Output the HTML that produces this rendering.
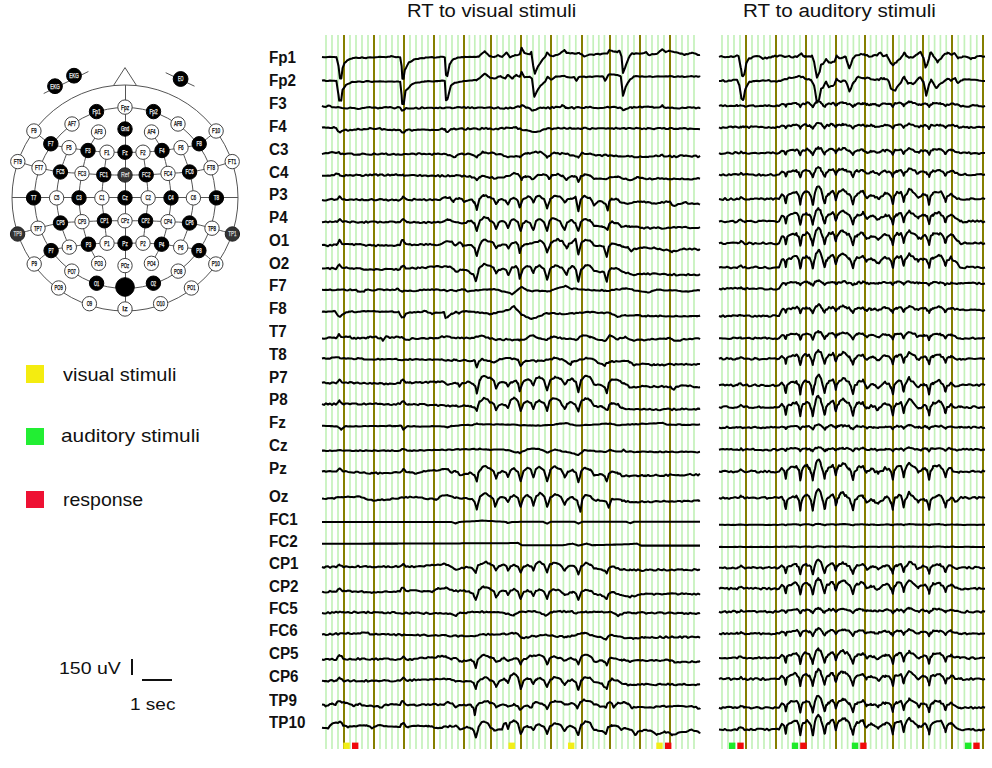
<!DOCTYPE html><html><head><meta charset="utf-8"><style>
html,body{margin:0;padding:0;background:#fff;}
body{width:992px;height:768px;position:relative;overflow:hidden;font-family:"Liberation Sans",sans-serif;color:#111;}
.t{position:absolute;white-space:nowrap;}
.lab{position:absolute;left:269px;font-weight:bold;font-size:16px;line-height:1;color:#111;transform:scaleX(0.95);transform-origin:0 0;}
.sq{position:absolute;left:26px;width:18px;height:18px;}
</style></head><body>
<svg width="250" height="330" viewBox="0 0 250 330" style="position:absolute;left:0;top:0">
<circle cx="125" cy="198" r="113" fill="none" stroke="#555" stroke-width="1"/>
<circle cx="125" cy="198" r="90.5" fill="none" stroke="#555" stroke-width="1"/>
<path d="M113.5,85.5 L125,67.6 L136.5,85.5" fill="none" stroke="#555" stroke-width="1"/>
<path d="M125.5,85 L125.5,311 M12,197.5 L238,197.5" fill="none" stroke="#555" stroke-width="1"/>
<path d="M33.9,131.0 C36.7,133.1 44.9,141.0 50.8,143.8 C56.6,146.6 62.8,146.6 69.0,147.7 C75.2,148.8 81.7,149.8 88.0,150.5 C94.3,151.2 100.8,151.9 107.0,152.2 C113.2,152.5 119.0,152.2 125.0,152.2 C131.0,152.2 136.8,152.5 143.0,152.2 C149.2,151.9 155.7,151.2 162.0,150.5 C168.3,149.8 174.8,148.8 181.0,147.7 C187.2,146.6 193.3,146.6 199.2,143.8 C205.0,141.0 213.3,133.1 216.1,131.0" fill="none" stroke="#555" stroke-width="1"/>
<path d="M17.8,161.6 C21.3,162.6 31.9,166.1 39.0,167.8 C46.1,169.5 53.2,171.1 60.4,172.0 C67.6,172.9 74.8,172.9 82.0,173.4 C89.2,173.9 96.6,174.5 103.8,174.8 C111.0,175.1 117.9,175.0 125.0,175.0 C132.1,175.0 139.0,175.1 146.2,174.8 C153.4,174.5 160.8,173.9 168.0,173.4 C175.2,172.9 182.4,172.9 189.6,172.0 C196.8,171.1 203.9,169.5 211.0,167.8 C218.1,166.1 228.7,162.6 232.2,161.6" fill="none" stroke="#555" stroke-width="1"/>
<path d="M17.6,234.0 C21.0,233.0 30.9,230.0 38.0,228.2 C45.1,226.4 53.2,224.1 60.5,223.0 C67.8,221.9 74.7,222.1 82.0,221.7 C89.3,221.3 97.2,221.0 104.4,220.8 C111.6,220.7 118.1,220.8 125.0,220.8 C131.9,220.8 138.4,220.7 145.6,220.8 C152.8,221.0 160.7,221.3 168.0,221.7 C175.3,222.1 182.2,221.9 189.5,223.0 C196.8,224.1 204.8,226.4 212.0,228.2 C219.2,230.0 229.0,233.0 232.4,234.0" fill="none" stroke="#555" stroke-width="1"/>
<path d="M34.2,264.0 C37.0,261.8 45.2,253.4 51.1,250.6 C57.0,247.8 63.1,248.2 69.3,247.1 C75.5,246.0 82.1,244.8 88.4,244.2 C94.7,243.5 100.9,243.4 107.0,243.2 C113.1,243.0 119.0,243.2 125.0,243.2 C131.0,243.2 136.9,243.0 143.0,243.2 C149.1,243.4 155.3,243.5 161.6,244.2 C167.9,244.8 174.5,246.0 180.7,247.1 C186.9,248.2 193.1,247.8 198.9,250.6 C204.8,253.4 213.0,261.8 215.8,264.0" fill="none" stroke="#555" stroke-width="1"/>
<path d="M98.5,132.0 C96.8,135.1 90.8,143.6 88.0,150.5 C85.2,157.4 83.5,165.5 82.0,173.4 C80.5,181.3 79.0,189.9 79.0,197.9 C79.0,205.9 80.4,214.0 82.0,221.7 C83.6,229.4 85.6,237.3 88.4,244.2 C91.2,251.1 96.9,260.1 98.6,263.3" fill="none" stroke="#555" stroke-width="1"/>
<path d="M151.5,132.0 C153.2,135.1 159.2,143.6 162.0,150.5 C164.8,157.4 166.5,165.5 168.0,173.4 C169.5,181.3 171.0,189.9 171.0,197.9 C171.0,205.9 169.6,214.0 168.0,221.7 C166.4,229.4 164.4,237.3 161.6,244.2 C158.8,251.1 153.1,260.1 151.4,263.3" fill="none" stroke="#555" stroke-width="1"/>
<path d="M69.0,147.7 C67.6,151.8 62.5,163.6 60.4,172.0 C58.3,180.4 56.6,189.4 56.6,197.9 C56.6,206.4 58.4,214.8 60.5,223.0 C62.6,231.2 67.8,243.1 69.3,247.1" fill="none" stroke="#555" stroke-width="1"/>
<path d="M181.0,147.7 C182.4,151.8 187.5,163.6 189.6,172.0 C191.7,180.4 193.4,189.4 193.4,197.9 C193.4,206.4 191.6,214.8 189.5,223.0 C187.4,231.2 182.2,243.1 180.7,247.1" fill="none" stroke="#555" stroke-width="1"/>
<path d="M107.0,152.2 C106.5,156.0 104.6,167.2 103.8,174.8 C103.0,182.4 101.8,190.2 101.9,197.9 C102.0,205.6 103.6,213.2 104.4,220.8 C105.2,228.4 106.6,239.5 107.0,243.2" fill="none" stroke="#555" stroke-width="1"/>
<path d="M143.0,152.2 C143.5,156.0 145.3,167.2 146.2,174.8 C147.0,182.4 148.2,190.2 148.1,197.9 C148.0,205.6 146.4,213.2 145.6,220.8 C144.8,228.4 143.4,239.5 143.0,243.2" fill="none" stroke="#555" stroke-width="1"/>
<path d="M43.7,93.5 L88.4,71.5 M165.7,72.7 L194.5,86.2" fill="none" stroke="#555" stroke-width="1"/>
<circle cx="125.0" cy="107.1" r="7.2" fill="#fff" stroke="#444" stroke-width="1"/><text x="125.0" y="109.5" font-size="6.6" fill="#000" text-anchor="middle" font-family="Liberation Sans" stroke="#000" stroke-width="0.25" textLength="8.2" lengthAdjust="spacingAndGlyphs">Fpz</text>
<circle cx="125.0" cy="129.0" r="7.2" fill="#000" stroke="#000" stroke-width="1"/><text x="125.0" y="131.4" font-size="6.6" fill="#f4f4f4" text-anchor="middle" font-family="Liberation Sans" stroke="#f4f4f4" stroke-width="0.25" textLength="8.2" lengthAdjust="spacingAndGlyphs">Gnd</text>
<circle cx="125.0" cy="152.2" r="7.2" fill="#000" stroke="#000" stroke-width="1"/><text x="125.0" y="154.6" font-size="6.6" fill="#f4f4f4" text-anchor="middle" font-family="Liberation Sans" stroke="#f4f4f4" stroke-width="0.25" textLength="5.4" lengthAdjust="spacingAndGlyphs">Fz</text>
<circle cx="125.0" cy="175.0" r="7.2" fill="#333" stroke="#222" stroke-width="1"/><text x="125.0" y="177.4" font-size="6.6" fill="#ddd" text-anchor="middle" font-family="Liberation Sans" stroke="#ddd" stroke-width="0.25" textLength="8.2" lengthAdjust="spacingAndGlyphs">Ref</text>
<circle cx="125.0" cy="197.9" r="7.2" fill="#000" stroke="#000" stroke-width="1"/><text x="125.0" y="200.3" font-size="6.6" fill="#f4f4f4" text-anchor="middle" font-family="Liberation Sans" stroke="#f4f4f4" stroke-width="0.25" textLength="5.4" lengthAdjust="spacingAndGlyphs">Cz</text>
<circle cx="125.0" cy="220.8" r="7.2" fill="#fff" stroke="#444" stroke-width="1"/><text x="125.0" y="223.2" font-size="6.6" fill="#000" text-anchor="middle" font-family="Liberation Sans" stroke="#000" stroke-width="0.25" textLength="8.2" lengthAdjust="spacingAndGlyphs">CPz</text>
<circle cx="125.0" cy="243.2" r="7.2" fill="#000" stroke="#000" stroke-width="1"/><text x="125.0" y="245.6" font-size="6.6" fill="#f4f4f4" text-anchor="middle" font-family="Liberation Sans" stroke="#f4f4f4" stroke-width="0.25" textLength="5.4" lengthAdjust="spacingAndGlyphs">Pz</text>
<circle cx="125.0" cy="265.6" r="7.2" fill="#fff" stroke="#444" stroke-width="1"/><text x="125.0" y="268.0" font-size="6.6" fill="#000" text-anchor="middle" font-family="Liberation Sans" stroke="#000" stroke-width="0.25" textLength="8.2" lengthAdjust="spacingAndGlyphs">POz</text>
<circle cx="125.0" cy="287.0" r="9.3" fill="#000" stroke="#000" stroke-width="1"/>
<circle cx="125.0" cy="309.0" r="7.2" fill="#fff" stroke="#444" stroke-width="1"/><text x="125.0" y="311.4" font-size="6.6" fill="#000" text-anchor="middle" font-family="Liberation Sans" stroke="#000" stroke-width="0.25" textLength="5.4" lengthAdjust="spacingAndGlyphs">Iz</text>
<circle cx="96.5" cy="111.6" r="7.2" fill="#000" stroke="#000" stroke-width="1"/><text x="96.5" y="114.0" font-size="6.6" fill="#f4f4f4" text-anchor="middle" font-family="Liberation Sans" stroke="#f4f4f4" stroke-width="0.25" textLength="8.2" lengthAdjust="spacingAndGlyphs">Fp1</text>
<circle cx="153.5" cy="111.6" r="7.2" fill="#000" stroke="#000" stroke-width="1"/><text x="153.5" y="114.0" font-size="6.6" fill="#f4f4f4" text-anchor="middle" font-family="Liberation Sans" stroke="#f4f4f4" stroke-width="0.25" textLength="8.2" lengthAdjust="spacingAndGlyphs">Fp2</text>
<circle cx="72.0" cy="124.0" r="7.2" fill="#fff" stroke="#444" stroke-width="1"/><text x="72.0" y="126.4" font-size="6.6" fill="#000" text-anchor="middle" font-family="Liberation Sans" stroke="#000" stroke-width="0.25" textLength="8.2" lengthAdjust="spacingAndGlyphs">AF7</text>
<circle cx="178.0" cy="124.0" r="7.2" fill="#fff" stroke="#444" stroke-width="1"/><text x="178.0" y="126.4" font-size="6.6" fill="#000" text-anchor="middle" font-family="Liberation Sans" stroke="#000" stroke-width="0.25" textLength="8.2" lengthAdjust="spacingAndGlyphs">AF8</text>
<circle cx="98.5" cy="132.0" r="7.2" fill="#fff" stroke="#444" stroke-width="1"/><text x="98.5" y="134.4" font-size="6.6" fill="#000" text-anchor="middle" font-family="Liberation Sans" stroke="#000" stroke-width="0.25" textLength="8.2" lengthAdjust="spacingAndGlyphs">AF3</text>
<circle cx="151.5" cy="132.0" r="7.2" fill="#fff" stroke="#444" stroke-width="1"/><text x="151.5" y="134.4" font-size="6.6" fill="#000" text-anchor="middle" font-family="Liberation Sans" stroke="#000" stroke-width="0.25" textLength="8.2" lengthAdjust="spacingAndGlyphs">AF4</text>
<circle cx="33.9" cy="131.0" r="7.2" fill="#fff" stroke="#444" stroke-width="1"/><text x="33.9" y="133.4" font-size="6.6" fill="#000" text-anchor="middle" font-family="Liberation Sans" stroke="#000" stroke-width="0.25" textLength="5.4" lengthAdjust="spacingAndGlyphs">F9</text>
<circle cx="216.1" cy="131.0" r="7.2" fill="#fff" stroke="#444" stroke-width="1"/><text x="216.1" y="133.4" font-size="6.6" fill="#000" text-anchor="middle" font-family="Liberation Sans" stroke="#000" stroke-width="0.25" textLength="8.2" lengthAdjust="spacingAndGlyphs">F10</text>
<circle cx="50.8" cy="143.8" r="7.2" fill="#000" stroke="#000" stroke-width="1"/><text x="50.8" y="146.2" font-size="6.6" fill="#f4f4f4" text-anchor="middle" font-family="Liberation Sans" stroke="#f4f4f4" stroke-width="0.25" textLength="5.4" lengthAdjust="spacingAndGlyphs">F7</text>
<circle cx="199.2" cy="143.8" r="7.2" fill="#000" stroke="#000" stroke-width="1"/><text x="199.2" y="146.2" font-size="6.6" fill="#f4f4f4" text-anchor="middle" font-family="Liberation Sans" stroke="#f4f4f4" stroke-width="0.25" textLength="5.4" lengthAdjust="spacingAndGlyphs">F8</text>
<circle cx="69.0" cy="147.7" r="7.2" fill="#fff" stroke="#444" stroke-width="1"/><text x="69.0" y="150.1" font-size="6.6" fill="#000" text-anchor="middle" font-family="Liberation Sans" stroke="#000" stroke-width="0.25" textLength="5.4" lengthAdjust="spacingAndGlyphs">F5</text>
<circle cx="181.0" cy="147.7" r="7.2" fill="#fff" stroke="#444" stroke-width="1"/><text x="181.0" y="150.1" font-size="6.6" fill="#000" text-anchor="middle" font-family="Liberation Sans" stroke="#000" stroke-width="0.25" textLength="5.4" lengthAdjust="spacingAndGlyphs">F6</text>
<circle cx="88.0" cy="150.5" r="7.2" fill="#000" stroke="#000" stroke-width="1"/><text x="88.0" y="152.9" font-size="6.6" fill="#f4f4f4" text-anchor="middle" font-family="Liberation Sans" stroke="#f4f4f4" stroke-width="0.25" textLength="5.4" lengthAdjust="spacingAndGlyphs">F3</text>
<circle cx="162.0" cy="150.5" r="7.2" fill="#000" stroke="#000" stroke-width="1"/><text x="162.0" y="152.9" font-size="6.6" fill="#f4f4f4" text-anchor="middle" font-family="Liberation Sans" stroke="#f4f4f4" stroke-width="0.25" textLength="5.4" lengthAdjust="spacingAndGlyphs">F4</text>
<circle cx="107.0" cy="152.2" r="7.2" fill="#fff" stroke="#444" stroke-width="1"/><text x="107.0" y="154.6" font-size="6.6" fill="#000" text-anchor="middle" font-family="Liberation Sans" stroke="#000" stroke-width="0.25" textLength="5.4" lengthAdjust="spacingAndGlyphs">F1</text>
<circle cx="143.0" cy="152.2" r="7.2" fill="#fff" stroke="#444" stroke-width="1"/><text x="143.0" y="154.6" font-size="6.6" fill="#000" text-anchor="middle" font-family="Liberation Sans" stroke="#000" stroke-width="0.25" textLength="5.4" lengthAdjust="spacingAndGlyphs">F2</text>
<circle cx="17.8" cy="161.6" r="7.2" fill="#fff" stroke="#444" stroke-width="1"/><text x="17.8" y="164.0" font-size="6.6" fill="#000" text-anchor="middle" font-family="Liberation Sans" stroke="#000" stroke-width="0.25" textLength="8.2" lengthAdjust="spacingAndGlyphs">FT9</text>
<circle cx="232.2" cy="161.6" r="7.2" fill="#fff" stroke="#444" stroke-width="1"/><text x="232.2" y="164.0" font-size="6.6" fill="#000" text-anchor="middle" font-family="Liberation Sans" stroke="#000" stroke-width="0.25" textLength="8.2" lengthAdjust="spacingAndGlyphs">FT1</text>
<circle cx="39.0" cy="167.8" r="7.2" fill="#fff" stroke="#444" stroke-width="1"/><text x="39.0" y="170.2" font-size="6.6" fill="#000" text-anchor="middle" font-family="Liberation Sans" stroke="#000" stroke-width="0.25" textLength="8.2" lengthAdjust="spacingAndGlyphs">FT7</text>
<circle cx="211.0" cy="167.8" r="7.2" fill="#fff" stroke="#444" stroke-width="1"/><text x="211.0" y="170.2" font-size="6.6" fill="#000" text-anchor="middle" font-family="Liberation Sans" stroke="#000" stroke-width="0.25" textLength="8.2" lengthAdjust="spacingAndGlyphs">FT8</text>
<circle cx="60.4" cy="172.0" r="7.2" fill="#000" stroke="#000" stroke-width="1"/><text x="60.4" y="174.4" font-size="6.6" fill="#f4f4f4" text-anchor="middle" font-family="Liberation Sans" stroke="#f4f4f4" stroke-width="0.25" textLength="8.2" lengthAdjust="spacingAndGlyphs">FC5</text>
<circle cx="189.6" cy="172.0" r="7.2" fill="#000" stroke="#000" stroke-width="1"/><text x="189.6" y="174.4" font-size="6.6" fill="#f4f4f4" text-anchor="middle" font-family="Liberation Sans" stroke="#f4f4f4" stroke-width="0.25" textLength="8.2" lengthAdjust="spacingAndGlyphs">FC6</text>
<circle cx="82.0" cy="173.4" r="7.2" fill="#fff" stroke="#444" stroke-width="1"/><text x="82.0" y="175.8" font-size="6.6" fill="#000" text-anchor="middle" font-family="Liberation Sans" stroke="#000" stroke-width="0.25" textLength="8.2" lengthAdjust="spacingAndGlyphs">FC3</text>
<circle cx="168.0" cy="173.4" r="7.2" fill="#fff" stroke="#444" stroke-width="1"/><text x="168.0" y="175.8" font-size="6.6" fill="#000" text-anchor="middle" font-family="Liberation Sans" stroke="#000" stroke-width="0.25" textLength="8.2" lengthAdjust="spacingAndGlyphs">FC4</text>
<circle cx="103.8" cy="174.8" r="7.2" fill="#000" stroke="#000" stroke-width="1"/><text x="103.8" y="177.2" font-size="6.6" fill="#f4f4f4" text-anchor="middle" font-family="Liberation Sans" stroke="#f4f4f4" stroke-width="0.25" textLength="8.2" lengthAdjust="spacingAndGlyphs">FC1</text>
<circle cx="146.2" cy="174.8" r="7.2" fill="#000" stroke="#000" stroke-width="1"/><text x="146.2" y="177.2" font-size="6.6" fill="#f4f4f4" text-anchor="middle" font-family="Liberation Sans" stroke="#f4f4f4" stroke-width="0.25" textLength="8.2" lengthAdjust="spacingAndGlyphs">FC2</text>
<circle cx="33.6" cy="197.9" r="7.2" fill="#000" stroke="#000" stroke-width="1"/><text x="33.6" y="200.3" font-size="6.6" fill="#f4f4f4" text-anchor="middle" font-family="Liberation Sans" stroke="#f4f4f4" stroke-width="0.25" textLength="5.4" lengthAdjust="spacingAndGlyphs">T7</text>
<circle cx="216.4" cy="197.9" r="7.2" fill="#000" stroke="#000" stroke-width="1"/><text x="216.4" y="200.3" font-size="6.6" fill="#f4f4f4" text-anchor="middle" font-family="Liberation Sans" stroke="#f4f4f4" stroke-width="0.25" textLength="5.4" lengthAdjust="spacingAndGlyphs">T8</text>
<circle cx="56.6" cy="197.9" r="7.2" fill="#fff" stroke="#444" stroke-width="1"/><text x="56.6" y="200.3" font-size="6.6" fill="#000" text-anchor="middle" font-family="Liberation Sans" stroke="#000" stroke-width="0.25" textLength="5.4" lengthAdjust="spacingAndGlyphs">C5</text>
<circle cx="193.4" cy="197.9" r="7.2" fill="#fff" stroke="#444" stroke-width="1"/><text x="193.4" y="200.3" font-size="6.6" fill="#000" text-anchor="middle" font-family="Liberation Sans" stroke="#000" stroke-width="0.25" textLength="5.4" lengthAdjust="spacingAndGlyphs">C6</text>
<circle cx="79.0" cy="197.9" r="7.2" fill="#000" stroke="#000" stroke-width="1"/><text x="79.0" y="200.3" font-size="6.6" fill="#f4f4f4" text-anchor="middle" font-family="Liberation Sans" stroke="#f4f4f4" stroke-width="0.25" textLength="5.4" lengthAdjust="spacingAndGlyphs">C3</text>
<circle cx="171.0" cy="197.9" r="7.2" fill="#000" stroke="#000" stroke-width="1"/><text x="171.0" y="200.3" font-size="6.6" fill="#f4f4f4" text-anchor="middle" font-family="Liberation Sans" stroke="#f4f4f4" stroke-width="0.25" textLength="5.4" lengthAdjust="spacingAndGlyphs">C4</text>
<circle cx="101.9" cy="197.9" r="7.2" fill="#fff" stroke="#444" stroke-width="1"/><text x="101.9" y="200.3" font-size="6.6" fill="#000" text-anchor="middle" font-family="Liberation Sans" stroke="#000" stroke-width="0.25" textLength="5.4" lengthAdjust="spacingAndGlyphs">C1</text>
<circle cx="148.1" cy="197.9" r="7.2" fill="#fff" stroke="#444" stroke-width="1"/><text x="148.1" y="200.3" font-size="6.6" fill="#000" text-anchor="middle" font-family="Liberation Sans" stroke="#000" stroke-width="0.25" textLength="5.4" lengthAdjust="spacingAndGlyphs">C2</text>
<circle cx="17.6" cy="234.0" r="7.2" fill="#333" stroke="#222" stroke-width="1"/><text x="17.6" y="236.4" font-size="6.6" fill="#ddd" text-anchor="middle" font-family="Liberation Sans" stroke="#ddd" stroke-width="0.25" textLength="8.2" lengthAdjust="spacingAndGlyphs">TP9</text>
<circle cx="232.4" cy="234.0" r="7.2" fill="#333" stroke="#222" stroke-width="1"/><text x="232.4" y="236.4" font-size="6.6" fill="#ddd" text-anchor="middle" font-family="Liberation Sans" stroke="#ddd" stroke-width="0.25" textLength="8.2" lengthAdjust="spacingAndGlyphs">TP1</text>
<circle cx="38.0" cy="228.2" r="7.2" fill="#fff" stroke="#444" stroke-width="1"/><text x="38.0" y="230.6" font-size="6.6" fill="#000" text-anchor="middle" font-family="Liberation Sans" stroke="#000" stroke-width="0.25" textLength="8.2" lengthAdjust="spacingAndGlyphs">TP7</text>
<circle cx="212.0" cy="228.2" r="7.2" fill="#fff" stroke="#444" stroke-width="1"/><text x="212.0" y="230.6" font-size="6.6" fill="#000" text-anchor="middle" font-family="Liberation Sans" stroke="#000" stroke-width="0.25" textLength="8.2" lengthAdjust="spacingAndGlyphs">TP8</text>
<circle cx="60.5" cy="223.0" r="7.2" fill="#000" stroke="#000" stroke-width="1"/><text x="60.5" y="225.4" font-size="6.6" fill="#f4f4f4" text-anchor="middle" font-family="Liberation Sans" stroke="#f4f4f4" stroke-width="0.25" textLength="8.2" lengthAdjust="spacingAndGlyphs">CP5</text>
<circle cx="189.5" cy="223.0" r="7.2" fill="#000" stroke="#000" stroke-width="1"/><text x="189.5" y="225.4" font-size="6.6" fill="#f4f4f4" text-anchor="middle" font-family="Liberation Sans" stroke="#f4f4f4" stroke-width="0.25" textLength="8.2" lengthAdjust="spacingAndGlyphs">CP6</text>
<circle cx="82.0" cy="221.7" r="7.2" fill="#fff" stroke="#444" stroke-width="1"/><text x="82.0" y="224.1" font-size="6.6" fill="#000" text-anchor="middle" font-family="Liberation Sans" stroke="#000" stroke-width="0.25" textLength="8.2" lengthAdjust="spacingAndGlyphs">CP3</text>
<circle cx="168.0" cy="221.7" r="7.2" fill="#fff" stroke="#444" stroke-width="1"/><text x="168.0" y="224.1" font-size="6.6" fill="#000" text-anchor="middle" font-family="Liberation Sans" stroke="#000" stroke-width="0.25" textLength="8.2" lengthAdjust="spacingAndGlyphs">CP4</text>
<circle cx="104.4" cy="220.8" r="7.2" fill="#000" stroke="#000" stroke-width="1"/><text x="104.4" y="223.2" font-size="6.6" fill="#f4f4f4" text-anchor="middle" font-family="Liberation Sans" stroke="#f4f4f4" stroke-width="0.25" textLength="8.2" lengthAdjust="spacingAndGlyphs">CP1</text>
<circle cx="145.6" cy="220.8" r="7.2" fill="#000" stroke="#000" stroke-width="1"/><text x="145.6" y="223.2" font-size="6.6" fill="#f4f4f4" text-anchor="middle" font-family="Liberation Sans" stroke="#f4f4f4" stroke-width="0.25" textLength="8.2" lengthAdjust="spacingAndGlyphs">CP2</text>
<circle cx="34.2" cy="264.0" r="7.2" fill="#fff" stroke="#444" stroke-width="1"/><text x="34.2" y="266.4" font-size="6.6" fill="#000" text-anchor="middle" font-family="Liberation Sans" stroke="#000" stroke-width="0.25" textLength="5.4" lengthAdjust="spacingAndGlyphs">P9</text>
<circle cx="215.8" cy="264.0" r="7.2" fill="#fff" stroke="#444" stroke-width="1"/><text x="215.8" y="266.4" font-size="6.6" fill="#000" text-anchor="middle" font-family="Liberation Sans" stroke="#000" stroke-width="0.25" textLength="8.2" lengthAdjust="spacingAndGlyphs">P10</text>
<circle cx="51.1" cy="250.6" r="7.2" fill="#000" stroke="#000" stroke-width="1"/><text x="51.1" y="253.0" font-size="6.6" fill="#f4f4f4" text-anchor="middle" font-family="Liberation Sans" stroke="#f4f4f4" stroke-width="0.25" textLength="5.4" lengthAdjust="spacingAndGlyphs">P7</text>
<circle cx="198.9" cy="250.6" r="7.2" fill="#000" stroke="#000" stroke-width="1"/><text x="198.9" y="253.0" font-size="6.6" fill="#f4f4f4" text-anchor="middle" font-family="Liberation Sans" stroke="#f4f4f4" stroke-width="0.25" textLength="5.4" lengthAdjust="spacingAndGlyphs">P8</text>
<circle cx="69.3" cy="247.1" r="7.2" fill="#fff" stroke="#444" stroke-width="1"/><text x="69.3" y="249.5" font-size="6.6" fill="#000" text-anchor="middle" font-family="Liberation Sans" stroke="#000" stroke-width="0.25" textLength="5.4" lengthAdjust="spacingAndGlyphs">P5</text>
<circle cx="180.7" cy="247.1" r="7.2" fill="#fff" stroke="#444" stroke-width="1"/><text x="180.7" y="249.5" font-size="6.6" fill="#000" text-anchor="middle" font-family="Liberation Sans" stroke="#000" stroke-width="0.25" textLength="5.4" lengthAdjust="spacingAndGlyphs">P6</text>
<circle cx="88.4" cy="244.2" r="7.2" fill="#000" stroke="#000" stroke-width="1"/><text x="88.4" y="246.6" font-size="6.6" fill="#f4f4f4" text-anchor="middle" font-family="Liberation Sans" stroke="#f4f4f4" stroke-width="0.25" textLength="5.4" lengthAdjust="spacingAndGlyphs">P3</text>
<circle cx="161.6" cy="244.2" r="7.2" fill="#000" stroke="#000" stroke-width="1"/><text x="161.6" y="246.6" font-size="6.6" fill="#f4f4f4" text-anchor="middle" font-family="Liberation Sans" stroke="#f4f4f4" stroke-width="0.25" textLength="5.4" lengthAdjust="spacingAndGlyphs">P4</text>
<circle cx="107.0" cy="243.2" r="7.2" fill="#fff" stroke="#444" stroke-width="1"/><text x="107.0" y="245.6" font-size="6.6" fill="#000" text-anchor="middle" font-family="Liberation Sans" stroke="#000" stroke-width="0.25" textLength="5.4" lengthAdjust="spacingAndGlyphs">P1</text>
<circle cx="143.0" cy="243.2" r="7.2" fill="#fff" stroke="#444" stroke-width="1"/><text x="143.0" y="245.6" font-size="6.6" fill="#000" text-anchor="middle" font-family="Liberation Sans" stroke="#000" stroke-width="0.25" textLength="5.4" lengthAdjust="spacingAndGlyphs">P2</text>
<circle cx="58.6" cy="288.0" r="7.2" fill="#fff" stroke="#444" stroke-width="1"/><text x="58.6" y="290.4" font-size="6.6" fill="#000" text-anchor="middle" font-family="Liberation Sans" stroke="#000" stroke-width="0.25" textLength="8.2" lengthAdjust="spacingAndGlyphs">PO9</text>
<circle cx="191.4" cy="288.0" r="7.2" fill="#fff" stroke="#444" stroke-width="1"/><text x="191.4" y="290.4" font-size="6.6" fill="#000" text-anchor="middle" font-family="Liberation Sans" stroke="#000" stroke-width="0.25" textLength="8.2" lengthAdjust="spacingAndGlyphs">PO1</text>
<circle cx="71.8" cy="271.1" r="7.2" fill="#fff" stroke="#444" stroke-width="1"/><text x="71.8" y="273.5" font-size="6.6" fill="#000" text-anchor="middle" font-family="Liberation Sans" stroke="#000" stroke-width="0.25" textLength="8.2" lengthAdjust="spacingAndGlyphs">PO7</text>
<circle cx="178.2" cy="271.1" r="7.2" fill="#fff" stroke="#444" stroke-width="1"/><text x="178.2" y="273.5" font-size="6.6" fill="#000" text-anchor="middle" font-family="Liberation Sans" stroke="#000" stroke-width="0.25" textLength="8.2" lengthAdjust="spacingAndGlyphs">PO8</text>
<circle cx="98.6" cy="263.3" r="7.2" fill="#fff" stroke="#444" stroke-width="1"/><text x="98.6" y="265.7" font-size="6.6" fill="#000" text-anchor="middle" font-family="Liberation Sans" stroke="#000" stroke-width="0.25" textLength="8.2" lengthAdjust="spacingAndGlyphs">PO3</text>
<circle cx="151.4" cy="263.3" r="7.2" fill="#fff" stroke="#444" stroke-width="1"/><text x="151.4" y="265.7" font-size="6.6" fill="#000" text-anchor="middle" font-family="Liberation Sans" stroke="#000" stroke-width="0.25" textLength="8.2" lengthAdjust="spacingAndGlyphs">PO4</text>
<circle cx="89.4" cy="303.7" r="7.2" fill="#fff" stroke="#444" stroke-width="1"/><text x="89.4" y="306.1" font-size="6.6" fill="#000" text-anchor="middle" font-family="Liberation Sans" stroke="#000" stroke-width="0.25" textLength="5.4" lengthAdjust="spacingAndGlyphs">O9</text>
<circle cx="160.6" cy="303.7" r="7.2" fill="#fff" stroke="#444" stroke-width="1"/><text x="160.6" y="306.1" font-size="6.6" fill="#000" text-anchor="middle" font-family="Liberation Sans" stroke="#000" stroke-width="0.25" textLength="8.2" lengthAdjust="spacingAndGlyphs">O10</text>
<circle cx="96.6" cy="283.2" r="7.2" fill="#000" stroke="#000" stroke-width="1"/><text x="96.6" y="285.6" font-size="6.6" fill="#f4f4f4" text-anchor="middle" font-family="Liberation Sans" stroke="#f4f4f4" stroke-width="0.25" textLength="5.4" lengthAdjust="spacingAndGlyphs">O1</text>
<circle cx="153.4" cy="283.2" r="7.2" fill="#000" stroke="#000" stroke-width="1"/><text x="153.4" y="285.6" font-size="6.6" fill="#f4f4f4" text-anchor="middle" font-family="Liberation Sans" stroke="#f4f4f4" stroke-width="0.25" textLength="5.4" lengthAdjust="spacingAndGlyphs">O2</text>
<circle cx="55.0" cy="86.2" r="7.4" fill="#000" stroke="#000" stroke-width="1"/><text x="55.0" y="88.6" font-size="6.6" fill="#f4f4f4" text-anchor="middle" font-family="Liberation Sans" stroke="#f4f4f4" stroke-width="0.25" textLength="9.6" lengthAdjust="spacingAndGlyphs">EKG</text>
<circle cx="74.0" cy="75.7" r="7.4" fill="#000" stroke="#000" stroke-width="1"/><text x="74.0" y="78.1" font-size="6.6" fill="#f4f4f4" text-anchor="middle" font-family="Liberation Sans" stroke="#f4f4f4" stroke-width="0.25" textLength="9.6" lengthAdjust="spacingAndGlyphs">EKG</text>
<circle cx="180.6" cy="79.0" r="7.4" fill="#000" stroke="#000" stroke-width="1"/><text x="180.6" y="81.4" font-size="6.6" fill="#f4f4f4" text-anchor="middle" font-family="Liberation Sans" stroke="#f4f4f4" stroke-width="0.25" textLength="5.4" lengthAdjust="spacingAndGlyphs">EO</text>
</svg>
<div class="t" id="t1" style="left:407.3px;top:0.9px;font-size:17.6px;transform:scaleX(1.151);transform-origin:0 0;">RT to visual stimuli</div>
<div class="t" id="t2" style="left:743.3px;top:0.9px;font-size:17.6px;transform:scaleX(1.172);transform-origin:0 0;">RT to auditory stimuli</div>
<div class="sq" style="top:365px;background:#f4ec10"></div>
<div class="sq" style="top:428px;height:17px;background:#22ee33"></div>
<div class="sq" style="top:491px;height:17px;background:#ee1133"></div>
<div class="t" id="lg1" style="left:63.1px;top:364.3px;font-size:18.5px;transform:scaleX(1.081);transform-origin:0 0;">visual stimuli</div>
<div class="t" id="lg2" style="left:60.6px;top:425.0px;font-size:18.5px;transform:scaleX(1.126);transform-origin:0 0;">auditory stimuli</div>
<div class="t" id="lg3" style="left:63.3px;top:489.0px;font-size:18.5px;transform:scaleX(1.054);transform-origin:0 0;">response</div>
<div class="t" id="sc1" style="left:59.2px;top:658.5px;font-size:17px;transform:scaleX(1.147);transform-origin:0 0;">150 uV</div>
<div style="position:absolute;left:130.5px;top:659px;width:2.5px;height:15.5px;background:#111"></div>
<div style="position:absolute;left:141.5px;top:679px;width:30px;height:2px;background:#111"></div>
<div class="t" id="sc2" style="left:130.1px;top:694.5px;font-size:17px;transform:scaleX(1.118);transform-origin:0 0;">1 sec</div>
<div class="lab" style="top:50.4px">Fp1</div>
<div class="lab" style="top:73.2px">Fp2</div>
<div class="lab" style="top:96.1px">F3</div>
<div class="lab" style="top:118.8px">F4</div>
<div class="lab" style="top:141.7px">C3</div>
<div class="lab" style="top:164.5px">C4</div>
<div class="lab" style="top:187.2px">P3</div>
<div class="lab" style="top:210.1px">P4</div>
<div class="lab" style="top:232.8px">O1</div>
<div class="lab" style="top:255.7px">O2</div>
<div class="lab" style="top:278.4px">F7</div>
<div class="lab" style="top:301.2px">F8</div>
<div class="lab" style="top:324.0px">T7</div>
<div class="lab" style="top:346.8px">T8</div>
<div class="lab" style="top:369.6px">P7</div>
<div class="lab" style="top:392.4px">P8</div>
<div class="lab" style="top:415.2px">Fz</div>
<div class="lab" style="top:438.0px">Cz</div>
<div class="lab" style="top:460.8px">Pz</div>
<div class="lab" style="top:488.6px">Oz</div>
<div class="lab" style="top:511.6px">FC1</div>
<div class="lab" style="top:533.9px">FC2</div>
<div class="lab" style="top:556.2px">CP1</div>
<div class="lab" style="top:578.6px">CP2</div>
<div class="lab" style="top:601.0px">FC5</div>
<div class="lab" style="top:623.4px">FC6</div>
<div class="lab" style="top:646.2px">CP5</div>
<div class="lab" style="top:668.6px">CP6</div>
<div class="lab" style="top:692.6px">TP9</div>
<div class="lab" style="top:715.1px">TP10</div>
<svg width="992" height="768" style="position:absolute;left:0;top:0"><g stroke="#c4f1ba" stroke-width="1.7"><line x1="326.0" y1="35" x2="326.0" y2="749"/><line x1="332.0" y1="35" x2="332.0" y2="749"/><line x1="338.0" y1="35" x2="338.0" y2="749"/><line x1="350.0" y1="35" x2="350.0" y2="749"/><line x1="356.0" y1="35" x2="356.0" y2="749"/><line x1="362.0" y1="35" x2="362.0" y2="749"/><line x1="368.0" y1="35" x2="368.0" y2="749"/><line x1="380.0" y1="35" x2="380.0" y2="749"/><line x1="386.0" y1="35" x2="386.0" y2="749"/><line x1="392.0" y1="35" x2="392.0" y2="749"/><line x1="398.0" y1="35" x2="398.0" y2="749"/><line x1="410.0" y1="35" x2="410.0" y2="749"/><line x1="416.0" y1="35" x2="416.0" y2="749"/><line x1="422.0" y1="35" x2="422.0" y2="749"/><line x1="428.0" y1="35" x2="428.0" y2="749"/><line x1="440.0" y1="35" x2="440.0" y2="749"/><line x1="446.0" y1="35" x2="446.0" y2="749"/><line x1="452.0" y1="35" x2="452.0" y2="749"/><line x1="458.0" y1="35" x2="458.0" y2="749"/><line x1="469.4" y1="35" x2="469.4" y2="749"/><line x1="474.8" y1="35" x2="474.8" y2="749"/><line x1="480.2" y1="35" x2="480.2" y2="749"/><line x1="485.6" y1="35" x2="485.6" y2="749"/><line x1="497.0" y1="35" x2="497.0" y2="749"/><line x1="503.0" y1="35" x2="503.0" y2="749"/><line x1="509.0" y1="35" x2="509.0" y2="749"/><line x1="515.0" y1="35" x2="515.0" y2="749"/><line x1="527.0" y1="35" x2="527.0" y2="749"/><line x1="533.0" y1="35" x2="533.0" y2="749"/><line x1="539.0" y1="35" x2="539.0" y2="749"/><line x1="545.0" y1="35" x2="545.0" y2="749"/><line x1="557.2" y1="35" x2="557.2" y2="749"/><line x1="563.4" y1="35" x2="563.4" y2="749"/><line x1="569.6" y1="35" x2="569.6" y2="749"/><line x1="575.8" y1="35" x2="575.8" y2="749"/><line x1="587.6" y1="35" x2="587.6" y2="749"/><line x1="593.2" y1="35" x2="593.2" y2="749"/><line x1="598.8" y1="35" x2="598.8" y2="749"/><line x1="604.4" y1="35" x2="604.4" y2="749"/><line x1="616.0" y1="35" x2="616.0" y2="749"/><line x1="622.0" y1="35" x2="622.0" y2="749"/><line x1="628.0" y1="35" x2="628.0" y2="749"/><line x1="634.0" y1="35" x2="634.0" y2="749"/><line x1="646.0" y1="35" x2="646.0" y2="749"/><line x1="652.0" y1="35" x2="652.0" y2="749"/><line x1="658.0" y1="35" x2="658.0" y2="749"/><line x1="664.0" y1="35" x2="664.0" y2="749"/><line x1="676.0" y1="35" x2="676.0" y2="749"/><line x1="682.0" y1="35" x2="682.0" y2="749"/><line x1="688.0" y1="35" x2="688.0" y2="749"/><line x1="694.0" y1="35" x2="694.0" y2="749"/><line x1="722.0" y1="35" x2="722.0" y2="749"/><line x1="728.0" y1="35" x2="728.0" y2="749"/><line x1="734.0" y1="35" x2="734.0" y2="749"/><line x1="740.0" y1="35" x2="740.0" y2="749"/><line x1="752.0" y1="35" x2="752.0" y2="749"/><line x1="758.0" y1="35" x2="758.0" y2="749"/><line x1="764.0" y1="35" x2="764.0" y2="749"/><line x1="770.0" y1="35" x2="770.0" y2="749"/><line x1="782.0" y1="35" x2="782.0" y2="749"/><line x1="788.0" y1="35" x2="788.0" y2="749"/><line x1="794.0" y1="35" x2="794.0" y2="749"/><line x1="800.0" y1="35" x2="800.0" y2="749"/><line x1="812.0" y1="35" x2="812.0" y2="749"/><line x1="818.0" y1="35" x2="818.0" y2="749"/><line x1="824.0" y1="35" x2="824.0" y2="749"/><line x1="830.0" y1="35" x2="830.0" y2="749"/><line x1="841.8" y1="35" x2="841.8" y2="749"/><line x1="847.6" y1="35" x2="847.6" y2="749"/><line x1="853.4" y1="35" x2="853.4" y2="749"/><line x1="859.2" y1="35" x2="859.2" y2="749"/><line x1="870.6" y1="35" x2="870.6" y2="749"/><line x1="876.2" y1="35" x2="876.2" y2="749"/><line x1="881.8" y1="35" x2="881.8" y2="749"/><line x1="887.4" y1="35" x2="887.4" y2="749"/><line x1="899.0" y1="35" x2="899.0" y2="749"/><line x1="905.0" y1="35" x2="905.0" y2="749"/><line x1="911.0" y1="35" x2="911.0" y2="749"/><line x1="917.0" y1="35" x2="917.0" y2="749"/><line x1="928.8" y1="35" x2="928.8" y2="749"/><line x1="934.6" y1="35" x2="934.6" y2="749"/><line x1="940.4" y1="35" x2="940.4" y2="749"/><line x1="946.2" y1="35" x2="946.2" y2="749"/><line x1="958.2" y1="35" x2="958.2" y2="749"/><line x1="964.4" y1="35" x2="964.4" y2="749"/><line x1="970.6" y1="35" x2="970.6" y2="749"/><line x1="976.8" y1="35" x2="976.8" y2="749"/></g><g stroke="#857f00" stroke-width="2"><line x1="344.0" y1="35" x2="344.0" y2="749"/><line x1="374.0" y1="35" x2="374.0" y2="749"/><line x1="404.0" y1="35" x2="404.0" y2="749"/><line x1="434.0" y1="35" x2="434.0" y2="749"/><line x1="464.0" y1="35" x2="464.0" y2="749"/><line x1="491.0" y1="35" x2="491.0" y2="749"/><line x1="521.0" y1="35" x2="521.0" y2="749"/><line x1="551.0" y1="35" x2="551.0" y2="749"/><line x1="582.0" y1="35" x2="582.0" y2="749"/><line x1="610.0" y1="35" x2="610.0" y2="749"/><line x1="640.0" y1="35" x2="640.0" y2="749"/><line x1="670.0" y1="35" x2="670.0" y2="749"/><line x1="746.0" y1="35" x2="746.0" y2="749"/><line x1="776.0" y1="35" x2="776.0" y2="749"/><line x1="806.0" y1="35" x2="806.0" y2="749"/><line x1="836.0" y1="35" x2="836.0" y2="749"/><line x1="865.0" y1="35" x2="865.0" y2="749"/><line x1="893.0" y1="35" x2="893.0" y2="749"/><line x1="923.0" y1="35" x2="923.0" y2="749"/><line x1="952.0" y1="35" x2="952.0" y2="749"/><line x1="983.0" y1="35" x2="983.0" y2="749"/></g><rect x="343.3" y="742.6" width="6.4" height="6.4" fill="#f2ee18"/><rect x="352.0" y="742.6" width="6.4" height="6.4" fill="#f00a0a"/><rect x="508.5" y="742.6" width="6.4" height="6.4" fill="#f2ee18"/><rect x="568.0" y="742.6" width="6.4" height="6.4" fill="#f2ee18"/><rect x="656.3" y="742.6" width="6.4" height="6.4" fill="#f2ee18"/><rect x="665.0" y="742.6" width="6.4" height="6.4" fill="#f00a0a"/><rect x="729.0" y="742.6" width="6.4" height="6.4" fill="#1eea2a"/><rect x="737.3" y="742.6" width="6.4" height="6.4" fill="#f00a0a"/><rect x="791.8" y="742.6" width="6.4" height="6.4" fill="#1eea2a"/><rect x="800.2" y="742.6" width="6.4" height="6.4" fill="#f00a0a"/><rect x="851.8" y="742.6" width="6.4" height="6.4" fill="#1eea2a"/><rect x="860.2" y="742.6" width="6.4" height="6.4" fill="#f00a0a"/><rect x="965.0" y="742.6" width="6.4" height="6.4" fill="#1eea2a"/><rect x="973.3" y="742.6" width="6.4" height="6.4" fill="#f00a0a"/><g fill="none" stroke="#000" stroke-width="2.05" stroke-linejoin="round"><polyline points="322.0,57.0 324.0,57.3 326.0,57.2 328.0,56.9 330.0,56.8 332.0,57.0 334.0,56.9 336.0,57.3 336.4,57.0 338.0,63.7 338.5,66.0 340.0,78.5 341.3,78.5 342.0,72.8 342.6,68.0 344.0,64.4 344.5,63.0 346.0,61.9 347.3,60.3 348.0,60.0 350.0,59.0 352.0,58.6 352.8,58.0 354.0,58.0 356.0,57.5 358.0,58.0 360.0,57.9 362.0,57.3 364.0,58.0 365.0,58.0 366.0,58.2 368.0,57.4 370.0,57.3 372.0,57.5 374.0,57.5 376.0,57.3 378.0,57.1 380.0,56.7 382.0,56.9 384.0,57.0 386.0,57.2 388.0,56.8 390.0,56.7 391.0,56.0 392.0,56.2 394.0,56.8 396.0,57.3 398.0,56.9 400.0,57.6 400.2,57.3 401.6,66.0 402.0,72.4 402.4,78.8 403.6,78.8 404.0,75.4 404.8,70.0 406.0,67.9 408.0,63.9 408.9,62.3 410.0,62.1 412.0,61.0 414.0,59.4 415.8,59.0 416.0,59.0 418.0,59.0 420.0,58.2 422.0,58.0 424.0,58.3 425.0,57.8 426.0,57.4 428.0,57.6 430.0,57.3 432.0,57.1 434.0,57.7 436.0,57.6 438.0,57.3 439.0,57.3 440.0,56.8 442.0,56.7 444.0,57.1 444.8,57.4 446.0,74.9 447.3,76.1 448.0,72.6 449.7,64.0 450.0,64.0 452.0,60.6 453.3,59.2 454.0,59.0 456.0,58.4 458.0,57.5 458.1,57.4 460.0,57.5 462.0,57.1 464.0,57.2 464.2,56.8 466.0,56.9 468.0,56.9 470.0,56.8 472.0,56.9 474.0,56.7 476.0,56.9 478.0,56.6 478.7,56.8 480.0,55.3 482.0,53.5 484.0,52.0 484.7,51.3 486.0,52.7 488.0,54.6 489.6,56.2 490.0,55.9 492.0,56.7 494.0,57.1 494.4,56.8 496.0,56.4 498.0,55.0 500.0,56.3 501.7,56.8 502.0,56.9 504.0,55.1 506.0,53.0 506.5,52.5 508.0,54.4 510.0,57.4 510.1,57.4 512.0,56.3 514.0,55.8 515.0,55.0 516.0,55.2 518.0,54.9 519.8,54.3 520.0,53.6 521.6,47.7 522.0,48.8 524.0,52.1 524.6,53.1 526.0,53.4 528.0,54.1 529.5,54.3 530.0,54.1 531.3,51.9 532.0,57.4 533.1,65.2 534.0,69.7 534.9,73.7 536.0,70.7 538.0,66.4 540.0,63.5 542.0,60.4 542.8,59.2 544.0,58.1 545.2,56.8 546.0,55.2 547.0,52.5 548.0,53.3 550.0,55.6 552.0,56.1 553.7,56.2 554.0,55.7 556.0,55.0 558.0,54.7 560.0,53.6 562.0,51.8 564.0,50.5 564.3,50.0 566.0,52.0 566.4,52.9 568.0,52.7 570.0,53.4 572.0,53.0 574.0,53.6 574.3,53.6 576.0,53.7 578.0,53.1 579.0,52.9 580.0,53.7 582.0,54.5 584.0,56.4 584.3,56.5 586.0,55.9 588.0,55.1 588.6,54.8 590.0,54.6 592.0,54.5 594.0,54.9 596.0,53.9 598.0,53.8 600.0,54.5 602.0,53.7 604.0,53.5 606.0,53.4 607.2,53.6 608.0,52.6 609.4,50.0 610.0,50.6 612.0,50.7 613.0,51.5 614.0,51.6 616.0,51.6 617.3,52.2 618.0,51.5 619.4,50.7 620.0,52.1 621.5,56.5 622.0,62.1 623.0,72.9 624.0,70.3 625.0,67.9 626.0,64.9 628.0,59.8 628.7,57.9 630.0,55.6 631.6,53.6 632.0,53.2 634.0,54.0 636.0,53.3 638.0,53.5 640.0,53.8 640.2,53.6 642.0,53.5 644.0,53.0 645.9,52.2 646.0,52.0 648.0,54.4 648.8,55.0 650.0,55.2 652.0,54.1 654.0,54.3 656.0,54.1 657.3,53.6 658.0,52.9 660.0,51.1 662.0,49.6 662.3,49.3 664.0,50.6 665.9,52.2 666.0,51.9 668.0,51.1 668.8,50.7 670.0,50.9 672.0,51.6 674.0,52.1 674.5,52.2 676.0,52.3 678.0,52.8 680.0,53.6 681.7,53.6 682.0,53.5 684.0,54.8 684.5,55.0 686.0,54.1 688.0,54.2 690.0,53.2 691.7,52.9 692.0,52.6 694.0,53.3 696.0,53.8 698.0,55.0 699.6,55.0 700.0,54.9"/><polyline points="322.0,80.6 324.0,80.3 326.0,81.0 328.0,81.0 330.0,80.5 332.0,80.8 334.0,80.8 336.0,81.0 336.4,80.9 338.0,91.9 338.5,95.0 339.2,100.6 340.0,100.2 341.2,100.6 342.0,93.9 342.6,89.7 344.0,88.0 346.0,84.9 348.0,83.9 350.0,83.2 351.5,82.2 352.0,81.7 354.0,81.9 356.0,82.0 358.0,81.4 360.0,81.5 362.0,81.9 364.0,81.9 366.0,81.1 368.0,81.1 370.0,81.6 372.0,82.0 374.0,81.5 376.0,81.4 378.0,81.6 380.0,81.2 382.0,81.4 384.0,81.6 386.0,81.7 388.0,81.5 390.0,81.5 392.0,81.5 394.0,81.7 396.0,81.6 398.0,81.4 400.0,82.1 400.2,81.8 401.6,95.0 402.0,101.1 402.2,104.0 403.7,104.0 404.0,102.0 405.5,91.0 406.0,90.2 408.0,88.6 410.0,86.3 410.3,85.6 412.0,84.3 414.0,83.4 415.8,82.6 416.0,82.8 418.0,82.5 420.0,82.4 422.0,81.7 424.0,81.7 425.0,81.3 426.0,81.4 428.0,81.1 430.0,81.3 432.0,81.5 434.0,81.4 436.0,81.1 438.0,81.1 439.0,81.0 440.0,81.0 442.0,80.6 444.0,80.8 444.8,81.0 446.0,100.3 447.3,99.5 448.0,97.1 450.0,89.1 450.9,85.8 452.0,84.6 454.0,83.3 454.5,82.8 456.0,82.7 458.0,82.3 460.0,81.7 462.0,81.4 464.0,81.0 464.2,81.0 466.0,81.1 468.0,80.8 470.0,80.6 472.0,80.5 474.0,80.0 476.0,79.9 476.3,80.3 478.0,79.1 480.0,77.8 482.0,75.9 484.0,74.2 484.7,73.7 486.0,74.4 488.0,76.1 489.6,77.3 490.0,77.8 492.0,78.1 494.0,78.4 494.4,78.5 496.0,78.2 498.0,76.8 500.0,76.3 500.5,76.1 502.0,77.3 504.0,77.9 505.3,78.5 506.0,77.4 507.7,74.9 508.0,74.9 510.0,76.6 512.0,78.5 512.6,78.5 514.0,76.7 516.0,75.4 516.2,74.9 518.0,76.1 519.8,76.7 520.0,76.5 521.6,71.9 522.0,72.8 524.0,76.5 524.6,77.3 526.0,77.1 528.0,76.9 529.5,76.7 530.0,77.0 531.9,78.5 532.0,78.9 534.0,94.8 534.3,96.7 536.0,93.3 536.7,91.8 538.0,89.4 540.0,86.5 540.4,85.8 542.0,84.4 544.0,82.5 545.2,81.6 546.0,79.8 547.6,76.7 548.0,77.1 550.0,78.8 551.2,79.7 552.0,79.3 554.0,77.9 556.0,76.3 556.1,76.7 558.0,76.4 560.0,76.5 562.0,75.9 564.0,75.9 564.3,75.8 566.0,76.7 568.0,77.3 568.6,77.2 570.0,77.5 572.0,77.5 574.0,77.0 574.3,77.2 576.0,80.3 576.5,80.8 578.0,78.4 578.6,77.2 580.0,76.8 582.0,76.7 584.0,76.6 586.0,77.2 588.0,76.7 590.0,76.5 592.0,76.9 594.0,76.6 596.0,76.3 598.0,76.3 600.0,76.6 602.0,76.2 603.0,76.5 604.0,78.3 605.1,80.8 606.0,79.4 608.0,75.6 608.7,74.4 610.0,74.3 612.0,74.6 614.0,74.4 616.0,74.9 617.3,75.1 618.0,75.3 620.0,75.9 620.8,76.5 622.0,86.7 623.0,95.8 624.0,92.8 625.8,86.5 626.0,86.2 628.0,82.6 630.0,79.7 630.1,79.4 632.0,78.4 634.0,76.3 634.4,76.5 636.0,76.1 638.0,76.2 640.0,76.7 642.0,76.2 644.0,76.7 646.0,76.7 648.0,76.5 650.0,76.2 652.0,76.9 654.0,76.8 656.0,76.5 658.0,76.3 660.0,76.6 662.0,76.4 664.0,76.6 666.0,76.3 668.0,76.6 670.0,76.1 672.0,76.3 674.0,76.9 676.0,76.8 678.0,76.3 680.0,76.8 682.0,76.3 684.0,76.9 686.0,76.7 688.0,76.4 690.0,76.3 692.0,76.1 694.0,76.8 696.0,76.1 698.0,76.8 699.6,76.5 700.0,76.9"/><polyline points="322.0,105.8 324.0,106.8 326.0,106.9 328.0,105.6 330.0,105.8 332.0,107.3 334.0,107.3 336.0,107.4 338.0,107.0 340.0,107.5 342.0,108.1 344.0,108.3 346.0,108.5 348.0,108.4 350.0,107.6 352.0,108.1 354.0,108.0 356.0,108.5 358.0,108.9 360.0,108.8 362.0,108.1 364.0,107.9 366.0,107.6 368.0,107.2 370.0,107.1 372.0,107.8 374.0,107.6 376.0,107.6 378.0,108.5 380.0,107.8 382.0,107.9 384.0,107.3 386.0,106.9 388.0,107.4 390.0,107.0 392.0,107.6 394.0,108.4 396.0,107.9 398.0,107.0 400.0,107.5 402.0,110.6 402.5,110.5 404.0,109.9 406.0,108.0 408.0,108.4 410.0,108.6 412.0,108.4 414.0,108.4 416.0,107.6 418.0,108.7 420.0,108.6 422.0,107.2 424.0,108.2 426.0,108.1 428.0,107.7 430.0,107.8 432.0,107.7 434.0,108.4 436.0,107.7 438.0,108.2 440.0,107.4 442.0,108.2 444.0,108.2 446.0,107.5 448.0,107.6 450.0,107.5 452.0,108.2 454.0,107.9 456.0,107.5 458.0,107.0 460.0,107.2 462.0,107.8 464.0,106.9 466.0,108.2 468.0,107.1 470.0,108.2 472.0,107.2 474.0,108.3 476.0,107.9 478.0,107.5 480.0,107.5 482.0,107.6 484.0,107.9 486.0,107.8 488.0,107.4 490.0,107.3 492.0,107.8 494.0,108.6 496.0,108.1 498.0,107.2 500.0,108.5 502.0,108.4 504.0,108.8 506.0,107.6 508.0,108.6 510.0,107.5 512.0,108.3 514.0,108.1 516.0,106.9 518.0,106.3 520.0,106.9 522.0,105.1 523.0,105.5 524.0,106.0 526.0,107.6 528.0,107.6 530.0,108.5 532.0,110.6 533.0,110.5 534.0,110.0 536.0,109.7 538.0,108.5 540.0,107.6 542.0,108.0 544.0,107.6 546.0,108.4 548.0,107.2 550.0,108.6 552.0,106.9 554.0,108.0 556.0,106.7 558.0,107.0 560.0,107.3 562.0,105.7 562.1,105.1 564.0,106.0 565.7,108.0 566.0,107.5 568.0,108.3 570.0,107.7 572.0,107.1 574.0,108.7 576.0,107.2 578.0,107.0 580.0,107.5 582.0,107.9 584.0,108.1 586.0,107.0 588.0,107.4 590.0,106.8 592.0,107.5 594.0,108.0 596.0,107.9 598.0,108.2 600.0,107.9 602.0,108.0 604.0,107.7 606.0,107.3 608.0,106.8 608.7,107.3 610.0,107.6 612.0,107.0 614.0,106.7 616.0,107.3 618.0,108.1 620.0,107.5 622.0,108.7 623.0,110.2 624.0,110.0 626.0,109.0 628.0,108.5 630.0,107.2 631.6,107.3 632.0,108.1 634.0,106.9 636.0,107.5 638.0,107.2 640.0,106.5 642.0,107.5 644.0,106.8 646.0,106.7 648.0,106.6 650.0,106.9 652.0,106.8 654.0,107.7 656.0,107.5 658.0,107.5 660.0,107.2 662.0,106.0 662.3,105.1 664.0,107.3 666.0,108.0 668.0,107.5 670.0,107.9 672.0,107.6 674.0,108.2 676.0,108.2 678.0,108.5 680.0,108.4 682.0,107.6 684.0,107.9 686.0,108.0 688.0,107.2 690.0,107.2 692.0,107.8 694.0,107.3 696.0,108.4 698.0,107.6 699.6,108.0 700.0,107.3"/><polyline points="322.0,127.6 324.0,127.2 326.0,127.7 328.0,127.5 330.0,127.9 332.0,128.0 334.0,127.0 335.0,127.8 336.0,127.9 338.0,131.2 340.0,132.5 342.0,130.9 344.0,130.2 346.0,129.6 348.0,130.8 350.0,129.8 352.0,130.3 354.0,129.6 356.0,129.7 358.0,128.8 360.0,129.5 362.0,129.7 364.0,129.0 366.0,129.3 368.0,129.0 370.0,127.9 372.0,128.5 374.0,129.0 376.0,128.9 378.0,128.5 380.0,128.1 382.0,129.7 384.0,129.1 386.0,129.6 388.0,130.0 390.0,129.8 392.0,130.3 394.0,129.5 396.0,130.3 398.0,129.8 400.0,130.0 402.0,132.4 403.0,132.5 404.0,132.6 406.0,130.1 407.0,130.2 408.0,129.5 410.0,129.6 412.0,130.8 414.0,129.9 416.0,130.1 418.0,129.5 420.0,129.8 422.0,129.5 424.0,129.4 426.0,129.7 428.0,129.7 430.0,130.2 432.0,129.7 434.0,130.1 436.0,129.9 438.0,130.1 440.0,129.4 442.0,128.5 444.0,129.6 445.0,129.0 446.0,131.3 447.0,132.0 448.0,131.9 450.0,129.9 451.0,129.0 452.0,129.4 454.0,128.5 456.0,129.5 458.0,129.1 460.0,128.6 462.0,128.2 464.0,129.5 466.0,129.7 468.0,128.1 470.0,129.3 472.0,128.7 474.0,128.2 476.0,128.4 478.0,129.2 480.0,129.4 482.0,127.9 484.0,128.9 486.0,127.9 488.0,129.0 490.0,128.4 492.0,129.3 494.0,129.4 496.0,128.6 498.0,129.4 500.0,128.2 502.0,127.8 504.0,128.7 505.0,128.5 506.0,127.6 508.0,127.7 510.0,127.9 512.0,128.1 514.0,127.1 515.0,127.6 516.0,127.0 518.0,128.9 520.0,128.4 522.0,130.0 524.0,130.3 526.0,129.9 528.0,130.5 530.0,131.0 532.0,131.7 534.0,132.0 535.0,132.1 536.0,131.9 538.0,131.4 540.0,131.3 542.0,130.0 544.0,129.3 546.0,129.2 547.0,128.5 548.0,128.1 550.0,128.2 552.0,129.3 554.0,128.5 556.0,128.6 558.0,127.7 560.0,128.4 562.0,128.6 564.0,127.7 566.0,128.7 568.0,128.7 570.0,127.8 572.0,128.7 574.0,128.4 576.0,128.8 578.0,128.2 580.0,128.9 582.0,128.9 584.0,127.7 586.0,127.8 588.0,128.8 590.0,129.3 592.0,128.1 594.0,128.4 596.0,128.7 598.0,128.2 600.0,128.3 602.0,128.2 604.0,128.3 606.0,128.7 608.0,128.2 610.0,128.5 612.0,128.3 614.0,129.0 616.0,127.7 618.0,128.6 619.0,128.5 620.0,128.9 622.0,128.2 624.0,128.0 626.0,129.0 628.0,128.1 630.0,128.0 632.0,128.4 634.0,128.8 636.0,127.8 638.0,128.2 640.0,128.2 642.0,129.1 644.0,128.4 646.0,129.1 648.0,127.9 650.0,128.2 652.0,128.8 654.0,129.2 656.0,128.4 658.0,128.0 660.0,127.9 662.0,128.6 664.0,128.0 666.0,129.0 668.0,129.1 670.0,128.0 672.0,128.1 674.0,129.0 676.0,128.7 678.0,129.0 680.0,128.2 682.0,128.5 684.0,128.0 686.0,128.3 688.0,129.3 690.0,128.5 692.0,128.7 694.0,128.9 696.0,129.0 698.0,129.1 700.0,129.3"/><polyline points="322.0,154.1 324.0,153.4 326.0,152.9 328.0,153.2 330.0,152.5 332.0,152.1 334.0,152.5 336.0,153.1 338.0,152.6 339.0,152.0 340.0,153.5 341.0,154.1 342.0,153.6 344.0,154.2 346.0,153.7 348.0,153.5 350.0,153.4 352.0,153.6 354.0,154.8 356.0,154.7 358.0,154.6 360.0,154.6 362.0,153.6 364.0,153.8 366.0,154.3 368.0,154.5 370.0,154.7 372.0,154.7 374.0,153.4 376.0,154.3 378.0,154.4 380.0,154.1 382.0,153.6 384.0,154.1 386.0,153.4 388.0,154.8 390.0,154.7 392.0,154.2 394.0,153.8 396.0,154.8 398.0,154.2 400.0,154.7 402.0,154.7 404.0,154.1 406.0,154.0 408.0,154.3 410.0,154.0 412.0,153.5 414.0,153.8 416.0,154.6 418.0,153.3 420.0,153.3 422.0,154.3 424.0,153.7 426.0,154.2 428.0,154.1 430.0,153.8 432.0,154.9 434.0,153.6 436.0,154.0 438.0,153.6 440.0,154.1 442.0,154.3 444.0,153.6 445.0,154.0 446.0,154.0 448.0,155.3 450.0,155.1 452.0,156.1 454.0,157.3 455.5,157.0 456.0,156.0 458.0,154.6 460.0,154.0 462.0,153.5 464.0,154.5 466.0,154.2 468.0,153.6 470.0,154.0 472.0,154.7 474.0,155.5 476.0,156.9 476.8,157.4 478.0,155.4 480.0,154.5 482.0,152.8 482.6,151.5 484.0,152.6 486.0,152.6 488.0,153.4 490.0,153.0 492.0,152.4 494.0,153.0 496.0,154.4 498.0,154.3 500.0,154.0 502.0,154.5 504.0,156.1 506.0,156.3 508.0,157.3 508.7,157.0 510.0,156.6 512.0,156.4 514.0,156.7 516.0,156.1 518.0,156.5 519.7,156.6 520.0,157.3 522.0,155.4 524.0,154.0 526.0,153.2 527.0,153.6 528.0,152.9 530.0,153.7 532.0,152.7 534.0,152.2 536.0,151.6 538.0,152.8 540.0,151.6 540.3,151.7 542.0,152.7 544.0,154.2 546.0,155.9 547.1,157.6 548.0,156.4 550.0,155.8 552.0,153.4 553.0,153.3 554.0,152.5 556.0,153.3 558.0,153.0 560.0,154.3 562.0,152.9 564.0,153.6 566.0,154.0 567.0,153.6 568.0,153.8 570.0,155.5 572.0,155.3 574.0,155.6 576.0,156.6 578.0,156.7 578.4,157.6 580.0,155.5 582.0,152.6 582.3,152.7 584.0,153.7 586.0,154.0 588.0,153.9 590.0,153.5 592.0,154.3 594.0,154.7 596.0,155.6 598.0,155.0 600.0,155.0 602.0,156.1 604.0,154.8 606.0,154.6 608.0,156.0 610.0,155.2 612.0,155.5 614.0,156.3 616.0,155.5 618.0,156.4 620.0,156.2 622.0,156.5 624.0,156.6 626.0,156.3 628.0,155.8 630.0,156.6 632.0,156.1 634.0,157.2 636.0,157.3 638.0,157.3 640.0,156.3 642.0,156.9 644.0,157.1 646.0,156.8 648.0,157.1 649.0,156.6 650.0,156.5 652.0,156.5 654.0,156.3 656.0,155.4 658.0,156.2 660.0,156.0 660.5,155.2 662.0,154.6 664.0,156.4 666.0,156.6 668.0,156.3 670.0,155.5 672.0,157.2 673.0,156.6 674.0,155.9 676.0,157.2 678.0,156.5 680.0,155.3 682.0,155.3 684.0,156.0 686.0,155.6 688.0,155.9 690.0,156.3 692.0,156.8 694.0,155.7 696.0,155.5 698.0,157.2 699.0,156.6 700.0,155.8"/><polyline points="322.0,175.7 324.0,175.7 326.0,175.7 328.0,175.6 330.0,175.7 332.0,175.1 334.0,175.2 336.0,173.5 338.0,174.0 339.0,174.0 340.0,175.6 341.0,175.7 342.0,175.9 344.0,176.3 346.0,174.9 348.0,175.5 350.0,175.1 352.0,175.6 354.0,175.6 356.0,174.6 358.0,174.9 360.0,175.0 362.0,176.0 364.0,175.7 366.0,174.6 368.0,175.7 370.0,174.5 372.0,175.3 374.0,174.4 376.0,174.2 378.0,175.6 380.0,174.5 382.0,174.4 384.0,175.7 386.0,175.5 388.0,174.4 390.0,175.5 392.0,174.8 394.0,175.0 396.0,174.1 398.0,175.3 400.0,174.9 402.0,175.3 403.0,174.5 404.0,175.8 405.0,175.7 406.0,175.4 408.0,175.5 410.0,175.2 412.0,175.1 414.0,175.0 416.0,175.4 418.0,175.9 420.0,174.9 422.0,176.1 424.0,175.5 426.0,175.5 428.0,176.3 430.0,175.8 432.0,175.5 434.0,175.8 436.0,176.2 438.0,175.1 440.0,176.7 442.0,175.1 444.0,176.3 446.0,176.5 448.0,175.1 450.0,176.4 452.0,175.7 454.0,176.1 456.0,175.1 458.0,175.2 460.0,175.4 462.0,176.7 464.0,175.5 466.0,176.4 468.0,176.7 470.0,176.0 472.0,177.6 474.0,177.4 474.8,178.0 476.0,179.1 476.8,180.2 478.0,178.9 479.7,177.0 480.0,177.4 482.0,175.8 484.0,176.0 486.0,176.8 488.0,177.3 490.0,177.9 492.0,176.9 494.0,178.8 496.0,178.5 498.0,177.4 500.0,177.4 502.0,177.4 504.0,177.5 506.0,176.1 508.0,176.0 510.0,175.8 512.0,174.2 513.9,173.2 514.0,172.9 516.0,173.7 518.0,174.1 518.6,174.9 520.0,176.5 521.7,180.0 522.0,178.8 523.3,177.1 524.0,177.1 525.6,176.1 526.0,177.1 528.0,176.4 530.0,177.0 532.0,179.3 533.4,179.0 534.0,178.5 536.0,176.5 537.3,175.4 538.0,174.8 540.0,175.0 542.0,175.0 543.2,174.2 544.0,174.4 546.0,175.0 546.7,175.4 548.0,176.7 549.0,179.0 550.0,178.6 552.0,174.8 552.2,175.4 554.0,174.9 556.0,175.0 557.0,174.2 558.0,173.8 560.0,175.3 562.0,176.2 562.8,175.6 564.0,177.2 566.0,179.7 566.7,180.0 568.0,178.1 569.8,177.1 570.0,176.9 572.0,176.0 574.0,176.8 574.5,176.1 576.0,176.7 576.8,177.5 578.0,180.8 578.4,182.0 580.0,178.9 580.8,176.1 582.0,176.1 584.0,175.2 584.3,174.2 586.0,174.5 588.0,174.9 590.0,175.8 590.1,175.4 592.0,177.1 594.0,179.0 596.0,178.6 598.0,178.8 600.0,178.4 602.0,178.8 604.0,179.0 606.0,179.2 608.0,178.4 610.0,177.0 612.0,177.2 614.0,177.0 616.0,176.7 617.5,177.0 618.0,176.4 620.0,177.2 622.0,178.5 624.0,179.0 626.0,178.6 628.0,179.8 630.0,180.2 631.2,180.0 632.0,179.9 634.0,178.8 636.0,178.0 637.0,177.0 638.0,177.0 640.0,178.0 642.0,177.7 644.0,178.5 645.0,178.7 646.0,179.2 648.0,179.0 650.0,178.3 652.0,179.5 654.0,179.0 656.0,178.8 658.0,177.9 660.0,178.8 662.0,178.3 664.0,179.0 666.0,178.6 668.0,179.2 670.0,179.0 672.0,179.2 674.0,178.4 676.0,178.9 678.0,179.1 680.0,179.3 682.0,178.4 684.0,179.3 686.0,179.3 688.0,179.0 690.0,179.5 692.0,179.5 694.0,178.7 696.0,178.7 698.0,178.1 700.0,178.7"/><polyline points="322.0,200.0 324.0,200.4 326.0,200.4 328.0,199.8 330.0,199.3 332.0,198.8 334.0,199.9 336.0,199.5 337.0,199.5 338.0,198.6 339.4,196.4 340.0,196.7 342.0,199.1 343.0,199.5 344.0,199.1 346.0,200.0 348.0,199.9 350.0,199.4 352.0,199.6 354.0,199.9 356.0,199.1 358.0,199.7 360.0,200.2 362.0,199.3 364.0,200.2 366.0,200.0 368.0,200.3 370.0,199.5 372.0,199.1 374.0,200.3 376.0,200.3 378.0,199.7 380.0,199.1 382.0,199.3 384.0,200.1 386.0,199.5 388.0,200.7 390.0,200.1 392.0,199.4 394.0,200.2 396.0,199.7 398.0,200.7 400.0,200.0 402.0,198.4 403.0,196.5 404.0,197.3 406.0,199.0 407.0,199.5 408.0,199.9 410.0,200.1 412.0,200.4 414.0,198.8 416.0,199.4 418.0,199.8 420.0,199.4 422.0,199.9 424.0,199.1 426.0,200.4 428.0,199.9 430.0,199.2 432.0,200.2 434.0,199.6 436.0,199.4 438.0,199.9 440.0,200.0 442.0,198.4 444.0,197.4 445.8,197.0 446.0,197.7 448.0,197.9 450.0,197.3 450.4,198.2 452.0,200.6 453.5,202.0 454.0,200.5 455.7,199.0 456.0,198.6 458.0,199.0 459.0,198.0 460.0,198.5 462.0,199.0 464.0,202.0 466.0,201.0 468.0,200.4 470.0,199.7 471.0,199.5 472.0,199.6 474.0,202.6 474.5,202.2 476.0,206.5 476.8,210.0 478.0,204.8 479.5,198.7 480.0,198.7 482.0,196.2 483.5,195.0 484.0,196.0 486.0,195.3 488.0,197.2 490.0,197.0 492.0,198.6 493.6,198.8 494.0,199.9 496.0,204.0 498.0,201.5 498.4,200.2 500.0,199.6 502.0,199.0 504.0,200.3 505.6,200.4 506.0,201.6 508.0,204.5 510.0,200.2 510.4,199.4 512.0,198.6 513.9,197.7 514.0,198.1 516.0,199.0 517.4,200.2 518.0,201.4 519.7,207.4 520.0,207.1 522.0,201.2 522.9,199.4 524.0,198.7 526.0,198.1 527.6,196.7 528.0,196.3 530.0,196.9 531.1,198.2 532.0,199.2 533.4,202.5 534.0,201.4 535.8,197.4 536.0,197.0 538.0,195.9 539.3,195.7 540.0,196.1 542.0,198.3 544.0,198.9 546.0,204.6 547.1,208.4 548.0,205.5 550.0,200.3 550.3,198.8 552.0,197.9 554.0,196.0 555.0,195.7 556.0,195.9 558.0,196.5 560.0,196.6 560.8,197.4 562.0,198.7 564.0,201.2 564.7,202.5 566.0,201.4 567.1,199.6 568.0,199.0 570.0,199.0 570.6,198.6 572.0,198.9 574.0,198.0 575.5,196.7 576.0,199.0 578.0,209.5 578.4,211.3 580.0,203.1 580.8,199.6 582.0,198.1 584.0,196.0 584.3,195.7 586.0,196.9 588.0,198.0 590.0,197.7 590.1,198.1 592.0,200.9 594.0,205.5 596.0,203.5 597.2,202.5 598.0,201.6 600.0,201.1 602.0,201.5 604.0,203.3 605.4,203.7 606.0,204.8 607.7,210.4 608.0,209.1 609.3,201.6 610.0,200.5 611.7,198.6 612.0,199.4 614.0,199.6 616.0,198.6 617.5,199.6 618.0,199.4 620.0,202.2 621.4,202.5 622.0,202.8 624.0,202.7 626.0,203.6 628.0,203.9 629.0,203.5 630.0,203.3 632.0,202.9 634.0,202.0 636.0,202.1 638.0,201.4 640.0,201.9 641.0,201.5 642.0,201.9 644.0,201.4 646.0,202.6 648.0,202.0 650.0,202.4 652.0,203.6 652.7,203.5 654.0,203.3 656.0,203.8 658.0,203.1 660.0,203.0 662.0,201.8 664.0,202.8 666.0,201.3 668.0,201.9 670.0,201.5 672.0,204.9 673.0,205.5 674.0,205.9 676.0,205.4 678.0,204.1 680.0,203.9 682.0,203.5 684.0,202.5 686.0,202.1 688.0,203.7 690.0,203.8 692.0,203.3 694.0,204.0 696.0,203.7 698.0,203.6 699.0,204.1 700.0,204.5"/><polyline points="322.0,222.2 324.0,221.9 326.0,221.6 328.0,222.4 330.0,221.4 332.0,222.1 334.0,221.8 336.0,221.3 337.0,222.0 338.0,221.0 339.4,219.5 340.0,219.1 342.0,221.2 343.0,222.0 344.0,221.3 346.0,221.3 348.0,221.9 350.0,222.6 352.0,221.4 354.0,221.6 356.0,222.3 358.0,222.8 360.0,222.2 362.0,221.9 364.0,222.9 366.0,221.3 368.0,222.7 370.0,221.7 372.0,221.5 374.0,221.5 376.0,221.8 378.0,222.7 380.0,221.6 382.0,222.3 384.0,222.4 386.0,221.9 388.0,222.2 390.0,221.4 392.0,221.4 394.0,221.7 396.0,222.5 398.0,222.1 400.0,222.2 402.0,219.9 403.2,219.0 404.0,219.8 406.0,221.3 407.0,222.2 408.0,221.9 410.0,222.7 412.0,222.6 414.0,221.8 416.0,222.4 418.0,222.3 420.0,223.0 422.0,222.7 424.0,222.0 426.0,223.2 428.0,221.7 430.0,222.3 432.0,222.9 434.0,221.9 436.0,222.4 438.0,221.7 440.0,222.5 442.0,222.0 444.0,221.3 446.0,220.1 447.7,219.3 448.0,220.0 450.0,219.8 452.0,221.2 454.0,221.8 455.0,222.0 456.0,222.2 458.0,222.2 460.0,223.1 462.0,223.5 464.0,222.9 465.0,223.0 466.0,222.9 468.0,221.0 470.0,221.3 471.0,220.5 472.0,221.5 474.0,223.6 474.5,223.2 476.0,228.8 476.8,231.0 478.0,226.6 479.9,220.7 480.0,220.4 482.0,219.4 484.0,216.9 484.5,217.3 486.0,217.7 487.8,218.2 488.0,217.9 490.0,221.0 492.0,221.5 493.6,223.0 494.0,223.3 496.0,229.0 498.0,224.5 498.4,223.0 500.0,221.5 502.0,221.0 504.0,221.5 505.6,222.8 506.0,223.4 508.0,228.0 510.0,223.0 510.4,221.4 512.0,219.7 513.9,219.2 514.0,219.2 516.0,220.8 518.0,222.2 520.0,229.3 520.7,230.9 522.0,226.6 522.7,223.5 524.0,223.1 525.6,221.1 526.0,220.9 528.0,222.1 530.0,222.9 530.3,223.3 532.0,227.6 533.4,229.9 534.0,228.6 535.8,221.8 536.0,221.1 538.0,219.6 539.3,219.2 540.0,219.2 542.0,220.4 544.0,222.2 546.0,227.8 547.1,230.9 548.0,227.4 549.5,221.3 550.0,220.5 552.0,218.3 553.0,218.2 554.0,218.5 556.0,219.2 558.0,220.4 560.0,221.1 562.0,225.6 564.0,228.9 564.7,229.9 566.0,225.9 567.1,222.5 568.0,222.1 570.0,220.8 570.6,220.1 572.0,220.1 574.0,222.7 575.3,222.9 576.0,225.1 578.0,230.5 578.4,230.9 580.0,225.5 580.8,222.1 582.0,220.9 584.0,219.3 584.3,219.2 586.0,219.0 588.0,220.5 590.0,220.1 590.1,220.9 592.0,222.6 594.0,226.0 596.0,225.7 598.0,225.9 600.0,226.4 602.0,226.2 602.2,227.0 604.0,227.1 606.0,228.4 607.7,229.9 608.0,228.1 609.3,224.0 610.0,223.2 611.7,222.0 612.0,221.3 614.0,223.1 616.0,223.1 617.5,223.2 618.0,223.1 620.0,225.2 621.4,227.0 622.0,226.7 624.0,226.4 626.0,225.8 628.0,226.7 629.0,226.0 630.0,227.0 632.0,226.4 634.0,226.8 636.0,226.5 638.0,226.8 640.0,227.6 641.0,228.0 642.0,227.6 644.0,228.6 646.0,227.4 648.0,227.2 650.0,228.8 652.0,228.0 654.0,227.4 656.0,228.1 658.0,227.2 660.0,228.0 662.0,228.8 664.0,228.6 666.0,228.3 668.0,227.6 670.0,228.0 672.0,227.5 674.0,226.9 676.0,227.7 678.0,227.0 680.0,227.1 682.0,227.6 684.0,226.9 686.0,226.8 688.0,227.8 690.0,228.2 692.0,228.0 694.0,228.0 696.0,228.1 698.0,228.0 699.0,227.6 700.0,227.1"/><polyline points="322.0,245.0 324.0,244.8 326.0,245.5 328.0,246.2 330.0,244.7 332.0,245.6 334.0,244.4 336.0,244.6 336.5,245.0 338.0,243.2 339.4,239.8 340.0,240.3 342.0,244.0 344.0,244.2 345.0,244.0 346.0,244.0 348.0,244.1 350.0,244.3 352.0,243.9 354.0,245.1 356.0,243.9 358.0,244.3 360.0,244.0 362.0,244.5 364.0,244.9 366.0,245.9 368.0,245.1 370.0,244.7 372.0,245.5 374.0,245.1 376.0,246.3 378.0,244.7 380.0,245.6 382.0,245.2 384.0,245.7 386.0,245.1 388.0,245.7 390.0,245.4 392.0,245.6 394.0,246.0 396.0,245.5 398.0,244.7 400.0,245.3 401.3,241.3 402.0,240.1 403.2,240.0 404.0,241.9 406.0,244.0 408.0,244.3 409.0,244.5 410.0,244.0 412.0,245.3 414.0,244.6 416.0,244.9 418.0,245.1 420.0,244.1 422.0,244.3 424.0,245.1 426.0,243.9 428.0,244.9 430.0,243.8 432.0,244.8 434.0,244.8 436.0,245.3 438.0,245.1 440.0,244.5 442.0,243.6 444.0,242.3 446.0,241.3 447.7,241.2 448.0,241.3 450.0,241.7 452.0,241.5 452.4,242.3 454.0,244.6 455.5,245.5 456.0,245.1 458.0,243.7 459.0,242.5 460.0,242.4 461.4,243.5 462.0,244.1 463.0,246.4 464.0,245.4 466.0,245.6 468.0,245.1 470.0,245.0 471.0,245.0 472.0,245.6 474.0,247.9 474.5,247.8 476.0,253.8 476.8,256.0 478.0,251.1 479.7,245.5 480.0,244.8 482.0,241.1 484.0,239.7 485.5,239.6 486.0,240.1 488.0,241.5 490.0,241.5 492.0,241.9 493.7,243.3 494.0,244.4 496.0,247.8 496.1,248.3 498.0,245.8 499.3,245.4 500.0,245.8 502.0,244.6 504.0,244.5 506.0,244.7 506.7,245.5 508.0,247.6 508.5,248.5 510.0,245.6 511.4,243.7 512.0,243.3 514.0,242.7 515.8,242.1 516.0,242.2 518.0,244.8 518.1,244.8 519.7,253.0 520.0,251.6 521.3,247.4 522.0,246.2 523.6,245.6 524.0,244.8 526.0,244.1 528.0,244.1 529.5,243.6 530.0,243.2 532.0,243.4 534.0,242.3 536.0,242.0 538.0,241.9 539.3,240.7 540.0,240.4 542.0,241.6 544.0,243.7 546.0,248.7 547.1,252.4 548.0,250.0 550.0,245.3 551.0,242.6 552.0,242.4 554.0,240.7 556.0,240.6 556.9,239.3 558.0,238.9 560.0,241.1 562.0,240.8 562.8,241.6 564.0,244.4 566.0,246.5 566.7,248.5 568.0,246.4 569.0,243.4 570.0,243.4 572.0,242.8 572.5,241.7 574.0,240.4 575.5,238.8 576.0,240.9 578.0,253.0 578.4,254.4 580.0,247.9 581.2,243.3 582.0,241.9 584.0,241.0 585.3,239.7 586.0,239.9 588.0,240.4 590.0,240.4 590.5,241.2 592.0,242.4 594.0,245.6 596.0,245.9 598.0,245.9 600.0,245.6 602.0,246.3 603.8,246.6 604.0,247.7 606.0,254.5 606.8,256.9 608.0,250.7 608.8,246.9 610.0,245.3 611.7,243.6 612.0,243.4 614.0,243.7 616.0,244.2 618.0,245.1 620.0,245.1 622.0,246.6 623.4,246.6 624.0,247.1 626.0,247.5 628.0,247.0 628.1,247.8 630.0,249.9 631.2,251.5 632.0,250.8 634.0,248.7 635.1,248.6 636.0,249.2 638.0,248.5 640.0,247.8 641.0,247.6 642.0,248.0 644.0,247.2 646.0,247.4 648.0,248.0 650.0,248.5 652.0,248.4 654.0,247.4 656.0,248.6 658.0,249.2 659.8,248.6 660.0,249.0 662.0,249.8 664.0,250.4 666.0,249.6 668.0,250.1 670.0,251.0 672.0,252.2 672.3,251.5 674.0,250.8 676.0,251.3 678.0,250.6 680.0,249.6 682.0,249.2 684.0,248.5 686.0,249.4 688.0,249.2 690.0,248.6 692.0,249.6 694.0,248.6 696.0,249.1 698.0,250.2 699.0,249.5 700.0,250.1"/><polyline points="322.0,268.5 324.0,268.4 326.0,268.3 328.0,267.9 330.0,269.1 332.0,267.7 334.0,268.5 336.0,269.2 336.5,268.5 338.0,265.7 339.4,264.4 340.0,265.3 342.0,267.7 344.0,268.1 345.0,268.0 346.0,267.3 348.0,268.0 350.0,268.6 352.0,268.3 354.0,268.9 356.0,268.1 358.0,268.3 360.0,268.2 362.0,269.0 364.0,269.8 366.0,269.4 368.0,269.8 370.0,269.3 372.0,269.6 374.0,270.0 376.0,268.9 378.0,269.2 380.0,269.8 382.0,269.9 384.0,269.3 386.0,268.7 388.0,269.0 390.0,268.9 392.0,269.0 394.0,269.9 396.0,268.8 398.0,270.0 400.0,269.3 401.3,266.6 402.0,266.9 403.2,265.7 404.0,265.8 406.0,268.6 408.0,268.4 409.0,268.6 410.0,268.5 412.0,267.6 414.0,268.2 416.0,268.9 418.0,267.4 420.0,268.1 422.0,267.1 424.0,267.8 426.0,268.2 428.0,266.9 430.0,266.5 432.0,266.5 434.0,267.1 436.0,266.1 438.0,266.1 440.0,266.7 442.0,267.3 444.0,266.3 445.8,266.3 446.0,266.2 448.0,267.0 450.0,266.5 451.6,267.6 452.0,268.1 454.0,269.4 455.5,271.5 456.0,271.6 458.0,271.6 460.0,269.6 462.0,269.9 463.0,269.6 464.0,270.1 466.0,270.0 468.0,270.8 469.0,271.5 470.0,272.9 472.0,274.1 473.1,274.0 474.0,275.7 475.8,281.2 476.0,280.7 478.0,273.0 478.9,268.6 480.0,267.1 482.0,266.0 483.5,264.4 484.0,263.7 486.0,264.7 488.0,265.6 490.0,265.7 492.0,266.9 493.7,267.7 494.0,268.9 496.0,272.6 496.1,273.5 498.0,270.7 498.9,269.8 500.0,270.1 502.0,269.0 503.0,268.6 504.0,269.0 506.0,269.9 506.3,270.2 508.0,274.7 508.5,275.0 510.0,271.7 511.4,268.4 512.0,267.2 514.0,267.5 515.8,266.1 516.0,266.1 518.0,269.0 518.1,269.2 519.7,278.8 520.0,277.4 522.0,271.8 522.9,269.2 524.0,268.2 526.0,266.5 527.6,266.1 528.0,266.5 530.0,266.6 531.1,267.9 532.0,270.4 533.4,273.0 534.0,270.7 535.8,267.1 536.0,267.5 538.0,266.4 539.3,265.2 540.0,265.7 542.0,267.7 544.0,268.9 546.0,275.5 547.1,279.8 548.0,277.1 550.0,269.6 550.3,268.8 552.0,267.1 554.0,266.8 555.0,265.2 556.0,265.4 558.0,266.0 560.0,267.5 562.0,267.6 564.0,270.5 566.0,274.1 566.7,274.9 568.0,270.6 569.0,268.4 570.0,268.3 572.0,266.0 572.5,266.1 574.0,267.0 576.0,270.0 578.0,280.6 578.4,281.8 580.0,274.0 581.2,269.3 582.0,269.3 584.0,267.3 585.3,265.2 586.0,265.6 588.0,265.1 590.0,265.8 590.5,266.6 592.0,268.0 594.0,271.0 596.0,271.0 598.0,271.6 600.0,272.4 602.0,271.6 603.8,272.0 604.0,272.0 606.0,279.3 606.8,281.8 608.0,274.9 608.8,271.5 610.0,269.4 611.7,268.1 612.0,268.2 614.0,268.8 616.0,268.0 618.0,268.9 618.7,269.1 620.0,270.2 622.0,271.6 623.4,272.0 624.0,272.0 626.0,273.3 628.0,272.6 630.0,274.0 632.0,274.6 634.0,275.3 635.0,274.9 636.0,274.8 638.0,273.9 640.0,273.7 642.0,274.3 644.0,273.5 645.0,274.0 646.0,274.2 648.0,273.3 650.0,274.6 652.0,273.6 654.0,273.3 656.0,273.6 658.0,274.1 660.0,274.4 662.0,274.1 664.0,273.8 666.0,274.3 668.0,275.1 670.0,274.5 672.0,275.2 674.0,273.7 676.0,275.4 678.0,275.2 680.0,274.7 682.0,274.7 684.0,274.7 686.0,275.4 688.0,274.0 690.0,275.0 692.0,274.9 694.0,274.5 696.0,275.2 698.0,275.3 699.0,274.9 700.0,274.2"/><polyline points="322.0,289.8 324.0,289.9 326.0,289.7 328.0,289.9 330.0,289.4 332.0,290.2 334.0,290.2 336.0,290.0 338.0,289.4 340.0,289.8 342.0,289.6 344.0,289.5 346.0,290.3 348.0,290.4 350.0,289.3 352.0,290.2 354.0,289.9 356.0,289.7 356.3,289.8 357.8,291.6 358.0,291.3 360.0,291.8 362.0,291.5 363.9,291.6 364.0,291.7 365.4,289.8 366.0,290.0 368.0,289.4 370.0,290.1 372.0,290.4 374.0,290.4 376.0,289.9 378.0,289.3 380.0,289.2 382.0,289.4 384.0,290.3 386.0,289.6 388.0,289.6 390.0,290.3 392.0,289.6 394.0,289.9 395.6,289.8 396.0,289.4 397.1,288.6 398.0,288.7 399.0,290.0 400.0,290.6 401.7,291.3 402.0,291.7 404.0,290.8 406.0,290.8 408.0,291.0 410.0,290.5 412.0,291.0 414.0,291.3 416.0,291.1 418.0,290.8 419.8,289.8 420.0,289.8 422.0,290.2 424.0,289.4 426.0,289.9 428.0,289.6 430.0,289.9 432.0,289.3 434.0,290.1 436.0,289.3 438.0,289.4 440.0,290.2 442.0,290.3 444.0,289.8 446.0,290.7 447.0,291.3 448.0,290.9 450.0,290.1 451.6,290.0 452.0,289.8 454.0,290.8 456.0,290.9 456.1,291.3 458.0,290.2 460.0,289.9 460.6,289.8 462.0,289.3 464.0,289.7 465.0,289.4 466.0,290.6 467.4,291.3 468.0,291.6 470.0,291.1 472.0,290.7 474.0,290.7 476.0,290.0 478.0,290.6 480.0,290.0 482.0,289.8 484.0,289.4 486.0,289.6 488.0,289.6 490.0,289.2 492.0,289.6 494.0,289.0 496.0,289.7 498.0,289.7 500.0,290.5 502.0,291.5 504.0,291.5 506.0,292.1 508.0,292.5 510.0,293.0 512.0,294.5 514.0,292.9 516.0,291.2 518.0,289.6 520.0,288.0 521.7,286.7 522.0,287.0 524.0,288.3 526.0,289.5 527.6,290.6 528.0,290.2 530.0,290.7 532.0,291.4 534.0,290.8 536.0,290.5 538.0,290.5 540.0,291.3 542.0,290.8 544.0,291.0 546.0,291.1 547.1,291.6 548.0,291.3 550.0,291.3 552.0,290.0 554.0,289.4 556.0,288.7 558.0,288.1 560.0,287.4 562.0,287.1 564.0,286.7 565.7,285.7 566.0,286.1 568.0,287.0 570.0,288.4 570.6,288.6 572.0,289.2 574.0,288.4 576.0,288.6 578.0,289.2 580.0,289.4 582.0,289.4 584.0,289.5 586.0,289.9 588.0,289.6 590.0,290.1 592.0,290.4 594.0,289.9 596.0,290.5 598.0,290.4 600.0,290.7 602.0,289.8 604.0,291.0 605.8,290.6 606.0,290.9 608.0,290.9 610.0,290.7 612.0,289.7 614.0,290.0 616.0,289.1 618.0,289.5 620.0,289.7 622.0,288.6 624.0,288.6 625.4,288.6 626.0,288.2 628.0,288.7 630.0,289.0 632.0,289.2 634.0,290.6 636.0,290.8 638.0,290.7 640.0,291.3 642.0,291.6 644.0,291.7 646.0,291.9 648.0,292.6 648.8,292.5 650.0,292.1 652.0,291.0 654.0,290.4 656.0,290.0 656.6,289.6 658.0,289.8 660.0,289.5 662.0,290.1 664.0,290.5 666.0,290.6 668.0,290.5 670.0,289.9 672.0,290.5 674.0,290.2 676.0,290.3 678.0,290.7 680.0,291.0 682.0,291.5 684.0,291.5 686.0,291.2 687.9,291.6 688.0,291.8 690.0,291.3 692.0,291.1 694.0,290.5 696.0,290.5 698.0,290.1 699.0,290.2 700.0,290.5"/><polyline points="322.0,311.5 322.3,311.6 324.0,311.6 326.0,312.0 328.0,311.4 330.0,311.4 332.0,311.5 334.0,310.9 335.1,311.3 336.0,312.7 338.0,315.8 338.1,315.8 340.0,316.8 340.4,316.6 342.0,314.8 344.0,313.5 344.2,313.6 346.0,312.3 348.0,312.3 348.7,311.6 350.0,311.8 352.0,311.1 354.0,312.2 356.0,312.2 358.0,311.8 360.0,311.7 362.0,311.2 364.0,311.0 366.0,311.6 368.0,311.1 370.0,311.2 372.0,311.3 374.0,311.0 376.0,311.6 378.0,311.5 380.0,312.0 382.0,311.6 384.0,311.8 386.0,311.6 388.0,311.8 390.0,311.5 392.0,311.3 394.0,312.2 396.0,312.2 398.0,312.0 398.6,311.6 400.0,314.4 401.7,317.3 402.0,317.1 404.0,317.3 406.0,313.6 406.2,313.6 408.0,313.0 410.0,312.3 412.0,312.8 413.8,312.1 414.0,312.0 416.0,312.4 418.0,311.7 420.0,312.2 422.0,312.0 424.0,310.8 425.9,311.3 426.0,311.0 428.0,312.6 430.0,312.8 431.9,313.6 432.0,314.2 434.0,313.2 436.0,312.5 438.0,312.8 440.0,312.7 442.0,312.6 444.0,312.0 445.5,318.1 446.0,317.6 447.8,317.3 448.0,316.6 450.0,315.0 451.6,313.6 452.0,314.0 454.0,313.1 456.0,311.7 456.1,312.1 458.0,312.7 459.1,313.6 460.0,312.7 462.0,311.6 463.7,311.3 464.0,311.7 466.0,311.0 468.0,311.6 470.0,311.6 472.0,311.8 474.0,311.7 476.0,312.6 478.0,312.1 480.0,313.0 482.0,312.6 484.0,313.2 486.0,313.1 488.0,313.5 490.0,314.5 490.3,314.0 492.0,314.0 494.0,312.9 496.0,313.2 498.0,312.0 500.0,311.7 502.0,311.8 504.0,311.2 506.0,310.1 508.0,310.1 510.0,309.4 512.0,307.1 513.9,306.2 514.0,306.0 516.0,308.9 518.0,310.6 520.0,312.8 521.7,315.0 522.0,314.6 524.0,315.4 526.0,316.9 528.0,317.3 530.0,318.5 531.5,319.0 532.0,318.7 534.0,318.0 536.0,317.8 538.0,316.5 540.0,315.9 542.0,315.5 544.0,313.9 546.0,313.1 547.1,313.1 548.0,313.6 550.0,313.6 552.0,313.0 554.0,313.0 556.0,313.8 558.0,314.1 560.0,313.3 562.0,314.3 564.0,314.3 566.0,314.1 566.7,314.0 568.0,313.8 570.0,313.2 572.0,312.9 574.0,313.8 576.0,312.8 578.0,313.1 580.0,312.4 582.0,312.9 584.0,312.4 586.0,311.9 586.2,312.1 588.0,311.8 590.0,312.5 592.0,311.8 594.0,312.1 596.0,312.6 598.0,313.0 600.0,312.8 602.0,312.5 604.0,313.4 606.0,312.6 608.0,312.4 609.7,313.1 610.0,313.0 612.0,314.2 614.0,314.7 616.0,315.9 617.5,317.0 618.0,316.7 620.0,316.5 622.0,315.4 624.0,315.2 625.4,315.0 626.0,315.5 628.0,315.7 630.0,315.4 632.0,315.6 634.0,315.5 636.0,315.1 638.0,315.1 640.0,315.2 642.0,316.3 644.0,316.2 645.0,316.0 646.0,316.6 648.0,315.4 650.0,316.2 652.0,316.0 654.0,316.3 656.0,315.8 658.0,316.6 660.0,315.5 662.0,316.1 664.0,316.3 666.0,316.5 668.0,316.3 670.0,316.2 672.0,316.4 674.0,316.5 676.0,315.8 678.0,316.2 680.0,316.5 682.0,316.4 684.0,315.9 686.0,316.3 688.0,316.4 690.0,316.1 692.0,316.1 694.0,315.9 696.0,316.1 698.0,316.1 699.0,316.0 700.0,315.5"/><polyline points="322.0,338.5 322.3,338.5 324.0,338.7 326.0,338.6 328.0,337.6 330.0,337.3 332.0,337.8 334.0,337.5 336.0,338.4 336.6,337.8 338.0,335.8 338.9,334.0 340.0,335.6 341.2,337.0 342.0,337.1 344.0,337.3 346.0,336.4 348.0,336.9 350.0,336.4 350.2,337.0 352.0,338.6 353.3,338.5 354.0,337.7 356.0,338.9 358.0,337.6 360.0,338.5 362.0,337.8 364.0,337.8 366.0,338.5 368.0,337.0 368.4,337.8 370.0,336.5 371.4,336.7 372.0,337.5 374.0,337.0 376.0,336.6 378.0,338.3 380.0,338.5 380.5,337.8 382.0,339.1 382.8,340.8 384.0,339.2 386.0,336.2 386.5,336.2 388.0,336.7 389.6,337.8 390.0,338.0 392.0,337.1 394.0,337.8 396.0,336.6 398.0,336.7 400.0,337.6 401.7,337.0 402.0,337.1 404.0,338.6 404.7,339.3 406.0,339.7 408.0,339.8 409.2,340.0 410.0,339.5 412.0,338.1 413.8,338.2 414.0,338.6 416.0,339.0 418.0,339.1 420.0,338.6 422.0,338.1 424.0,338.1 426.0,338.7 428.0,338.7 430.0,337.8 432.0,338.0 433.4,338.5 434.0,338.2 436.0,338.1 438.0,338.2 440.0,337.4 442.0,336.2 444.0,337.3 446.0,336.3 447.0,336.2 448.0,336.6 450.0,336.8 451.6,337.8 452.0,337.7 454.0,337.7 456.0,338.4 458.0,337.4 460.0,338.2 462.0,337.6 464.0,338.6 466.0,337.6 468.0,338.0 470.0,338.5 472.0,337.8 474.0,337.9 476.0,336.5 478.0,336.7 480.0,335.9 482.0,335.6 482.6,335.8 484.0,336.2 486.0,337.6 488.0,337.4 490.0,338.8 492.0,338.1 494.0,339.3 496.0,340.1 498.0,339.2 500.0,338.9 502.0,339.9 504.0,340.2 506.0,338.7 508.0,339.6 510.0,339.4 512.0,340.4 514.0,339.8 516.0,339.8 518.0,339.5 519.7,340.5 520.0,339.6 522.0,339.8 524.0,339.7 526.0,338.9 528.0,337.3 530.0,335.7 532.0,335.4 533.4,335.2 534.0,336.0 536.0,337.2 538.0,338.0 539.3,338.5 540.0,338.2 542.0,339.0 544.0,339.3 546.0,339.9 547.1,339.9 548.0,338.7 550.0,338.2 551.0,336.6 552.0,337.4 554.0,336.4 556.0,336.9 558.0,338.1 560.0,337.4 562.0,338.8 564.0,338.3 566.0,338.9 568.0,339.1 570.0,338.6 572.0,339.0 574.0,339.2 576.0,340.1 576.5,339.9 578.0,339.0 580.0,336.4 582.0,336.1 582.3,335.2 584.0,335.4 586.0,335.4 588.0,336.1 590.0,337.4 590.1,336.6 592.0,337.3 594.0,338.0 596.0,339.1 598.0,339.8 600.0,340.0 602.0,340.0 604.0,340.9 604.8,341.0 606.0,340.3 608.0,337.7 609.7,335.2 610.0,335.5 612.0,336.2 614.0,337.3 616.0,339.1 617.5,339.5 618.0,339.4 620.0,337.8 622.0,338.2 624.0,337.8 625.4,336.6 626.0,337.4 628.0,338.6 630.0,339.6 632.0,340.0 633.2,340.5 634.0,340.9 636.0,340.1 638.0,339.5 640.0,339.8 642.0,339.6 644.0,340.5 646.0,340.0 648.0,339.6 648.8,339.5 650.0,339.7 652.0,338.7 654.0,339.3 656.0,339.5 658.0,338.9 660.0,338.5 662.0,338.7 664.0,338.5 666.0,339.0 668.0,338.0 670.0,337.8 670.3,338.5 672.0,339.1 674.0,340.7 674.2,340.5 676.0,340.8 678.0,340.5 680.0,340.8 682.0,339.6 684.0,338.9 686.0,339.5 688.0,339.3 690.0,338.7 692.0,339.3 694.0,338.6 696.0,338.3 698.0,338.3 699.0,338.5 700.0,339.3"/><polyline points="322.0,358.6 324.0,358.1 326.0,358.7 328.0,358.6 330.0,358.7 332.0,357.5 334.0,357.5 336.0,357.2 338.0,357.2 339.4,357.6 340.0,358.2 342.0,358.6 344.0,358.0 346.0,358.7 348.0,358.2 350.0,358.4 352.0,358.6 354.0,359.3 356.0,359.0 358.0,358.0 360.0,358.5 362.0,358.3 364.0,359.5 366.0,359.5 368.0,359.5 370.0,359.5 372.0,359.4 374.0,359.8 376.0,359.6 378.0,358.7 380.0,359.7 382.0,359.1 384.0,359.6 386.0,359.3 388.0,359.1 390.0,359.0 392.0,359.2 394.0,359.0 396.0,358.7 398.0,359.9 400.0,359.9 402.0,360.3 404.0,359.8 406.0,359.6 408.0,360.0 410.0,358.9 412.0,359.9 414.0,359.5 416.0,359.1 418.0,359.2 420.0,359.7 422.0,359.3 424.0,359.7 426.0,360.0 428.0,359.6 430.0,359.2 432.0,359.9 434.0,359.4 436.0,359.5 438.0,359.4 440.0,359.8 442.0,359.3 444.0,360.3 446.0,360.8 448.0,359.9 450.0,360.5 452.0,360.9 454.0,359.4 455.5,360.2 456.0,359.6 458.0,360.8 460.0,360.9 462.0,360.6 464.0,359.8 466.0,360.3 468.0,361.1 470.0,361.2 472.0,361.1 474.0,360.1 474.8,360.6 476.0,365.3 476.8,367.4 478.0,363.9 479.1,361.2 480.0,360.9 482.0,358.7 482.6,359.0 484.0,360.2 486.0,360.2 488.0,361.0 490.0,360.8 492.0,362.1 494.0,362.5 496.0,361.5 498.0,360.3 499.6,359.2 500.0,358.9 502.0,359.3 504.0,358.4 506.0,358.0 508.0,358.1 510.0,357.9 512.0,359.2 514.0,358.6 516.0,359.2 517.8,360.0 518.0,359.7 520.0,364.7 520.7,365.9 522.0,364.3 523.5,362.2 524.0,362.1 526.0,360.7 527.6,361.0 528.0,360.9 530.0,360.7 532.0,360.3 534.0,360.2 536.0,361.8 538.0,360.4 540.0,360.7 542.0,360.6 543.2,361.0 544.0,361.0 546.0,359.6 548.0,359.8 550.0,359.1 552.0,359.4 554.0,357.5 555.0,358.1 556.0,358.0 558.0,358.5 560.0,359.6 562.0,359.1 564.0,360.3 566.0,361.5 566.7,362.0 568.0,363.3 570.0,364.2 570.6,365.0 572.0,361.5 572.2,362.0 574.0,361.2 574.5,361.0 576.0,361.3 578.0,360.5 580.0,359.2 582.0,359.5 584.0,359.2 586.0,357.7 586.2,358.1 588.0,358.6 590.0,358.5 592.0,358.7 593.3,359.3 594.0,359.5 596.0,360.9 598.0,363.0 600.0,363.6 602.0,363.9 604.0,365.4 604.8,365.9 606.0,363.4 606.8,363.0 608.0,363.0 609.7,362.0 610.0,362.2 612.0,361.0 614.0,362.2 616.0,361.1 618.0,361.4 620.0,361.4 622.0,360.9 624.0,360.7 625.4,361.0 626.0,361.0 628.0,360.9 630.0,362.6 630.1,362.0 632.0,363.2 633.2,365.0 634.0,365.5 636.0,364.3 638.0,364.4 640.0,364.4 642.0,363.6 644.0,363.7 646.0,363.9 648.0,364.0 648.8,364.0 650.0,364.8 652.0,365.4 654.0,364.1 654.7,365.0 656.0,365.0 658.0,364.3 660.0,365.4 662.0,364.5 664.0,365.5 666.0,364.8 668.0,364.1 670.0,363.8 672.0,364.2 674.0,365.2 676.0,363.9 678.0,364.4 680.0,364.2 682.0,364.1 684.0,364.9 686.0,363.8 688.0,364.6 690.0,364.5 692.0,364.9 694.0,364.1 696.0,364.8 698.0,363.9 699.0,364.0 700.0,364.1"/><polyline points="322.0,382.8 324.0,382.2 326.0,383.2 328.0,383.1 330.0,383.7 332.0,382.5 334.0,382.6 336.0,383.4 336.5,383.0 338.0,381.5 339.4,379.5 340.0,379.9 342.0,382.5 344.0,382.8 345.0,382.5 346.0,382.4 348.0,383.1 350.0,382.0 352.0,382.3 354.0,383.5 356.0,382.7 358.0,382.6 360.0,383.6 362.0,383.4 364.0,382.7 366.0,383.4 368.0,383.7 370.0,382.9 372.0,383.8 374.0,383.0 376.0,383.4 378.0,383.8 380.0,383.0 382.0,383.2 384.0,384.5 386.0,383.5 388.0,384.4 390.0,383.4 392.0,383.7 394.0,384.1 396.0,383.7 398.0,382.7 400.0,383.3 401.3,380.4 402.0,380.2 403.2,379.5 404.0,380.7 406.0,382.8 408.0,382.3 409.0,382.8 410.0,382.1 412.0,383.4 414.0,382.7 416.0,382.1 418.0,382.5 420.0,382.0 422.0,383.0 424.0,382.4 426.0,381.7 428.0,382.9 430.0,381.6 432.0,381.8 434.0,381.4 436.0,382.5 438.0,381.4 440.0,382.0 442.0,381.3 443.9,381.9 444.0,381.9 446.0,383.8 447.7,384.8 448.0,384.8 450.0,384.1 452.0,383.7 454.0,383.1 455.5,382.8 456.0,383.2 457.8,383.8 458.0,383.4 459.4,386.7 460.0,385.9 462.0,383.2 462.4,383.1 464.0,383.3 466.0,382.9 467.0,381.9 468.0,381.5 470.0,382.2 472.0,383.8 473.0,383.8 474.0,385.0 475.3,386.3 476.0,388.9 476.8,393.5 478.0,388.3 479.7,380.0 480.0,380.3 481.6,377.0 482.0,376.7 484.0,375.9 484.5,376.0 486.0,376.6 488.0,378.0 490.0,377.5 490.3,378.0 492.0,379.0 493.8,380.7 494.0,380.9 496.0,388.5 496.1,388.6 498.0,384.5 498.5,383.6 500.0,382.4 502.0,381.9 504.0,382.3 505.6,383.0 506.0,382.8 508.0,386.5 510.0,383.3 511.1,382.1 512.0,382.6 514.0,381.3 515.8,380.6 516.0,380.5 518.0,383.9 518.1,383.2 519.7,391.3 520.0,390.2 522.0,384.5 522.9,382.5 524.0,381.0 526.0,380.0 527.6,379.6 528.0,379.3 530.0,380.2 531.1,381.1 532.0,383.5 533.4,385.5 534.0,383.4 535.8,378.9 536.0,378.3 538.0,377.7 539.3,376.7 540.0,377.9 542.0,378.3 544.0,380.2 546.0,387.2 547.1,390.4 548.0,387.3 550.0,381.1 550.3,380.1 552.0,379.0 554.0,378.2 555.0,376.7 556.0,377.5 558.0,377.7 560.0,379.0 560.8,378.6 562.0,380.2 564.0,383.2 564.7,384.5 566.0,383.4 567.8,380.1 568.0,380.1 570.0,379.9 572.0,378.4 572.5,378.6 574.0,380.8 576.0,382.0 578.0,390.8 578.4,392.3 580.0,384.7 581.2,379.8 582.0,379.7 584.0,377.0 585.3,375.7 586.0,375.7 588.0,376.4 590.0,377.0 590.5,377.9 592.0,380.2 594.0,384.5 596.0,385.1 598.0,384.4 600.0,384.8 601.9,385.5 602.0,385.5 604.0,387.0 604.8,387.4 606.0,390.7 606.8,393.3 608.0,387.5 608.8,383.0 610.0,381.2 611.7,379.6 612.0,379.4 614.0,379.8 616.0,379.6 618.0,380.0 618.7,380.6 620.0,380.8 622.0,383.0 623.4,383.5 624.0,383.1 626.0,384.5 626.9,384.5 628.0,385.3 629.3,387.4 630.0,387.6 632.0,387.5 634.0,386.8 636.0,387.6 638.0,387.0 640.0,386.7 641.0,386.5 642.0,385.7 644.0,386.3 646.0,386.1 648.0,386.4 650.0,387.2 652.0,387.1 654.0,385.8 656.0,386.8 658.0,387.2 660.0,386.6 662.0,385.8 664.0,387.1 666.0,386.4 668.0,387.3 670.0,387.1 670.3,386.5 672.0,388.7 673.3,389.4 674.0,389.7 676.0,386.8 677.6,386.5 678.0,386.9 680.0,385.8 682.0,385.2 684.0,385.5 686.0,385.5 688.0,386.2 690.0,385.4 692.0,386.4 694.0,387.2 696.0,387.0 698.0,387.3 699.0,387.4 700.0,387.1"/><polyline points="322.0,404.1 324.0,404.9 326.0,403.3 328.0,404.5 330.0,403.5 332.0,404.9 334.0,403.3 336.0,404.7 336.5,404.1 338.0,402.4 339.4,400.3 340.0,401.6 342.0,403.5 344.0,404.5 345.0,403.8 346.0,403.4 348.0,403.5 350.0,404.2 352.0,403.5 354.0,403.4 356.0,403.4 358.0,404.5 360.0,404.5 362.0,404.4 364.0,403.4 366.0,404.6 368.0,403.9 370.0,403.5 372.0,403.9 374.0,403.8 376.0,403.3 378.0,404.1 380.0,403.8 382.0,404.1 384.0,404.7 386.0,404.3 388.0,403.9 390.0,404.7 392.0,404.9 394.0,404.1 396.0,404.8 398.0,403.3 400.0,404.1 402.0,401.7 403.2,401.2 404.0,401.5 406.0,404.1 408.0,404.8 409.0,404.1 410.0,404.5 412.0,404.6 414.0,403.9 416.0,404.4 418.0,405.1 420.0,403.9 422.0,404.0 424.0,403.9 426.0,404.7 428.0,405.5 430.0,405.1 432.0,404.9 434.0,405.1 436.0,404.7 438.0,406.0 440.0,405.1 442.0,405.0 444.0,405.2 446.0,406.2 448.0,405.4 450.0,406.5 452.0,405.6 454.0,405.8 455.5,406.0 456.0,405.3 458.0,406.7 460.0,406.5 462.0,406.0 464.0,405.3 466.0,406.0 468.0,405.8 470.0,406.6 471.0,406.0 472.0,407.1 474.0,407.5 474.5,407.3 476.0,409.3 476.8,410.9 478.0,405.9 479.5,401.4 480.0,401.7 482.0,400.2 483.5,398.3 484.0,397.8 486.0,398.9 487.6,399.3 488.0,399.7 490.0,402.7 490.3,402.2 492.0,402.4 493.8,404.2 494.0,404.0 496.0,410.3 496.1,410.0 498.0,406.6 498.5,405.6 500.0,404.9 502.0,404.1 504.0,405.1 505.6,405.1 506.0,405.7 508.0,408.0 510.0,402.1 510.4,400.6 512.0,399.1 513.9,398.2 514.0,397.6 516.0,399.0 518.0,401.4 520.0,408.2 520.7,410.9 522.0,407.7 523.5,403.5 524.0,403.0 526.0,401.8 527.6,401.1 528.0,401.5 530.0,402.8 531.1,403.1 532.0,405.6 533.4,409.0 534.0,407.0 535.8,402.3 536.0,402.7 538.0,401.4 539.3,400.1 540.0,401.2 542.0,402.3 544.0,402.9 546.0,407.2 547.1,410.9 548.0,407.6 549.5,401.3 550.0,400.6 552.0,398.9 553.0,398.2 554.0,398.6 556.0,398.7 558.0,399.7 560.0,400.9 562.0,405.2 564.0,407.5 564.7,409.0 566.0,406.9 567.1,403.8 568.0,403.7 570.0,402.1 570.6,402.1 572.0,402.5 574.0,404.0 575.3,404.5 576.0,406.4 578.0,410.3 578.4,411.5 580.0,405.0 581.2,401.5 582.0,400.3 584.0,399.9 585.3,398.2 586.0,398.9 588.0,398.5 590.0,400.5 590.5,400.1 592.0,402.8 594.0,406.0 596.0,406.0 598.0,407.2 600.0,406.1 602.0,406.3 602.2,407.0 604.0,407.7 606.0,409.5 607.7,410.0 608.0,409.1 609.3,404.8 610.0,404.2 611.7,403.0 612.0,403.8 614.0,403.3 616.0,404.4 617.5,404.2 618.0,403.9 620.0,407.1 621.4,408.0 622.0,407.5 624.0,408.6 626.0,409.2 628.0,409.1 629.3,409.0 630.0,409.2 632.0,409.2 634.0,409.6 636.0,409.1 638.0,408.9 640.0,409.6 641.0,409.5 642.0,409.5 644.0,408.8 646.0,409.5 648.0,409.4 650.0,408.8 652.0,409.8 654.0,409.9 656.0,409.1 658.0,410.0 660.0,410.2 662.0,409.6 664.0,409.1 666.0,408.9 668.0,408.6 670.0,408.9 672.0,410.1 674.0,408.5 676.0,409.9 678.0,409.5 680.0,409.6 682.0,408.5 684.0,409.4 686.0,408.6 688.0,409.4 690.0,409.6 692.0,409.4 694.0,409.1 696.0,409.7 698.0,408.5 699.0,409.0 700.0,408.4"/><polyline points="322.0,425.8 324.0,425.8 326.0,425.9 328.0,426.0 330.0,426.1 332.0,426.1 334.0,426.4 336.0,426.2 337.4,426.4 338.0,427.0 340.0,428.3 341.3,429.7 342.0,428.9 344.0,427.2 345.0,426.4 346.0,426.1 348.0,426.5 350.0,426.2 352.0,426.5 354.0,426.6 356.0,426.1 358.0,426.5 360.0,426.5 362.0,426.3 364.0,425.9 366.0,426.1 368.0,426.2 370.0,426.0 372.0,425.9 374.0,426.0 376.0,425.9 378.0,426.2 380.0,425.9 382.0,426.0 384.0,426.1 386.0,426.3 388.0,425.8 390.0,425.6 392.0,426.2 394.0,426.1 396.0,426.1 398.0,425.9 400.0,425.6 401.3,425.8 402.0,427.0 403.2,429.7 404.0,428.9 406.0,427.2 407.0,426.4 408.0,426.1 410.0,426.5 412.0,426.6 414.0,426.1 416.0,426.6 418.0,426.4 420.0,426.7 422.0,426.4 424.0,426.6 426.0,426.4 428.0,426.5 430.0,426.4 432.0,426.1 434.0,426.2 436.0,426.2 438.0,426.3 440.0,426.3 442.0,426.4 443.9,426.4 444.0,426.5 446.0,426.9 447.7,427.4 448.0,427.2 450.0,426.5 451.6,425.8 452.0,426.1 454.0,425.9 456.0,425.7 458.0,425.8 460.0,425.3 462.0,425.1 464.0,425.0 466.0,425.0 468.0,424.8 470.0,425.2 472.0,425.3 472.9,425.0 474.0,424.3 476.0,423.9 476.8,423.5 478.0,424.0 480.0,424.2 482.0,424.2 482.6,424.5 484.0,424.6 486.0,424.3 488.0,424.3 490.0,424.2 492.0,424.6 494.0,424.8 496.0,424.3 498.0,424.3 500.0,424.5 502.0,424.3 504.0,424.6 506.0,424.8 508.0,424.6 510.0,424.7 512.0,424.4 514.0,424.5 516.0,424.7 518.0,425.1 520.0,425.4 522.0,425.2 524.0,425.0 526.0,425.2 528.0,425.4 530.0,425.3 531.5,425.6 532.0,425.3 534.0,425.5 536.0,425.7 538.0,425.2 540.0,425.7 542.0,425.6 544.0,425.2 546.0,425.0 547.1,425.2 548.0,424.9 550.0,425.0 552.0,425.0 554.0,424.8 556.0,424.1 558.0,424.1 560.0,423.6 562.0,423.6 564.0,423.4 566.0,423.1 566.7,423.3 568.0,423.3 570.0,424.4 572.0,424.4 574.0,425.0 576.0,425.5 576.5,425.6 578.0,425.5 580.0,425.5 582.0,425.3 584.0,425.1 586.0,424.7 588.0,425.0 590.0,424.9 592.0,424.8 594.0,424.4 596.0,424.4 598.0,424.5 600.0,424.3 602.0,423.8 604.0,423.8 606.0,423.6 608.0,423.9 609.7,423.6 610.0,423.6 612.0,424.0 614.0,424.3 616.0,424.9 617.5,425.2 618.0,425.3 620.0,425.2 622.0,424.8 624.0,424.8 626.0,424.8 628.0,424.3 630.0,424.8 632.0,424.1 634.0,424.4 636.0,423.9 638.0,424.4 640.0,424.1 642.0,423.6 644.0,423.7 646.0,423.9 648.0,423.8 650.0,423.5 652.0,423.4 654.0,423.3 656.0,423.4 658.0,423.0 660.0,422.9 662.0,422.9 662.5,422.7 664.0,423.4 666.0,424.2 666.4,424.6 668.0,424.7 670.0,424.5 672.0,424.7 674.0,424.8 676.0,424.9 678.0,424.3 680.0,424.3 682.0,424.9 684.0,424.8 686.0,424.9 688.0,424.8 690.0,424.9 692.0,424.4 694.0,424.4 696.0,424.7 698.0,424.8 699.0,424.6 700.0,424.3"/><polyline points="322.0,450.6 324.0,450.6 326.0,450.9 328.0,451.1 330.0,450.4 332.0,450.9 334.0,450.8 336.0,450.8 338.0,450.2 340.0,450.1 342.0,450.5 344.0,450.8 346.0,450.4 348.0,450.6 350.0,450.4 352.0,450.9 354.0,451.0 356.0,450.5 358.0,451.1 360.0,450.2 362.0,450.9 364.0,451.0 366.0,450.3 368.0,450.8 370.0,450.7 372.0,451.1 374.0,450.3 376.0,450.6 378.0,451.0 380.0,450.7 382.0,450.4 384.0,450.2 386.0,451.0 388.0,450.6 390.0,451.1 392.0,450.2 394.0,450.9 396.0,450.9 398.0,451.0 400.0,450.6 402.0,449.1 403.2,449.0 404.0,449.2 406.0,449.7 407.0,450.6 408.0,450.8 410.0,450.4 412.0,451.0 414.0,450.3 416.0,450.7 418.0,450.7 420.0,450.1 422.0,450.3 424.0,450.7 426.0,450.2 428.0,450.0 430.0,449.9 432.0,450.3 434.0,449.7 436.0,450.1 438.0,450.0 440.0,449.9 442.0,449.5 444.0,450.0 446.0,450.2 448.0,449.5 450.0,449.5 452.0,450.0 454.0,449.7 456.0,449.3 458.0,449.0 460.0,449.7 462.0,449.3 464.0,449.3 466.0,449.1 468.0,449.4 470.0,449.5 472.0,449.0 474.0,448.7 476.0,449.6 478.0,449.5 480.0,448.5 480.6,449.0 482.0,449.2 484.0,449.4 486.0,449.3 488.0,449.8 488.4,449.6 490.0,450.1 492.0,449.8 494.0,449.6 496.0,449.5 498.0,449.5 500.0,449.5 502.0,449.5 504.0,449.6 506.0,450.3 508.0,450.0 510.0,450.5 512.0,451.3 514.0,452.0 516.0,452.4 518.0,452.1 519.7,453.0 520.0,453.3 522.0,451.4 524.0,451.1 526.0,450.1 527.6,449.0 528.0,449.2 530.0,448.9 532.0,448.6 534.0,448.6 536.0,449.1 538.0,448.7 539.3,449.0 540.0,449.4 542.0,450.0 544.0,450.8 546.0,451.9 547.1,452.6 548.0,452.5 550.0,451.4 552.0,450.6 554.0,449.9 555.0,449.5 556.0,449.8 558.0,450.2 560.0,450.5 562.0,451.5 564.0,451.7 566.0,451.6 566.7,452.0 568.0,452.2 570.0,452.5 572.0,453.2 574.0,453.4 576.0,454.6 578.0,455.0 578.4,455.0 580.0,453.6 582.0,452.3 584.0,450.1 584.3,450.0 586.0,450.2 588.0,450.8 590.0,450.6 592.0,450.8 594.0,450.8 596.0,451.6 598.0,451.5 600.0,451.3 602.0,451.5 604.0,451.9 605.8,452.0 606.0,451.9 608.0,450.9 609.7,450.0 610.0,449.7 612.0,450.5 614.0,451.0 616.0,451.4 617.5,451.4 618.0,451.4 620.0,451.5 621.5,451.6 622.0,451.1 623.6,449.5 624.0,449.9 626.0,451.8 628.0,451.8 630.0,451.3 632.0,451.6 634.0,452.3 636.0,452.1 638.0,451.8 640.0,452.1 642.0,451.5 644.0,451.6 646.0,451.8 648.0,452.0 650.0,451.4 652.0,451.8 654.0,452.2 656.0,452.0 658.0,452.3 660.0,451.4 662.0,452.3 664.0,452.2 666.0,451.4 668.0,451.9 670.0,452.1 672.0,451.6 674.0,452.0 676.0,452.2 678.0,452.2 680.0,451.8 682.0,451.4 684.0,451.9 686.0,451.6 688.0,451.9 690.0,451.7 692.0,451.7 694.0,451.9 696.0,452.2 698.0,452.4 699.0,451.9 700.0,451.8"/><polyline points="322.0,471.5 324.0,471.0 326.0,471.8 328.0,471.2 330.0,471.0 332.0,471.5 334.0,471.5 336.0,471.5 336.5,471.5 338.0,469.9 339.4,468.5 340.0,468.6 342.0,470.3 342.5,471.2 344.0,471.6 346.0,471.1 348.0,471.9 350.0,472.2 352.0,472.5 354.0,472.8 356.0,471.7 358.0,471.8 360.0,472.8 362.0,472.7 364.0,472.2 366.0,473.2 368.0,473.6 370.0,473.7 372.0,472.8 372.3,473.3 374.0,472.9 376.0,472.4 378.0,473.9 380.0,472.6 382.0,473.4 384.0,473.0 386.0,473.1 388.0,472.9 390.0,473.3 392.0,472.9 394.0,472.3 396.0,472.0 398.0,472.5 400.0,472.5 402.0,471.0 403.2,469.0 404.0,469.2 406.0,471.9 408.0,472.2 409.0,471.9 410.0,472.5 412.0,472.3 414.0,473.0 414.8,473.8 416.0,473.8 418.0,472.9 420.0,472.4 422.0,472.0 424.0,470.9 426.0,471.4 428.0,470.6 430.0,470.6 432.0,470.4 434.0,470.0 436.0,470.7 438.0,470.6 440.0,470.0 442.0,469.1 444.0,469.1 446.0,469.0 447.7,469.5 448.0,469.0 450.0,471.7 451.6,472.8 452.0,472.7 454.0,471.1 455.5,470.9 456.0,471.8 457.8,471.9 458.0,472.4 459.4,474.8 460.0,475.2 462.0,474.9 464.0,474.3 466.0,473.7 468.0,474.1 470.0,472.3 471.0,472.8 472.0,473.7 474.0,475.3 474.5,475.0 476.0,479.2 476.8,481.5 478.0,475.2 478.3,472.9 480.0,470.1 480.6,469.9 482.0,467.7 482.6,467.0 484.0,466.2 485.5,466.1 486.0,466.2 488.0,468.0 490.0,468.2 490.3,469.0 492.0,469.9 493.8,471.5 494.0,472.7 496.0,478.0 496.1,478.6 498.0,473.3 498.5,472.8 500.0,472.8 502.0,470.9 504.0,471.8 505.6,472.4 506.0,472.4 508.0,477.0 510.0,471.8 510.4,470.7 512.0,469.1 513.9,468.6 514.0,468.1 516.0,470.6 518.0,471.8 520.0,479.1 520.7,481.3 522.0,476.4 523.5,471.1 524.0,470.7 526.0,469.1 527.6,467.7 528.0,467.9 530.0,468.7 531.1,470.2 532.0,473.5 533.4,477.4 534.0,475.8 535.8,469.3 536.0,469.1 538.0,467.5 539.3,466.7 540.0,467.4 542.0,468.8 544.0,470.4 546.0,477.3 547.1,481.3 548.0,478.7 550.0,471.7 550.3,470.0 552.0,468.1 554.0,466.5 555.0,466.3 556.0,467.3 558.0,468.5 560.0,469.1 560.8,469.1 562.0,471.3 564.0,475.1 564.7,477.4 566.0,475.5 567.8,471.6 568.0,472.2 570.0,471.1 572.0,470.2 572.5,469.6 574.0,471.7 576.0,472.7 578.0,480.7 578.4,482.3 580.0,476.7 581.2,471.3 582.0,470.2 584.0,468.1 585.3,467.7 586.0,468.5 588.0,469.0 590.0,470.0 590.5,469.6 592.0,471.5 594.0,475.5 596.0,474.9 598.0,475.1 600.0,474.0 601.9,474.5 602.0,474.3 604.0,475.9 604.8,476.2 606.0,480.0 606.8,481.3 608.0,477.2 608.8,474.0 610.0,472.8 611.7,471.6 612.0,471.5 614.0,472.0 616.0,472.7 617.5,472.6 618.0,473.8 620.0,473.6 621.4,475.5 622.0,476.3 624.0,476.3 626.0,475.3 628.0,475.9 629.3,476.5 630.0,476.1 632.0,475.8 634.0,475.6 636.0,475.5 638.0,476.2 640.0,475.7 642.0,475.0 644.0,476.1 645.0,475.5 646.0,476.1 648.0,475.0 650.0,476.0 652.0,475.8 654.0,475.4 656.0,474.6 658.0,475.6 660.0,475.9 662.0,475.8 664.0,475.9 666.0,474.5 668.0,475.9 670.0,474.3 672.0,474.8 674.0,475.0 676.0,475.2 678.0,474.9 680.0,475.5 682.0,475.3 684.0,475.4 686.0,475.0 688.0,474.6 690.0,473.9 692.0,474.9 694.0,475.3 696.0,474.0 698.0,475.4 699.0,474.5 700.0,473.7"/><polyline points="322.0,498.6 324.0,498.8 326.0,498.9 328.0,498.3 330.0,498.2 332.0,497.9 334.0,498.8 336.0,497.4 338.0,497.1 340.0,497.2 342.0,497.1 343.2,497.4 344.0,497.1 346.0,496.9 348.0,496.6 350.0,496.9 352.0,496.9 354.0,497.3 356.0,496.6 358.0,496.3 360.0,496.5 360.6,497.0 362.0,497.5 364.0,497.8 366.0,499.0 368.0,499.7 370.0,499.7 372.0,499.7 372.3,500.5 374.0,500.7 376.0,500.6 378.0,499.8 380.0,500.1 382.0,499.3 384.0,500.2 386.0,499.8 388.0,499.6 390.0,499.7 392.0,498.3 394.0,498.6 396.0,498.8 398.0,498.7 400.0,497.8 402.0,497.2 404.0,497.9 406.0,496.8 407.0,497.4 408.0,497.7 410.0,496.6 412.0,497.3 414.0,497.4 416.0,496.8 418.0,497.4 420.0,497.4 420.6,497.4 422.0,497.4 424.0,498.6 426.0,498.9 428.0,499.3 430.0,498.5 432.0,498.4 434.0,499.4 436.0,499.2 436.1,499.9 438.0,498.8 440.0,496.5 440.7,496.3 442.0,495.5 444.0,495.4 446.0,495.2 447.7,495.1 448.0,495.6 450.0,495.9 452.0,496.4 454.0,497.7 455.5,498.0 456.0,497.3 458.0,497.7 460.0,498.6 462.0,498.8 464.0,497.9 466.0,497.9 468.0,498.8 470.0,499.2 471.0,499.0 472.0,498.9 474.0,501.2 474.5,501.7 476.0,506.5 476.8,509.6 478.0,504.1 479.9,497.3 480.0,496.6 482.0,495.1 484.0,493.6 484.5,493.2 486.0,493.3 488.0,495.1 490.0,496.5 490.3,496.0 492.0,497.9 493.2,498.8 494.0,501.4 495.1,506.7 496.0,504.6 497.9,499.4 498.0,499.6 500.0,497.3 502.0,497.0 504.0,497.5 505.6,498.2 506.0,499.1 508.0,502.0 510.0,498.3 510.4,496.7 512.0,496.7 513.9,495.0 514.0,495.2 516.0,496.7 518.0,498.0 520.0,505.3 520.7,506.8 522.0,502.1 523.5,497.9 524.0,497.6 526.0,495.4 527.6,495.0 528.0,495.8 530.0,497.1 531.1,497.8 532.0,500.4 533.4,505.8 534.0,503.2 536.0,496.9 536.2,496.2 538.0,495.3 540.0,492.7 540.3,493.1 542.0,494.2 544.0,496.2 544.4,496.6 546.0,502.2 547.1,506.8 548.0,504.7 550.0,498.4 550.3,497.2 552.0,496.8 554.0,494.9 555.0,494.0 556.0,494.8 558.0,495.0 560.0,496.3 560.8,496.7 562.0,499.0 564.0,503.3 564.7,504.8 566.0,501.6 567.8,499.0 568.0,499.5 570.0,497.5 572.0,497.1 572.5,497.0 574.0,498.9 576.0,499.7 577.2,500.6 578.0,504.0 580.0,509.9 580.4,511.7 582.0,501.4 582.4,499.1 584.0,496.6 585.3,495.0 586.0,494.9 588.0,495.4 590.0,496.0 590.5,496.2 592.0,498.4 594.0,499.9 596.0,500.9 598.0,499.6 600.0,500.8 602.0,500.8 603.8,500.9 604.0,500.9 606.0,501.4 606.7,502.6 608.0,505.6 608.7,507.7 610.0,503.6 611.7,499.0 612.0,498.8 614.0,499.4 616.0,499.2 618.0,499.2 620.0,499.4 621.4,499.9 622.0,500.9 624.0,500.4 626.0,501.9 628.0,501.0 629.3,501.9 630.0,502.2 632.0,502.0 634.0,502.3 636.0,501.9 638.0,502.5 640.0,502.0 642.0,501.1 644.0,502.2 645.0,501.9 646.0,502.1 648.0,501.4 650.0,502.2 652.0,502.3 654.0,501.4 656.0,501.1 658.0,501.3 660.0,501.8 662.0,501.5 664.0,500.8 666.0,501.4 668.0,501.6 670.0,501.6 672.0,501.2 674.0,501.8 676.0,501.6 678.0,500.9 680.0,501.0 682.0,501.9 684.0,500.7 686.0,501.1 688.0,500.8 690.0,501.2 692.0,501.5 694.0,500.4 696.0,500.4 698.0,500.2 699.0,500.9 700.0,500.3"/><polyline points="322.0,521.9 324.0,521.9 326.0,521.9 328.0,521.9 330.0,521.9 332.0,521.9 334.0,521.9 336.0,521.9 338.0,521.9 340.0,521.9 342.0,521.9 344.0,521.9 346.0,521.9 348.0,521.9 350.0,521.9 352.0,521.9 354.0,521.9 356.0,521.9 358.0,521.9 360.0,521.9 362.0,521.9 364.0,521.9 366.0,521.9 368.0,521.9 370.0,521.9 372.0,521.9 374.0,521.9 376.0,521.9 378.0,521.9 380.0,521.9 382.0,521.9 384.0,521.9 386.0,521.9 388.0,521.9 390.0,521.9 392.0,521.9 394.0,521.9 396.0,521.9 398.0,521.9 400.0,521.9 402.0,521.9 404.0,521.9 406.0,521.9 408.0,521.9 410.0,521.9 412.0,521.9 414.0,521.9 416.0,521.9 418.0,521.9 420.0,521.9 422.0,521.9 424.0,521.9 426.0,521.9 428.0,521.9 430.0,521.9 432.0,521.9 434.0,521.9 436.0,521.9 438.0,521.9 440.0,521.9 442.0,521.9 444.0,521.9 446.0,521.9 448.0,521.9 450.0,521.9 451.6,521.9 452.0,522.1 454.0,522.9 455.5,523.5 456.0,523.3 458.0,522.5 459.4,521.9 460.0,521.9 462.0,521.8 464.0,521.7 466.0,521.6 468.0,521.5 470.0,521.4 472.0,521.3 474.0,521.2 474.8,521.2 476.0,521.1 478.0,521.0 480.0,520.8 482.0,520.6 482.6,520.6 484.0,520.7 486.0,520.8 488.0,520.9 490.0,521.0 492.0,521.1 494.0,521.2 496.0,521.4 498.0,521.5 500.0,521.6 502.0,521.7 504.0,521.8 505.8,521.9 506.0,522.0 507.7,523.0 508.0,522.9 510.0,522.4 512.0,521.9 514.0,521.9 516.0,521.9 518.0,521.9 520.0,521.8 522.0,521.8 524.0,521.8 526.0,521.8 528.0,521.8 530.0,521.8 532.0,521.8 534.0,521.8 536.0,521.7 538.0,521.7 540.0,521.7 542.0,521.7 543.0,521.7 544.0,522.2 546.0,523.1 547.1,523.6 548.0,523.2 550.0,522.2 551.0,521.7 552.0,521.7 554.0,521.7 556.0,521.7 558.0,521.7 560.0,521.7 562.0,521.7 564.0,521.7 566.0,521.7 568.0,521.7 570.0,521.7 572.0,521.7 574.0,521.7 574.5,521.7 576.0,522.4 578.0,523.4 578.4,523.6 580.0,522.8 582.0,521.8 582.3,521.7 584.0,521.7 586.0,521.7 588.0,521.7 590.0,521.7 592.0,521.7 594.0,521.7 596.0,521.7 598.0,521.7 600.0,521.7 602.0,521.7 604.0,521.7 606.0,521.7 608.0,521.7 610.0,521.7 612.0,521.7 614.0,521.7 616.0,521.7 618.0,521.7 620.0,521.7 622.0,521.7 624.0,521.7 626.0,521.7 626.3,521.7 628.0,522.4 630.0,523.1 630.2,523.2 632.0,522.5 634.0,521.7 634.1,521.7 636.0,521.7 638.0,521.7 640.0,521.7 642.0,521.7 644.0,521.7 646.0,521.7 648.0,521.7 650.0,521.7 652.0,521.7 654.0,521.7 656.0,521.7 658.0,521.7 660.0,521.7 662.0,521.7 664.0,521.7 666.0,521.7 668.0,521.7 670.0,521.7 672.0,521.7 674.0,521.7 676.0,521.7 678.0,521.7 680.0,521.7 682.0,521.7 684.0,521.7 686.0,521.7 688.0,521.7 690.0,521.7 692.0,521.7 694.0,521.7 696.0,521.7 698.0,521.7 699.0,521.7 700.0,521.7"/><polyline points="322.0,543.8 324.0,543.8 326.0,543.8 328.0,543.8 330.0,543.8 332.0,543.8 334.0,543.8 336.0,543.8 338.0,543.7 340.0,543.7 342.0,543.7 344.0,543.7 346.0,543.7 348.0,543.7 350.0,543.7 352.0,543.7 354.0,543.7 356.0,543.7 358.0,543.7 360.0,543.7 362.0,543.7 364.0,543.7 366.0,543.7 368.0,543.7 370.0,543.6 372.0,543.6 374.0,543.6 376.0,543.6 378.0,543.6 380.0,543.6 382.0,543.6 384.0,543.6 386.0,543.6 388.0,543.6 390.0,543.6 392.0,543.6 394.0,543.6 396.0,543.6 398.0,543.6 400.0,543.5 402.0,543.5 404.0,543.5 406.0,543.5 408.0,543.5 410.0,543.5 412.0,543.5 414.0,543.5 416.0,543.5 418.0,543.5 420.0,543.5 422.0,543.5 424.0,543.5 426.0,543.5 428.0,543.5 430.0,543.5 432.0,543.4 434.0,543.4 436.0,543.4 438.0,543.4 440.0,543.4 442.0,543.4 444.0,543.4 446.0,543.4 448.0,543.4 450.0,543.4 452.0,543.4 454.0,543.4 456.0,543.4 458.0,543.4 460.0,543.4 462.0,543.3 464.0,543.3 466.0,543.3 468.0,543.3 470.0,543.3 472.0,543.3 474.0,543.3 476.0,543.3 478.0,543.3 480.0,543.3 482.0,543.3 484.0,543.3 486.0,543.3 488.0,543.3 490.0,543.3 492.0,543.3 494.0,543.2 496.0,543.2 498.0,543.2 500.0,543.2 502.0,543.2 504.0,543.2 506.0,543.2 508.0,543.2 510.0,543.1 512.0,543.0 514.0,543.0 516.0,542.9 517.8,542.8 518.0,542.9 520.0,544.2 521.7,545.2 522.0,545.2 524.0,545.2 526.0,545.2 528.0,545.2 530.0,545.2 532.0,545.2 534.0,545.2 536.0,545.2 538.0,545.2 540.0,545.2 542.0,545.2 544.0,545.2 546.0,545.2 547.1,545.2 548.0,545.2 550.0,545.2 552.0,545.2 554.0,545.2 556.0,545.2 558.0,545.2 560.0,545.2 562.0,545.2 562.8,545.2 564.0,545.0 566.0,544.7 568.0,544.3 570.0,544.0 572.0,543.7 572.5,543.6 574.0,544.1 576.0,544.8 578.0,545.5 578.4,545.6 580.0,545.2 582.0,544.7 584.0,544.2 586.0,543.7 586.2,543.6 588.0,544.1 590.0,544.6 592.0,545.2 592.1,545.2 594.0,545.1 596.0,545.1 598.0,545.0 600.0,545.0 602.0,544.9 604.0,544.9 606.0,544.8 608.0,544.8 610.0,544.7 612.0,544.7 614.0,544.6 616.0,544.6 618.0,544.5 620.0,544.5 622.0,544.4 624.0,544.3 626.0,544.3 628.0,544.2 629.3,544.2 630.0,544.1 632.0,544.0 634.0,543.8 636.0,543.7 637.0,543.6 638.0,544.1 640.0,545.1 641.0,545.6 642.0,545.6 644.0,545.6 646.0,545.6 648.0,545.6 650.0,545.6 652.0,545.6 654.0,545.6 656.0,545.6 658.0,545.6 660.0,545.6 662.0,545.6 664.0,545.6 666.0,545.6 668.0,545.6 670.0,545.6 672.0,545.6 674.0,545.6 676.0,545.6 678.0,545.6 680.0,545.6 682.0,545.6 684.0,545.6 686.0,545.6 688.0,545.6 690.0,545.6 692.0,545.6 694.0,545.6 696.0,545.6 698.0,545.6 699.0,545.6 700.0,545.6"/><polyline points="322.0,567.0 324.0,567.8 326.0,566.4 328.0,566.2 330.0,567.8 332.0,566.5 334.0,566.4 336.0,567.3 336.5,567.0 338.0,565.4 339.4,564.5 340.0,565.5 342.0,565.7 342.5,566.5 344.0,567.3 346.0,566.2 348.0,566.7 350.0,567.2 352.0,566.8 354.0,567.2 356.0,566.9 358.0,565.7 360.0,567.1 362.0,566.7 364.0,566.2 366.0,566.0 368.0,567.1 370.0,566.6 372.0,567.2 374.0,567.0 376.0,567.3 378.0,566.6 380.0,566.8 382.0,566.7 384.0,566.1 386.0,567.3 388.0,566.2 390.0,567.0 392.0,567.3 394.0,566.8 396.0,565.9 398.0,567.1 400.0,566.5 402.0,565.2 403.2,564.0 404.0,564.3 406.0,566.8 408.0,566.2 409.0,567.0 410.0,567.0 412.0,566.0 414.0,567.3 416.0,566.5 418.0,566.3 420.0,566.0 422.0,566.2 424.0,566.5 426.0,565.3 428.0,565.3 430.0,565.5 432.0,564.8 434.0,565.2 436.0,564.9 438.0,564.6 440.0,564.9 442.0,564.4 444.0,563.5 445.8,564.1 446.0,565.0 448.0,565.0 450.0,566.1 451.6,567.0 452.0,567.0 454.0,568.8 456.0,569.7 457.4,569.5 458.0,569.4 460.0,568.7 462.0,567.6 464.0,568.5 466.0,566.7 467.0,567.0 468.0,567.4 470.0,567.6 472.0,568.1 472.3,568.5 474.0,570.3 475.8,572.8 476.0,571.6 477.7,566.3 478.0,565.3 480.0,564.6 480.6,564.1 482.0,563.9 484.0,562.8 485.5,561.8 486.0,561.6 488.0,563.5 490.0,563.6 490.3,564.5 492.0,565.0 493.8,565.9 494.0,566.8 496.0,570.4 496.1,569.9 498.0,567.4 499.2,565.9 500.0,566.2 502.0,565.0 503.9,564.5 504.0,564.6 506.0,565.9 506.4,566.1 508.0,570.6 510.0,567.7 510.4,566.2 512.0,565.9 513.9,564.7 514.0,564.7 516.0,566.1 518.0,566.7 520.0,571.2 520.7,572.5 522.0,569.5 523.5,566.6 524.0,566.9 526.0,566.0 527.6,564.7 528.0,565.1 530.0,566.5 531.1,566.2 532.0,567.1 533.4,570.6 534.0,568.9 535.8,564.0 536.0,564.1 538.0,562.3 539.3,561.8 540.0,561.6 542.0,563.7 544.0,564.5 546.0,569.6 547.1,572.5 548.0,569.3 549.5,565.2 550.0,564.1 552.0,564.3 553.0,562.8 554.0,562.8 556.0,563.0 558.0,563.7 560.0,564.7 562.0,566.8 564.0,570.3 564.7,570.6 566.0,568.5 567.8,566.9 568.0,566.5 570.0,565.7 572.0,565.8 572.5,565.7 574.0,566.1 576.0,567.9 578.0,573.1 578.4,574.5 580.0,570.0 581.2,566.0 582.0,566.2 584.0,564.7 585.3,563.2 586.0,562.6 588.0,563.7 590.0,565.0 590.5,564.5 592.0,565.5 594.0,568.6 596.0,568.3 598.0,569.1 600.0,569.2 601.9,569.6 602.0,570.1 604.0,570.7 604.8,570.6 606.0,572.2 606.8,573.5 608.0,570.0 608.8,568.4 610.0,567.2 611.7,566.7 612.0,566.4 614.0,566.6 616.0,568.3 618.0,568.0 620.0,569.8 621.4,569.6 622.0,569.9 624.0,569.0 626.0,569.9 628.0,570.3 629.3,570.2 630.0,569.4 632.0,570.2 634.0,569.4 636.0,570.6 638.0,569.3 640.0,570.3 642.0,570.9 644.0,570.7 646.0,569.6 648.0,570.1 650.0,569.4 652.0,569.7 654.0,570.6 656.0,570.5 658.0,569.1 660.0,569.7 662.0,570.2 664.0,569.3 666.0,570.4 668.0,570.5 670.0,569.9 672.0,569.6 674.0,570.4 676.0,569.8 678.0,569.3 680.0,569.4 682.0,569.2 684.0,570.3 686.0,569.7 688.0,570.0 690.0,570.2 692.0,570.5 694.0,569.1 696.0,569.5 698.0,570.2 699.0,569.6 700.0,570.0"/><polyline points="322.0,591.6 324.0,592.3 326.0,592.4 328.0,592.3 330.0,590.9 332.0,591.8 334.0,591.5 336.0,591.7 336.5,591.6 338.0,589.4 339.4,588.6 340.0,588.6 342.0,590.7 342.5,591.2 344.0,590.8 346.0,591.2 348.0,590.6 350.0,590.7 352.0,591.9 354.0,591.4 356.0,591.6 358.0,592.1 360.0,591.5 362.0,591.1 364.0,592.4 366.0,592.1 368.0,592.3 370.0,592.3 372.0,592.9 374.0,592.0 374.2,592.2 376.0,592.6 378.0,591.9 380.0,592.2 382.0,592.3 384.0,591.6 386.0,591.2 388.0,591.8 390.0,592.1 392.0,591.9 394.0,591.6 396.0,591.9 398.0,591.0 400.0,591.5 401.3,588.6 402.0,587.7 403.2,587.7 404.0,588.3 406.0,590.8 408.0,591.3 409.0,590.8 410.0,590.3 412.0,590.2 414.0,590.3 416.0,590.3 418.0,590.7 420.0,591.3 422.0,591.8 424.0,591.0 426.0,591.2 428.0,591.1 430.0,591.2 432.0,592.1 432.3,591.6 434.0,590.8 436.0,589.2 437.7,588.7 438.0,588.0 440.0,588.9 442.0,588.5 444.0,588.5 445.8,587.7 446.0,587.3 448.0,588.5 450.0,589.8 452.0,589.8 454.0,591.1 455.5,590.8 456.0,590.2 458.0,591.7 460.0,590.2 462.0,590.9 464.0,590.2 466.0,591.6 468.0,591.5 469.0,591.2 470.0,592.5 472.0,593.3 473.1,593.4 474.0,596.3 475.8,599.9 476.0,599.3 478.0,593.5 478.9,589.8 480.0,589.4 482.0,587.2 483.5,586.4 484.0,587.4 486.0,587.3 488.0,587.8 490.0,588.5 490.3,589.3 492.0,590.2 493.8,591.3 494.0,591.3 496.0,597.5 496.1,597.0 498.0,594.9 499.2,592.4 500.0,591.6 502.0,590.8 503.9,590.8 504.0,590.9 506.0,591.1 506.4,591.9 508.0,595.0 510.0,591.4 510.4,590.6 512.0,590.5 513.9,589.2 514.0,588.8 516.0,590.3 518.0,591.7 520.0,597.7 520.7,598.9 522.0,595.7 523.5,592.3 524.0,591.7 526.0,591.6 527.6,590.1 528.0,590.8 530.0,591.8 531.1,591.6 532.0,593.6 533.4,596.0 534.0,594.6 535.8,590.9 536.0,591.1 538.0,590.4 539.3,589.2 540.0,589.8 542.0,590.2 544.0,591.7 546.0,596.1 547.1,599.0 548.0,596.0 549.5,591.6 550.0,591.7 552.0,590.0 553.0,589.2 554.0,589.5 556.0,590.4 558.0,589.6 560.0,590.6 562.0,592.7 564.0,594.1 564.7,595.0 566.0,594.6 568.0,594.2 570.0,592.3 572.0,592.7 572.5,591.7 574.0,591.9 576.0,593.7 578.0,599.0 578.4,599.9 580.0,595.6 581.2,592.3 582.0,591.4 584.0,590.7 585.3,589.8 586.0,589.9 588.0,590.3 590.0,591.1 590.5,590.8 592.0,591.3 594.0,594.0 596.0,594.1 598.0,595.1 600.0,594.4 601.7,595.3 602.0,596.1 604.0,596.4 606.0,598.7 606.8,599.0 608.0,595.3 608.8,593.8 610.0,593.0 611.7,592.1 612.0,592.1 614.0,592.1 616.0,593.7 618.0,593.9 620.0,594.9 621.4,595.0 622.0,595.2 624.0,595.8 626.0,596.2 628.0,596.3 629.3,597.0 630.0,597.5 632.0,595.6 634.0,596.4 636.0,595.9 638.0,594.8 640.0,594.7 641.0,594.0 642.0,594.3 644.0,594.2 646.0,593.6 648.0,593.7 650.0,593.7 652.0,593.7 654.0,594.8 656.0,593.7 658.0,593.8 660.0,593.9 662.0,594.5 664.0,594.0 666.0,594.1 668.0,593.6 670.0,593.6 672.0,593.3 674.0,593.5 676.0,593.6 678.0,594.6 680.0,594.0 682.0,593.3 684.0,593.9 686.0,593.4 688.0,594.1 690.0,593.9 692.0,594.6 694.0,593.6 696.0,594.6 698.0,593.6 699.0,594.0 700.0,594.8"/><polyline points="322.0,613.1 324.0,613.4 326.0,613.5 328.0,612.2 330.0,613.5 332.0,612.1 334.0,612.8 336.0,611.7 338.0,612.7 340.0,611.6 342.0,612.4 343.2,612.0 344.0,612.4 346.0,612.5 348.0,612.0 350.0,612.7 352.0,613.0 354.0,611.5 356.0,612.2 358.0,613.0 360.0,612.6 362.0,612.2 364.0,612.0 366.0,613.1 368.0,611.6 370.0,612.8 372.0,613.0 374.0,611.9 376.0,612.2 378.0,612.2 380.0,612.6 382.0,612.3 384.0,613.2 386.0,613.3 388.0,612.3 390.0,613.3 392.0,612.0 394.0,612.0 396.0,613.0 398.0,613.3 400.0,613.3 402.0,613.7 404.0,613.5 406.0,612.5 408.0,613.3 410.0,613.7 412.0,612.3 414.0,613.0 416.0,612.4 418.0,612.4 420.0,613.0 422.0,613.4 424.0,613.9 426.0,612.5 428.0,613.2 430.0,614.1 432.0,613.7 434.0,613.3 436.0,612.9 438.0,613.6 440.0,613.0 442.0,613.6 444.0,613.7 446.0,613.3 448.0,614.0 450.0,613.5 452.0,614.2 454.0,615.1 455.5,615.8 456.0,616.0 458.0,613.6 459.4,613.1 460.0,612.5 462.0,613.1 464.0,612.7 466.0,613.4 468.0,612.2 470.0,612.3 472.0,611.6 474.0,612.2 476.0,611.9 478.0,612.0 480.0,612.4 482.0,611.1 484.0,612.6 486.0,612.0 486.4,611.6 488.0,612.3 490.0,612.0 492.0,612.2 494.0,612.1 496.0,612.3 498.0,612.1 500.0,612.5 502.0,612.6 504.0,612.9 506.0,614.0 508.0,613.5 510.0,614.7 512.0,615.2 513.9,615.6 514.0,614.7 516.0,613.8 518.0,612.9 519.7,611.7 520.0,612.0 522.0,611.5 524.0,611.8 526.0,612.2 528.0,611.1 530.0,611.2 532.0,611.8 534.0,611.0 535.4,611.3 536.0,611.9 538.0,612.3 540.0,612.5 542.0,614.1 544.0,614.3 545.2,615.6 546.0,615.6 548.0,614.4 550.0,612.7 551.0,612.0 552.0,612.6 554.0,611.4 556.0,611.7 558.0,611.2 560.0,610.9 562.0,612.2 564.0,610.8 566.0,612.2 568.0,611.5 570.0,611.7 570.6,611.3 572.0,611.0 574.0,613.1 576.0,613.6 576.5,613.3 578.0,612.4 580.0,612.3 582.0,612.0 584.0,612.3 586.0,611.3 586.2,612.0 588.0,612.5 590.0,611.9 592.0,612.3 594.0,611.5 596.0,612.1 598.0,611.8 600.0,612.1 602.0,611.6 604.0,612.6 606.0,612.3 608.0,612.3 609.7,611.7 610.0,611.6 612.0,612.3 614.0,613.3 616.0,614.2 617.5,615.6 618.0,616.2 620.0,614.3 622.0,614.6 624.0,612.8 625.4,612.7 626.0,612.9 628.0,612.3 630.0,612.4 632.0,613.2 634.0,613.0 636.0,613.5 638.0,612.4 640.0,612.4 642.0,612.1 644.0,612.4 646.0,613.7 648.0,613.0 650.0,612.9 652.0,612.6 654.0,613.4 656.0,613.3 658.0,612.4 660.0,612.2 662.0,612.4 664.0,613.6 666.0,613.4 668.0,612.6 670.0,612.6 672.0,612.8 674.0,613.4 676.0,613.5 678.0,612.7 680.0,612.9 682.0,612.7 684.0,613.9 686.0,613.3 688.0,614.0 690.0,612.8 692.0,613.5 694.0,613.4 696.0,614.0 698.0,613.1 699.0,613.3 700.0,612.8"/><polyline points="322.0,634.4 324.0,634.1 326.0,635.0 328.0,634.8 330.0,633.6 332.0,634.7 334.0,634.2 336.0,633.1 338.0,634.6 340.0,633.3 342.0,633.3 344.0,633.5 346.0,633.7 348.0,632.8 350.0,633.7 352.0,633.9 354.0,633.3 356.0,633.7 358.0,633.3 360.0,633.6 362.0,632.4 364.0,632.6 366.0,632.8 366.4,632.8 368.0,632.5 370.0,634.4 372.0,634.2 374.0,634.4 376.0,633.8 378.0,634.6 380.0,634.4 382.0,634.0 384.0,634.0 386.0,634.6 388.0,633.9 390.0,634.8 392.0,634.8 394.0,634.1 396.0,635.5 398.0,634.1 400.0,634.3 402.0,635.5 404.0,634.5 406.0,634.9 408.0,635.1 410.0,635.0 412.0,635.1 414.0,635.2 416.0,635.2 418.0,634.5 420.0,635.8 422.0,634.9 424.0,634.6 426.0,635.2 428.0,636.0 430.0,635.7 432.0,635.4 434.0,635.5 436.0,635.1 438.0,635.8 440.0,635.4 442.0,634.9 444.0,635.1 446.0,635.1 448.0,636.1 450.0,636.5 452.0,636.3 454.0,635.4 456.0,635.3 458.0,636.7 460.0,635.8 462.0,635.5 464.0,636.2 466.0,636.3 468.0,636.2 470.0,636.1 472.0,635.9 474.0,636.3 474.8,636.3 476.0,635.8 478.0,635.4 480.0,634.4 482.0,634.3 484.0,634.1 486.0,635.2 488.0,633.7 490.0,634.8 492.0,634.2 494.0,634.8 496.0,634.6 498.0,634.4 500.0,634.4 502.0,633.8 504.0,633.4 506.0,634.6 508.0,634.2 510.0,633.4 512.0,632.8 514.0,633.7 515.8,632.8 516.0,633.1 518.0,634.0 520.0,636.6 521.7,638.1 522.0,637.5 524.0,638.3 526.0,637.0 528.0,637.8 530.0,636.9 532.0,635.6 533.4,636.1 534.0,635.9 536.0,636.7 538.0,636.1 540.0,635.1 542.0,635.3 544.0,635.0 546.0,634.6 547.1,635.2 548.0,635.4 550.0,635.8 552.0,635.2 554.0,636.0 556.0,636.7 558.0,636.9 560.0,635.9 562.0,635.9 564.0,637.5 566.0,636.7 566.7,637.1 568.0,636.2 570.0,636.8 572.0,635.4 574.0,635.7 576.0,635.2 578.0,634.0 580.0,633.8 582.0,633.0 584.0,633.4 584.3,632.8 586.0,633.0 588.0,633.7 590.0,635.3 592.0,635.0 594.0,636.1 596.0,636.5 598.0,637.1 600.0,636.7 602.0,637.7 604.0,639.0 605.8,639.0 606.0,639.6 608.0,636.6 609.7,635.2 610.0,635.2 612.0,634.8 614.0,635.9 616.0,636.0 618.0,636.5 620.0,636.5 622.0,636.9 624.0,638.2 626.0,638.3 628.0,637.9 630.0,637.8 632.0,638.0 633.2,639.0 634.0,638.2 636.0,637.9 638.0,638.4 640.0,637.9 642.0,637.0 644.0,637.9 645.0,637.1 646.0,637.4 648.0,637.5 650.0,637.8 652.0,636.8 654.0,637.8 656.0,637.9 658.0,637.8 660.0,636.3 662.0,637.7 664.0,637.9 666.0,636.4 668.0,637.7 670.0,637.6 672.0,636.3 674.0,637.5 676.0,637.5 678.0,637.5 680.0,636.3 682.0,637.9 684.0,636.4 686.0,636.4 688.0,637.9 690.0,637.1 692.0,636.6 694.0,636.9 696.0,637.3 698.0,636.7 699.0,637.1 700.0,637.8"/><polyline points="322.0,659.5 324.0,659.9 326.0,659.0 328.0,659.0 330.0,659.7 332.0,658.7 334.0,660.0 336.0,659.9 336.5,659.5 338.0,656.4 339.4,655.1 340.0,655.7 341.7,656.1 342.0,656.6 343.2,658.8 344.0,659.0 346.0,659.6 348.0,659.7 350.0,658.7 352.0,659.5 354.0,659.4 356.0,659.7 358.0,658.1 360.0,659.7 362.0,658.5 364.0,658.4 366.0,659.2 368.0,659.6 370.0,659.8 372.0,658.8 374.0,659.6 376.0,658.3 378.0,659.9 380.0,658.8 382.0,659.2 384.0,658.5 386.0,658.4 388.0,658.4 390.0,659.4 392.0,659.3 394.0,659.8 396.0,659.9 398.0,659.2 400.0,659.3 402.0,658.1 403.2,656.5 404.0,656.8 406.0,659.3 408.0,660.1 409.0,659.5 410.0,659.0 412.0,660.0 414.0,658.8 416.0,658.7 418.0,658.7 420.0,657.7 422.0,657.6 424.0,658.2 426.0,658.3 428.0,657.0 430.0,657.4 432.0,657.2 434.0,657.7 436.0,657.8 438.0,656.1 440.0,656.7 442.0,655.8 444.0,656.7 445.8,656.1 446.0,657.0 448.0,657.7 450.0,658.7 451.6,659.5 452.0,658.6 454.0,657.9 455.5,658.0 456.0,658.0 458.0,659.5 459.4,661.5 460.0,660.8 462.0,661.8 464.0,660.4 466.0,661.1 468.0,660.5 470.0,660.1 471.0,659.5 472.0,660.9 473.9,661.7 474.0,662.4 475.8,668.0 476.0,666.9 477.7,659.8 478.0,659.4 480.0,657.4 480.6,657.0 482.0,655.5 484.0,654.6 484.5,655.1 486.0,655.7 488.0,656.3 490.0,657.7 490.3,657.0 492.0,657.8 493.8,658.3 494.0,659.1 496.0,661.7 496.1,661.9 498.0,661.2 500.0,660.7 502.0,658.5 503.9,658.4 504.0,657.6 506.0,659.6 508.0,661.0 510.0,660.0 512.0,659.6 514.0,658.4 515.8,658.6 516.0,658.1 518.0,659.0 518.7,660.1 520.0,663.1 520.7,664.5 522.0,661.0 522.7,660.4 524.0,658.9 525.6,659.0 526.0,659.1 528.0,657.5 530.0,655.6 531.1,655.8 532.0,656.4 534.0,655.4 536.0,655.9 538.0,655.1 539.3,654.7 540.0,655.1 542.0,655.9 544.0,657.2 546.0,661.2 547.1,664.5 548.0,663.1 549.5,658.6 550.0,658.2 552.0,656.9 553.0,656.7 554.0,656.2 556.0,657.3 558.0,658.2 560.0,657.7 562.0,658.7 564.0,660.7 564.7,660.6 566.0,660.3 568.0,659.0 570.0,658.3 570.6,657.7 572.0,658.6 574.0,659.7 575.3,659.4 576.0,659.8 578.0,663.2 578.4,664.5 580.0,659.8 581.2,657.1 582.0,655.9 584.0,655.1 585.3,654.7 586.0,654.8 588.0,655.1 590.0,656.3 590.5,656.4 592.0,657.8 594.0,661.6 596.0,662.1 598.0,661.5 600.0,660.2 601.9,660.6 602.0,660.2 604.0,661.9 604.8,661.8 606.0,663.4 606.8,665.5 608.0,662.3 608.8,659.6 610.0,658.0 611.7,657.7 612.0,658.0 614.0,658.5 616.0,658.6 618.0,659.4 620.0,660.1 621.4,659.6 622.0,660.6 624.0,659.5 626.0,660.7 628.0,660.6 629.3,661.6 630.0,662.0 632.0,660.9 634.0,660.6 636.0,660.3 638.0,660.0 640.0,660.3 641.0,660.6 642.0,660.1 644.0,660.6 646.0,661.1 648.0,660.9 650.0,660.2 652.0,660.0 654.0,660.9 656.0,660.0 658.0,660.6 660.0,661.1 662.0,660.4 664.0,660.2 666.0,659.5 668.0,659.8 670.0,661.0 670.3,660.2 672.0,660.4 674.0,661.6 674.2,662.5 676.0,662.6 678.0,662.0 680.0,662.5 682.0,661.8 684.0,661.7 686.0,661.7 688.0,662.4 690.0,662.3 692.0,661.1 694.0,662.1 696.0,662.2 698.0,661.6 699.0,661.6 700.0,660.9"/><polyline points="322.0,680.8 324.0,681.1 326.0,681.1 328.0,681.6 330.0,680.3 332.0,680.1 334.0,681.4 336.0,680.5 336.5,680.8 338.0,678.9 339.4,677.5 340.0,678.6 342.0,679.2 343.2,680.8 344.0,681.5 346.0,680.8 348.0,680.1 350.0,681.5 352.0,680.9 354.0,680.1 356.0,681.4 358.0,681.3 360.0,681.2 362.0,681.1 364.0,681.6 366.0,680.0 368.0,681.6 370.0,681.0 372.0,680.4 374.0,681.0 376.0,680.5 378.0,681.1 380.0,681.1 382.0,680.8 384.0,680.1 386.0,680.6 388.0,680.5 390.0,681.2 392.0,681.5 394.0,681.3 396.0,680.9 398.0,680.2 400.0,680.8 402.0,679.1 403.2,677.5 404.0,677.9 406.0,680.2 408.0,681.0 409.0,680.2 410.0,679.6 412.0,680.9 414.0,679.2 416.0,680.4 418.0,679.6 420.0,680.0 422.0,679.6 424.0,679.4 426.0,679.5 428.0,680.1 430.0,679.2 432.0,679.2 434.0,679.8 436.0,678.7 438.0,679.0 440.0,679.2 442.0,679.1 444.0,678.5 446.0,679.4 447.7,678.9 448.0,679.0 450.0,679.0 452.0,680.1 454.0,680.3 455.5,681.6 456.0,681.3 458.0,680.9 460.0,681.1 462.0,681.5 464.0,681.7 466.0,681.0 468.0,681.2 470.0,681.2 471.0,681.2 472.0,682.0 473.9,683.2 474.0,684.2 475.8,689.0 476.0,687.8 477.7,681.8 478.0,682.0 480.0,679.9 480.6,679.3 482.0,679.3 484.0,677.9 484.5,677.3 486.0,677.2 488.0,678.3 490.0,680.6 490.3,680.2 492.0,680.7 493.8,681.9 494.0,682.6 496.0,686.1 496.1,687.0 498.0,683.6 499.2,681.3 500.0,680.8 502.0,680.0 503.9,679.3 504.0,678.5 506.0,680.8 506.4,680.3 508.0,683.0 510.0,677.4 510.4,675.7 512.0,675.0 513.9,673.3 514.0,673.6 516.0,674.9 518.0,677.3 520.0,685.4 520.7,689.0 522.0,685.8 523.5,680.9 524.0,680.3 526.0,679.0 527.6,678.2 528.0,679.0 530.0,678.9 531.1,679.7 532.0,682.2 533.4,684.0 534.0,682.4 535.8,679.6 536.0,680.1 538.0,678.4 539.3,678.2 540.0,677.9 542.0,679.4 544.0,680.4 546.0,685.2 547.1,687.0 548.0,684.2 550.0,680.4 550.3,679.6 552.0,679.4 554.0,676.9 555.0,677.2 556.0,677.5 558.0,677.9 560.0,678.8 560.8,679.1 562.0,681.5 564.0,683.8 564.7,685.0 566.0,683.0 567.8,681.1 568.0,680.5 570.0,681.0 572.0,679.3 572.5,679.8 574.0,681.2 576.0,682.3 578.0,689.5 578.4,689.9 580.0,684.7 581.2,680.3 582.0,680.4 584.0,677.6 585.3,677.2 586.0,677.5 588.0,678.0 590.0,677.6 590.5,678.4 592.0,679.9 594.0,682.1 596.0,682.2 598.0,682.4 600.0,683.3 601.7,683.8 602.0,683.4 604.0,686.9 606.0,687.6 606.8,689.0 608.0,684.6 608.8,681.6 610.0,681.0 611.7,679.2 612.0,678.4 614.0,680.3 616.0,680.6 617.5,680.2 618.0,680.7 620.0,682.1 621.4,683.1 622.0,683.8 624.0,683.9 626.0,683.7 628.0,685.4 629.3,685.0 630.0,684.5 632.0,685.0 634.0,684.8 636.0,685.1 638.0,684.3 640.0,684.7 641.0,684.4 642.0,683.9 644.0,684.7 646.0,683.8 648.0,684.1 650.0,684.4 652.0,684.8 654.0,685.1 656.0,685.2 658.0,684.3 660.0,683.7 662.0,684.6 664.0,684.5 666.0,684.8 668.0,683.6 670.0,684.9 672.0,683.8 674.0,685.0 676.0,685.2 678.0,684.5 680.0,684.3 682.0,684.7 684.0,683.8 686.0,684.7 688.0,685.0 690.0,685.1 692.0,684.7 694.0,684.8 696.0,685.2 698.0,684.2 699.0,684.4 700.0,684.1"/><polyline points="322.0,704.5 324.0,704.8 325.8,706.4 326.0,705.7 328.0,705.6 330.0,704.0 331.6,703.9 332.0,703.4 334.0,704.5 335.5,705.0 336.0,703.9 337.1,702.1 338.0,701.3 339.4,701.2 340.0,701.2 342.0,702.6 344.0,702.1 345.2,703.1 346.0,702.8 348.0,703.3 350.0,704.3 352.0,704.8 352.9,705.8 354.0,706.3 356.0,704.5 358.0,705.0 358.7,703.9 360.0,703.6 362.0,705.4 364.0,705.3 364.5,705.4 366.0,705.9 368.0,706.1 370.0,705.6 372.0,705.8 374.0,706.8 376.0,706.1 378.0,706.1 380.0,707.6 381.9,707.4 382.0,707.6 384.0,705.4 385.8,704.5 386.0,704.5 388.0,705.3 390.0,704.3 392.0,704.1 394.0,704.6 396.0,704.3 398.0,704.7 400.0,705.0 401.3,702.1 402.0,701.0 403.2,701.2 404.0,702.6 406.0,704.6 408.0,705.4 409.0,705.0 410.0,704.8 412.0,704.7 414.0,704.5 416.0,705.7 418.0,705.5 420.0,705.1 422.0,704.3 424.0,704.2 426.0,705.2 428.0,704.2 430.0,705.0 432.0,704.5 434.0,703.8 436.0,704.1 438.0,705.3 440.0,704.3 442.0,704.8 443.9,704.5 444.0,704.9 446.0,702.9 447.7,701.9 448.0,702.0 450.0,703.2 452.0,703.5 452.4,703.3 454.0,705.5 455.5,707.4 456.0,707.2 458.0,705.8 459.4,705.0 460.0,704.9 462.0,705.3 464.0,704.6 466.0,705.6 468.0,704.7 470.0,704.5 471.0,705.0 472.0,706.9 473.3,707.6 474.0,710.3 474.8,715.1 476.0,708.2 476.4,706.4 478.0,704.5 478.7,703.5 480.0,702.9 482.0,702.8 484.0,701.7 484.5,701.2 486.0,701.5 488.0,701.1 490.0,703.3 490.3,702.5 492.0,702.9 493.8,703.8 494.0,703.8 496.0,706.8 496.1,707.4 498.0,706.2 500.0,705.3 502.0,704.6 503.9,704.5 504.0,704.8 506.0,705.2 508.0,706.6 510.0,705.9 512.0,705.5 513.9,704.6 514.0,703.9 516.0,705.8 517.4,705.9 518.0,706.3 519.7,709.5 520.0,709.8 522.0,708.4 523.6,706.6 524.0,706.4 526.0,705.7 527.6,705.6 528.0,705.8 530.0,707.5 531.5,707.6 532.0,707.1 533.1,703.5 534.0,703.3 535.4,702.1 536.0,702.1 538.0,702.6 540.0,703.6 541.2,703.6 542.0,703.6 544.0,705.2 544.7,705.0 546.0,706.9 547.1,709.1 548.0,707.4 550.0,703.4 550.3,702.8 552.0,702.1 554.0,701.7 555.0,700.7 556.0,701.5 558.0,701.7 560.0,701.8 560.8,701.7 562.0,702.4 564.0,703.9 564.7,704.6 566.0,704.2 568.0,704.5 570.0,703.8 570.6,703.3 572.0,703.1 574.0,703.9 574.7,704.6 576.0,705.7 577.4,708.5 578.0,706.8 580.0,703.1 580.2,702.2 582.0,701.5 584.0,699.4 584.3,700.1 586.0,700.9 588.0,701.0 590.0,701.2 590.1,701.2 592.0,702.1 594.0,704.6 596.0,704.3 598.0,704.9 600.0,706.8 602.0,706.5 604.0,706.4 605.8,707.6 606.0,707.6 607.4,703.5 608.0,703.1 609.7,702.1 610.0,702.0 612.0,703.5 613.6,707.6 614.0,707.0 616.0,704.6 617.5,703.5 618.0,702.6 620.0,703.4 622.0,703.1 623.4,702.1 624.0,702.0 626.0,703.0 628.0,704.1 628.1,703.5 630.0,705.2 631.2,707.6 632.0,708.4 634.0,706.9 636.0,707.4 638.0,706.9 640.0,707.1 642.0,707.0 644.0,707.2 645.0,707.6 646.0,707.4 648.0,707.6 650.0,707.2 652.0,707.5 654.0,707.7 656.0,706.3 658.0,706.4 658.6,706.6 660.0,706.7 662.0,706.0 664.0,705.7 666.0,707.0 668.0,706.4 670.0,706.2 672.0,706.6 674.0,705.9 676.0,706.1 678.0,705.7 680.0,706.1 682.0,705.9 684.0,706.2 686.0,706.7 688.0,706.6 690.0,706.3 691.8,706.0 692.0,706.2 694.0,707.3 696.0,706.8 698.0,708.7 699.7,708.5 700.0,707.9"/><polyline points="322.0,727.7 324.0,728.0 326.0,727.9 327.7,728.3 328.0,728.6 330.0,725.6 332.0,723.9 332.4,723.5 334.0,722.9 336.0,722.5 338.0,723.0 339.4,721.9 340.0,721.5 341.7,722.9 342.0,723.4 343.2,725.7 344.0,725.4 346.0,725.9 348.0,727.4 349.0,726.7 350.0,726.3 352.0,726.6 354.0,726.1 356.0,726.5 358.0,725.8 360.0,725.2 362.0,725.5 364.0,725.3 366.0,725.7 366.4,725.2 368.0,726.1 370.0,726.6 372.0,728.4 372.3,728.3 374.0,727.0 376.0,726.3 378.0,725.2 380.0,724.9 382.0,725.4 384.0,726.2 386.0,725.9 388.0,726.4 390.0,726.6 392.0,726.5 394.0,726.8 396.0,726.5 398.0,727.0 400.0,727.0 401.3,724.0 402.0,724.1 403.2,723.0 404.0,723.3 406.0,726.5 408.0,727.4 409.0,726.7 410.0,726.4 412.0,725.9 414.0,725.8 416.0,726.1 418.0,725.5 420.0,726.0 422.0,725.9 424.0,726.2 426.0,725.8 428.0,726.5 428.4,725.7 430.0,726.4 432.0,726.3 434.0,727.8 436.0,728.0 436.1,727.7 438.0,728.3 440.0,727.7 442.0,727.9 444.0,726.4 446.0,726.3 448.0,727.3 450.0,725.5 452.0,726.8 454.0,726.6 455.5,725.7 456.0,725.5 458.0,727.2 459.4,729.0 460.0,729.5 462.0,729.0 464.0,728.2 466.0,727.4 467.0,726.7 468.0,727.6 470.0,727.8 471.0,728.6 472.0,728.5 473.9,730.9 474.0,731.4 475.8,737.4 476.0,737.3 478.0,730.0 478.7,726.7 480.0,724.7 481.0,723.1 482.0,721.9 484.0,721.5 484.5,721.9 486.0,722.4 488.0,723.4 490.0,726.7 490.3,727.7 492.0,728.2 494.0,729.9 494.2,730.6 496.0,730.4 498.0,729.5 500.0,729.2 502.0,729.6 503.6,724.6 504.0,723.8 506.0,723.0 508.0,729.0 510.0,722.7 510.4,722.5 512.0,721.9 513.9,720.3 514.0,721.0 516.0,721.6 518.0,723.8 520.0,731.6 520.7,734.0 522.0,731.8 523.5,728.1 524.0,727.4 526.0,726.6 527.6,726.1 528.0,726.9 530.0,727.2 531.1,727.1 532.0,728.4 533.4,730.0 534.0,729.4 535.8,725.6 536.0,725.7 538.0,724.4 539.3,724.2 540.0,724.9 542.0,726.1 544.0,726.7 546.0,730.7 547.1,734.0 548.0,731.4 550.0,726.2 550.3,725.9 552.0,725.6 554.0,723.4 555.0,723.2 556.0,723.8 558.0,724.1 560.0,724.7 560.8,725.1 562.0,726.9 564.0,730.6 564.7,731.0 566.0,729.2 567.1,727.3 568.0,726.8 570.0,725.7 570.6,726.1 572.0,726.5 574.0,727.6 575.3,728.3 576.0,730.1 578.0,734.9 578.4,734.9 580.0,728.6 581.2,724.6 582.0,724.7 584.0,723.0 585.3,721.2 586.0,721.4 588.0,721.9 590.0,722.7 590.5,723.4 592.0,726.9 594.0,730.0 596.0,729.7 598.0,730.8 600.0,731.1 601.1,731.0 602.0,731.0 604.0,732.1 605.8,734.0 606.0,733.7 608.0,727.1 608.2,727.4 610.0,726.3 611.7,725.2 612.0,726.1 614.0,725.6 616.0,725.8 617.5,726.4 618.0,726.2 620.0,728.4 621.4,730.0 622.0,729.4 624.0,728.1 625.4,728.1 626.0,728.6 628.0,729.0 630.0,729.8 631.2,729.8 632.0,730.2 634.0,733.0 635.1,734.9 636.0,734.8 638.0,731.4 639.1,731.2 640.0,730.8 642.0,731.2 644.0,729.7 645.0,730.0 646.0,729.7 648.0,730.8 650.0,730.5 652.0,731.3 654.0,732.6 656.0,734.2 656.6,734.9 658.0,733.9 660.0,733.7 662.0,732.9 664.0,732.1 664.5,731.4 666.0,732.8 668.0,732.1 670.0,733.2 672.0,735.2 672.3,734.5 674.0,734.6 676.0,734.2 678.0,732.8 680.0,732.2 682.0,732.0 684.0,732.0 686.0,732.0 688.0,731.1 690.0,729.9 691.8,729.5 692.0,729.9 694.0,730.9 696.0,731.0 698.0,731.6 699.7,733.0 700.0,733.5"/><polyline points="719.0,56.9 721.0,56.1 723.0,56.7 725.0,57.2 727.0,57.0 729.0,57.0 731.0,56.3 733.0,57.0 735.0,56.4 737.0,55.4 738.6,56.2 739.0,58.3 740.7,67.5 741.0,68.4 742.1,75.9 743.0,76.2 744.2,74.5 745.0,71.1 746.3,63.2 747.0,61.7 749.0,58.3 749.2,58.3 751.0,58.4 753.0,56.8 755.0,56.3 757.0,55.9 758.3,56.2 759.0,56.2 761.0,57.4 763.0,58.9 764.0,58.3 765.0,57.5 767.0,58.5 769.0,57.2 771.0,57.4 772.4,56.2 773.0,56.8 775.0,55.6 777.0,56.6 779.0,55.6 781.0,55.4 783.0,56.2 785.0,57.0 787.0,56.6 789.0,55.9 790.0,56.5 791.0,57.2 793.0,57.5 795.0,56.3 797.0,56.9 799.0,55.2 801.0,53.9 801.4,53.3 803.0,55.8 804.9,56.9 805.0,56.1 807.0,56.6 809.0,56.2 811.0,56.7 812.0,55.5 813.0,58.7 814.1,61.8 815.0,67.2 816.9,77.3 817.0,77.6 819.0,73.1 819.7,71.7 821.0,64.7 821.1,64.6 823.0,64.0 825.0,61.0 826.1,59.0 827.0,60.2 828.9,62.5 829.0,62.2 831.0,62.9 833.0,61.7 834.5,61.8 835.0,60.3 836.7,55.5 837.0,56.3 838.8,57.6 839.0,58.2 841.0,58.2 843.0,57.5 845.0,56.5 845.8,56.9 847.0,61.4 849.0,67.8 849.4,68.2 851.0,64.1 852.9,58.3 853.0,58.7 855.0,56.1 855.6,55.5 857.0,55.3 859.0,55.1 861.0,53.9 863.0,54.6 864.1,54.1 865.0,55.3 867.0,54.9 868.3,56.2 869.0,56.7 871.0,56.6 872.6,56.2 873.0,55.4 875.0,54.9 876.8,55.5 877.0,55.5 879.0,53.1 880.3,52.6 881.0,53.1 883.0,56.2 883.2,56.2 885.0,55.8 886.7,54.8 887.0,55.9 889.0,59.5 890.9,63.2 891.0,63.0 893.0,65.3 895.0,62.8 896.6,62.5 897.0,61.3 899.0,59.5 900.1,59.0 901.0,57.7 903.0,55.0 904.3,52.6 905.0,53.2 906.4,56.2 907.0,56.1 909.0,57.7 911.0,57.1 912.1,57.6 913.0,57.4 915.0,55.9 916.3,54.8 917.0,54.6 919.0,52.9 920.6,51.9 921.0,52.8 923.0,57.2 923.4,57.6 925.0,64.5 925.5,67.5 927.0,65.0 927.6,63.2 929.0,58.6 930.4,52.6 931.0,52.4 933.0,55.2 933.3,56.2 935.0,58.2 937.0,60.9 937.5,62.5 939.0,60.0 941.0,58.7 941.7,57.6 943.0,55.7 945.0,53.8 947.0,53.8 947.4,52.6 949.0,53.2 951.0,54.6 951.6,54.8 953.0,53.9 954.4,53.1 955.0,53.7 957.0,56.8 958.0,58.3 959.0,57.4 961.0,57.6 962.9,56.9 963.0,56.4 965.0,56.5 967.0,57.0 969.0,57.7 971.0,59.1 971.4,58.3 973.0,57.9 975.0,57.9 977.0,56.2 979.0,56.1 981.0,55.9 983.0,56.8 985.0,56.5"/><polyline points="719.0,80.9 721.0,81.0 723.0,80.1 725.0,81.6 727.0,81.4 729.0,80.4 731.0,80.8 733.0,79.8 735.0,79.7 737.0,79.8 737.2,80.2 739.0,84.7 739.3,85.0 741.0,95.4 741.4,98.5 743.0,100.0 743.5,99.2 745.0,90.8 745.6,88.6 747.0,85.7 749.0,82.2 749.9,81.6 751.0,82.0 753.0,81.1 755.0,81.1 757.0,80.7 758.3,80.9 759.0,81.2 761.0,80.7 763.0,80.3 765.0,80.8 767.0,80.5 769.0,80.1 771.0,81.5 773.0,81.3 775.0,81.2 777.0,81.7 779.0,80.7 780.9,80.9 781.0,80.6 783.0,79.7 783.7,79.5 785.0,79.1 787.0,79.2 789.0,77.5 791.0,78.0 793.0,77.8 795.0,77.3 797.0,76.7 799.0,75.9 800.7,76.6 801.0,77.2 803.0,76.7 805.0,78.7 807.0,79.4 809.0,79.1 810.6,80.2 811.0,79.9 813.0,83.4 814.1,85.8 815.0,90.4 816.9,102.7 817.0,101.9 819.0,99.9 821.0,89.5 821.1,88.6 823.0,87.8 823.2,87.2 825.0,83.4 826.1,81.6 827.0,83.7 828.9,87.2 829.0,87.1 831.0,86.1 833.0,85.9 834.5,84.4 835.0,82.7 836.7,78.7 837.0,79.7 839.0,81.0 840.2,81.6 841.0,82.0 843.0,80.6 845.0,80.8 845.8,81.6 847.0,83.9 849.0,90.0 849.4,91.4 851.0,88.5 852.9,83.0 853.0,83.6 854.2,81.6 855.0,81.3 857.0,77.6 858.5,76.6 859.0,77.1 861.0,77.8 863.0,78.3 864.1,78.0 865.0,78.7 867.0,77.6 869.0,77.9 871.0,79.3 873.0,79.4 875.0,79.9 877.0,79.3 878.2,79.5 879.0,80.1 881.0,78.0 883.0,79.2 883.9,78.0 885.0,79.3 887.0,79.3 888.1,80.2 889.0,82.0 890.9,88.6 891.0,88.7 893.0,90.0 895.0,90.3 895.2,90.7 897.0,87.1 899.0,84.6 899.4,84.4 901.0,82.5 903.0,77.9 904.3,76.6 905.0,78.9 907.0,81.4 907.9,83.7 909.0,83.1 911.0,82.9 912.1,83.7 913.0,84.1 915.0,82.6 916.3,80.9 917.0,80.0 919.0,77.8 920.6,77.3 921.0,78.2 923.0,81.8 923.4,81.6 925.0,88.7 926.2,95.7 927.0,92.7 929.0,84.4 931.0,80.4 931.1,79.5 933.0,82.6 935.0,86.2 936.1,87.9 937.0,87.7 939.0,84.8 941.0,83.2 941.7,83.0 943.0,82.3 945.0,80.6 947.0,79.1 947.4,78.7 949.0,78.9 951.0,80.9 951.6,80.2 953.0,78.9 955.0,78.4 955.1,78.0 957.0,82.1 958.0,83.0 959.0,82.2 961.0,80.4 962.9,80.2 963.0,79.6 965.0,79.3 967.0,79.4 969.0,79.3 971.0,79.7 973.0,79.7 975.0,79.8 977.0,79.9 979.0,80.5 981.0,80.8 983.0,81.0 985.0,80.9"/><polyline points="719.0,105.9 721.0,105.2 723.0,106.1 725.0,105.2 727.0,106.3 729.0,106.1 731.0,105.7 733.0,106.1 735.0,106.0 737.0,105.0 737.5,105.9 739.0,105.7 740.8,105.3 741.0,105.6 743.0,105.7 744.0,105.9 745.0,106.7 747.0,106.4 749.0,105.7 751.0,105.4 753.0,105.2 755.0,106.5 757.0,106.3 759.0,106.1 761.0,105.8 763.0,105.9 765.0,105.3 767.0,106.0 769.0,105.2 771.0,106.1 773.0,106.2 775.0,106.2 777.0,105.4 779.0,105.9 781.0,104.5 781.8,104.0 783.0,104.1 784.3,104.5 785.0,104.5 785.8,106.7 787.0,104.3 787.3,104.2 789.0,103.8 791.0,104.0 793.0,103.2 795.0,103.1 796.4,103.0 797.0,103.9 798.8,104.2 799.0,104.5 800.3,107.1 801.0,105.6 801.8,104.5 803.0,103.6 805.0,104.2 806.4,103.0 807.0,102.3 809.0,102.8 809.5,103.6 811.0,104.9 811.3,104.9 812.8,107.1 813.0,107.1 814.3,104.5 815.0,103.4 816.0,102.3 817.0,102.0 818.3,101.3 819.0,101.4 820.5,102.0 821.0,103.0 822.8,104.5 823.0,105.6 824.6,106.7 825.0,106.9 826.2,104.5 827.0,104.5 828.3,103.6 829.0,103.4 831.0,104.1 832.8,102.7 833.0,102.7 834.5,103.8 835.0,104.8 835.8,105.7 837.0,105.1 837.2,104.0 839.0,103.6 839.2,103.0 841.0,102.4 842.9,102.3 843.0,102.9 845.0,102.9 846.0,102.9 847.0,104.2 849.0,104.0 849.5,103.8 851.0,105.0 851.5,105.3 853.0,107.0 854.5,104.7 855.0,105.6 857.0,103.8 857.4,103.6 859.0,103.2 861.0,104.3 862.9,103.0 863.0,104.1 865.0,103.3 866.5,104.9 867.0,103.8 869.0,105.3 870.9,104.0 871.0,104.9 873.0,103.9 874.0,104.2 875.0,103.9 877.0,105.4 878.2,105.2 879.0,106.1 881.0,104.5 883.0,103.4 885.0,103.6 885.5,103.6 887.0,104.1 889.0,103.8 891.0,104.1 891.3,104.9 892.8,106.9 893.0,106.3 894.3,104.2 895.0,103.1 896.4,103.5 897.0,103.4 899.0,102.6 901.0,103.0 902.5,104.5 903.0,104.2 903.7,106.2 905.0,104.2 907.0,103.0 909.0,101.4 909.2,102.2 911.0,101.7 913.0,103.1 915.0,103.0 917.0,104.3 918.3,104.9 919.0,104.3 921.0,105.0 923.0,103.8 923.8,103.9 925.0,103.4 926.5,104.2 927.0,103.9 928.0,105.3 929.0,106.1 929.2,106.9 930.5,104.5 931.0,104.9 932.9,103.6 933.0,102.9 935.0,103.3 937.0,103.1 939.0,103.8 940.1,103.0 941.0,104.1 943.0,104.0 944.5,105.1 945.0,105.5 945.6,106.2 947.0,104.5 949.0,104.9 951.0,103.9 951.1,103.6 953.0,103.5 955.0,104.7 957.0,104.3 959.0,105.0 960.0,105.9 961.0,106.5 963.0,105.7 965.0,106.6 967.0,106.8 969.0,106.7 971.0,105.8 973.0,104.9 975.0,105.5 977.0,105.3 979.0,106.2 981.0,106.3 983.0,106.7 985.0,105.9"/><polyline points="719.0,127.3 721.0,128.3 723.0,127.2 725.0,127.7 727.0,127.8 729.0,126.7 731.0,126.5 733.0,127.5 735.0,126.5 737.0,127.1 737.5,127.3 739.0,127.8 740.8,126.7 741.0,127.5 743.0,126.3 744.0,127.3 745.0,126.5 747.0,126.7 749.0,128.0 751.0,126.3 753.0,126.8 755.0,126.5 757.0,126.6 759.0,127.3 761.0,126.7 763.0,127.1 765.0,127.8 767.0,127.7 769.0,127.1 771.0,127.9 773.0,127.4 775.0,128.0 777.0,126.8 779.0,127.3 781.0,126.0 781.8,125.5 783.0,125.7 784.3,126.1 785.0,126.8 785.8,128.3 787.0,126.5 787.3,125.8 789.0,125.4 791.0,126.2 793.0,124.8 795.0,125.0 796.4,124.6 797.0,124.9 798.8,125.8 799.0,125.6 800.3,128.7 801.0,126.9 801.8,126.1 803.0,125.2 805.0,124.2 806.4,124.6 807.0,125.9 809.0,126.0 809.5,125.2 811.0,127.2 811.3,126.5 812.8,128.7 813.0,128.4 814.3,126.1 815.0,125.7 816.0,123.9 817.0,122.9 818.3,122.9 819.0,123.1 820.5,123.6 821.0,123.3 822.8,126.1 823.0,126.1 824.6,128.3 825.0,127.1 826.2,126.1 827.0,124.8 828.3,125.2 829.0,126.0 831.0,123.7 832.8,124.3 833.0,125.2 834.5,125.4 835.0,126.6 835.8,127.3 837.0,124.9 837.2,125.6 839.0,124.7 839.2,124.6 841.0,125.4 842.9,123.9 843.0,125.0 845.0,124.5 846.0,124.5 847.0,125.4 849.0,125.8 849.5,125.4 851.0,126.1 851.5,126.9 853.0,128.6 854.5,126.3 855.0,126.2 857.0,125.6 857.4,125.2 859.0,124.8 861.0,125.6 862.9,124.6 863.0,124.5 865.0,126.3 866.5,126.5 867.0,125.4 869.0,125.9 870.9,125.6 871.0,124.5 873.0,126.1 874.0,125.8 875.0,127.0 877.0,126.7 878.2,126.8 879.0,126.8 881.0,126.1 883.0,126.0 885.0,124.6 885.5,125.2 887.0,125.0 889.0,125.4 891.0,126.5 891.3,126.5 892.8,128.5 893.0,128.5 894.3,125.8 895.0,125.3 896.4,125.1 897.0,125.0 899.0,124.4 901.0,124.6 902.5,126.1 903.0,126.9 903.7,127.8 905.0,125.8 907.0,125.3 909.0,123.4 909.2,123.8 911.0,124.7 913.0,124.7 915.0,126.2 917.0,126.2 918.3,126.5 919.0,127.5 921.0,125.6 923.0,126.7 923.8,125.5 925.0,124.9 926.5,125.8 927.0,125.9 928.0,126.9 929.0,129.0 929.2,128.5 930.5,126.1 931.0,124.8 932.9,125.2 933.0,125.4 935.0,125.8 937.0,124.7 939.0,125.7 940.1,124.6 941.0,125.4 943.0,125.6 944.5,126.7 945.0,126.8 945.6,127.8 947.0,126.1 949.0,125.2 951.0,125.5 951.1,125.2 953.0,124.7 955.0,126.3 957.0,125.6 959.0,127.9 960.0,127.3 961.0,127.6 963.0,126.6 965.0,127.2 967.0,126.9 969.0,128.0 971.0,126.9 973.0,127.7 975.0,127.8 977.0,126.9 979.0,126.8 981.0,127.3 983.0,127.1 985.0,127.3"/><polyline points="719.0,153.1 721.0,154.0 723.0,153.8 725.0,153.6 727.0,152.6 729.0,152.8 731.0,153.5 733.0,153.7 735.0,152.1 737.0,152.4 737.5,153.1 739.0,153.5 740.8,152.3 741.0,151.5 743.0,153.1 744.0,153.1 745.0,152.8 747.0,153.4 749.0,153.8 751.0,153.3 753.0,152.9 755.0,152.7 757.0,153.3 759.0,153.4 761.0,152.9 763.0,153.0 765.0,153.2 767.0,152.6 769.0,152.5 771.0,153.2 773.0,152.3 775.0,153.3 777.0,153.7 779.0,153.1 781.0,151.4 781.8,150.8 783.0,151.0 784.3,151.5 785.0,153.7 785.8,154.5 787.0,151.2 787.3,151.2 789.0,150.6 791.0,150.0 793.0,149.8 795.0,150.7 796.4,149.5 797.0,149.6 798.8,151.2 799.0,153.0 800.3,155.1 801.0,152.7 801.8,151.5 803.0,150.3 805.0,150.7 806.4,149.5 807.0,148.5 809.0,150.6 809.5,150.3 811.0,152.6 811.3,152.1 812.8,155.1 813.0,154.7 814.3,151.5 815.0,150.6 816.0,148.5 817.0,149.0 818.3,147.2 819.0,148.7 820.5,148.2 821.0,148.1 822.8,151.5 823.0,151.9 824.6,154.5 825.0,152.6 826.2,151.5 827.0,150.7 828.3,150.3 829.0,149.2 831.0,148.7 832.8,149.1 833.0,149.6 834.5,150.6 835.0,150.5 835.8,153.2 837.0,150.3 837.2,150.9 839.0,148.4 839.2,149.5 841.0,149.8 842.9,148.5 843.0,147.9 845.0,148.0 846.0,149.4 847.0,150.1 849.0,151.0 849.5,150.6 851.0,152.5 851.5,152.7 853.0,154.9 854.5,151.8 855.0,151.7 857.0,150.6 857.4,150.3 859.0,150.6 861.0,149.3 862.9,149.5 863.0,150.5 865.0,151.5 866.5,152.1 867.0,152.9 869.0,152.4 870.9,150.9 871.0,151.8 873.0,151.2 874.0,151.2 875.0,151.6 877.0,152.8 878.2,152.5 879.0,152.5 881.0,151.5 883.0,149.8 885.0,151.5 885.5,150.3 887.0,149.7 889.0,150.6 891.0,151.9 891.3,152.1 892.8,154.8 893.0,154.2 894.3,151.2 895.0,149.8 896.4,150.2 897.0,150.3 899.0,150.0 901.0,149.5 902.5,151.5 903.0,153.3 903.7,153.9 905.0,151.2 907.0,150.1 909.0,148.0 909.2,148.3 911.0,149.2 913.0,149.7 915.0,151.8 917.0,151.9 918.3,152.1 919.0,152.8 921.0,150.2 923.0,151.4 923.8,150.8 925.0,150.2 926.5,151.2 927.0,150.8 928.0,152.7 929.0,154.0 929.2,154.8 930.5,151.5 931.0,150.4 932.9,150.3 933.0,149.2 935.0,149.3 937.0,149.7 939.0,148.9 940.1,149.5 941.0,149.3 943.0,150.9 944.5,152.4 945.0,153.8 945.6,153.9 947.0,151.5 949.0,149.9 951.0,149.6 951.1,150.3 953.0,149.9 955.0,151.8 957.0,152.3 959.0,152.3 960.0,153.1 961.0,153.2 963.0,152.6 965.0,152.5 967.0,153.1 969.0,152.2 971.0,153.9 973.0,153.2 975.0,152.9 977.0,153.2 979.0,154.0 981.0,153.1 983.0,152.9 985.0,153.1"/><polyline points="719.0,174.6 721.0,175.4 723.0,174.3 725.0,175.2 727.0,175.5 729.0,174.2 731.0,175.1 733.0,174.3 735.0,173.9 737.0,174.3 737.5,174.6 739.0,174.6 740.8,173.5 741.0,172.9 743.0,174.6 744.0,174.6 745.0,174.3 747.0,173.9 749.0,174.5 751.0,174.4 753.0,174.5 755.0,175.4 757.0,175.4 759.0,174.1 761.0,175.6 763.0,174.8 765.0,175.5 767.0,175.2 769.0,174.7 771.0,174.1 773.0,175.5 775.0,175.6 777.0,174.8 779.0,174.6 781.0,172.5 781.8,171.6 783.0,171.9 784.3,172.6 785.0,173.4 785.8,176.5 787.0,174.0 787.3,172.2 789.0,171.5 791.0,171.7 793.0,170.5 795.0,171.3 796.4,170.1 797.0,171.9 798.8,172.2 799.0,174.2 800.3,177.3 801.0,175.8 801.8,172.6 803.0,171.1 805.0,170.2 806.4,170.1 807.0,170.4 809.0,170.9 809.5,171.1 811.0,173.7 811.3,173.4 812.8,177.3 813.0,177.0 814.3,172.6 815.0,171.9 816.0,168.7 817.0,168.0 818.3,167.0 819.0,167.6 820.5,168.3 821.0,170.5 822.8,172.6 823.0,173.8 824.6,176.5 825.0,176.7 826.2,172.6 827.0,172.6 828.3,171.1 829.0,169.8 831.0,169.9 832.8,169.5 833.0,169.2 834.5,171.5 835.0,172.1 835.8,174.8 837.0,171.3 837.2,171.8 839.0,169.2 839.2,170.1 841.0,169.4 842.9,168.7 843.0,169.5 845.0,170.5 846.0,169.9 847.0,171.6 849.0,171.4 849.5,171.5 851.0,172.2 851.5,174.2 853.0,177.1 854.5,173.0 855.0,171.8 857.0,170.1 857.4,171.1 859.0,171.8 861.0,169.9 862.9,170.1 863.0,170.8 865.0,171.9 866.5,173.4 867.0,173.4 869.0,173.5 870.9,171.8 871.0,172.3 873.0,171.0 874.0,172.2 875.0,173.0 877.0,173.1 878.2,174.0 879.0,174.9 881.0,172.6 883.0,171.3 885.0,170.5 885.5,171.1 887.0,172.4 889.0,171.5 891.0,172.9 891.3,173.4 892.8,176.9 893.0,175.2 894.3,172.2 895.0,172.6 896.4,170.9 897.0,171.9 899.0,170.4 901.0,170.1 902.5,172.6 903.0,173.0 903.7,175.7 905.0,172.2 907.0,171.5 909.0,168.3 909.2,168.5 911.0,168.7 913.0,170.3 915.0,170.2 917.0,173.7 918.3,173.4 919.0,172.5 921.0,171.5 923.0,171.5 923.8,171.6 925.0,172.4 926.5,172.2 927.0,174.2 928.0,174.2 929.0,175.7 929.2,176.9 930.5,172.6 931.0,172.6 932.9,171.1 933.0,170.4 935.0,171.6 937.0,170.3 939.0,170.1 940.1,170.1 941.0,171.1 943.0,171.8 944.5,173.8 945.0,175.6 945.6,175.7 947.0,172.6 949.0,172.0 951.0,171.0 951.1,171.1 953.0,170.7 955.0,173.0 957.0,172.8 959.0,174.7 960.0,174.6 961.0,175.1 963.0,174.8 965.0,173.7 967.0,175.1 969.0,175.3 971.0,175.3 973.0,175.1 975.0,174.9 977.0,174.3 979.0,174.3 981.0,174.0 983.0,174.9 985.0,174.6"/><polyline points="719.0,199.1 721.0,199.5 723.0,199.9 725.0,198.1 727.0,200.0 729.0,199.7 731.0,198.2 733.0,199.7 735.0,199.7 737.0,198.5 737.5,199.1 739.0,199.2 740.8,197.2 741.0,197.0 743.0,198.4 744.0,199.1 745.0,199.4 747.0,199.5 749.0,199.6 751.0,198.7 753.0,199.1 755.0,198.4 757.0,198.6 759.0,199.1 761.0,198.2 763.0,198.8 765.0,199.7 767.0,198.5 769.0,199.0 771.0,198.2 773.0,199.6 775.0,198.3 777.0,198.5 779.0,199.1 781.0,195.7 781.8,194.4 783.0,195.2 784.3,196.4 785.0,200.4 785.8,203.3 787.0,197.1 787.3,195.7 789.0,194.3 791.0,193.7 793.0,192.6 795.0,192.6 796.4,191.9 797.0,192.9 798.8,195.7 799.0,196.7 800.3,204.7 801.0,199.7 801.8,196.4 803.0,193.7 805.0,191.5 806.4,191.9 807.0,191.3 809.0,192.6 809.5,193.7 811.0,196.5 811.3,197.8 812.8,204.7 813.0,204.9 814.3,196.4 815.0,192.7 816.0,189.5 817.0,187.0 818.3,186.4 819.0,186.4 820.5,188.8 821.0,189.3 822.8,196.4 823.0,198.3 824.6,203.3 825.0,203.1 826.2,196.4 827.0,196.2 828.3,193.7 829.0,194.7 831.0,192.2 832.8,190.9 833.0,191.2 834.5,194.3 835.0,196.2 835.8,200.2 837.0,196.3 837.2,195.0 839.0,191.4 839.2,191.9 841.0,190.8 842.9,189.5 843.0,189.2 845.0,191.5 846.0,191.6 847.0,193.6 849.0,194.5 849.5,194.3 851.0,196.8 851.5,199.2 853.0,204.4 854.5,197.1 855.0,196.8 857.0,194.9 857.4,193.7 859.0,193.3 861.0,191.1 862.9,191.9 863.0,190.8 865.0,195.5 866.5,197.8 867.0,198.2 869.0,196.2 870.9,195.0 871.0,195.8 873.0,195.7 874.0,195.7 875.0,197.5 877.0,197.0 878.2,198.8 879.0,199.2 881.0,196.4 883.0,196.0 885.0,192.7 885.5,193.7 887.0,193.1 889.0,194.3 891.0,196.7 891.3,197.8 892.8,204.0 893.0,203.8 894.3,195.7 895.0,195.4 896.4,193.3 897.0,191.7 899.0,193.3 901.0,191.9 902.5,196.4 903.0,198.1 903.7,201.9 905.0,195.7 907.0,193.8 909.0,188.8 909.2,189.2 911.0,189.4 913.0,192.3 915.0,193.8 917.0,196.3 918.3,197.8 919.0,197.2 921.0,196.4 923.0,193.9 923.8,194.7 925.0,194.4 926.5,195.7 927.0,195.4 928.0,199.2 929.0,204.8 929.2,204.0 930.5,196.4 931.0,195.8 932.9,193.7 933.0,192.9 935.0,191.9 937.0,192.3 939.0,192.4 940.1,191.9 941.0,191.3 943.0,195.0 944.5,198.5 945.0,198.9 945.6,201.9 947.0,196.4 949.0,195.6 951.0,193.8 951.1,193.7 953.0,196.0 955.0,197.1 957.0,198.9 959.0,198.3 960.0,199.1 961.0,199.6 963.0,199.7 965.0,199.8 967.0,199.2 969.0,199.6 971.0,198.2 973.0,198.5 975.0,199.3 977.0,199.2 979.0,199.3 981.0,198.9 983.0,198.2 985.0,199.1"/><polyline points="719.0,221.4 721.0,220.9 723.0,221.6 725.0,222.3 727.0,221.7 729.0,221.4 731.0,221.0 733.0,220.7 735.0,222.4 737.0,221.9 737.5,221.4 739.0,220.1 740.8,219.6 741.0,219.9 743.0,221.3 744.0,221.4 745.0,222.2 747.0,221.0 749.0,221.0 751.0,220.8 753.0,221.6 755.0,222.2 757.0,221.9 759.0,220.7 761.0,221.1 763.0,220.6 765.0,220.7 767.0,221.4 769.0,220.7 771.0,220.9 773.0,220.9 775.0,221.2 777.0,222.1 779.0,221.4 781.0,217.4 781.8,215.8 783.0,216.0 784.3,217.1 785.0,219.3 785.8,223.4 787.0,218.3 787.3,216.5 789.0,215.2 791.0,214.1 793.0,213.7 795.0,212.7 796.4,213.0 797.0,213.3 798.8,216.5 799.0,218.5 800.3,224.7 801.0,222.2 801.8,217.1 803.0,214.6 805.0,214.4 806.4,213.0 807.0,214.6 809.0,215.1 809.5,214.6 811.0,217.1 811.3,218.4 812.8,224.7 813.0,222.9 814.3,217.1 815.0,214.8 816.0,210.8 817.0,209.9 818.3,208.0 819.0,209.6 820.5,210.2 821.0,213.0 822.8,217.1 823.0,218.8 824.6,223.4 825.0,223.4 826.2,217.1 827.0,216.7 828.3,214.6 829.0,214.8 831.0,214.0 832.8,212.1 833.0,212.5 834.5,215.2 835.0,218.2 835.8,220.6 837.0,217.7 837.2,215.9 839.0,213.4 839.2,213.0 841.0,211.5 842.9,210.8 843.0,210.5 845.0,212.5 846.0,212.7 847.0,213.7 849.0,214.9 849.5,215.2 851.0,218.2 851.5,219.7 853.0,224.4 854.5,217.8 855.0,218.0 857.0,215.6 857.4,214.6 859.0,215.5 861.0,215.0 862.9,213.0 863.0,211.7 865.0,215.9 866.5,218.4 867.0,218.9 869.0,217.1 870.9,215.9 871.0,216.3 873.0,215.5 874.0,216.5 875.0,216.8 877.0,219.7 878.2,219.3 879.0,219.2 881.0,217.1 883.0,217.2 885.0,216.2 885.5,214.6 887.0,216.2 889.0,215.2 891.0,219.1 891.3,218.4 892.8,224.1 893.0,224.4 894.3,216.5 895.0,217.0 896.4,214.3 897.0,215.5 899.0,213.3 901.0,213.0 902.5,217.1 903.0,219.0 903.7,222.2 905.0,216.5 907.0,213.5 909.0,211.6 909.2,210.5 911.0,213.4 913.0,213.4 915.0,215.8 917.0,216.9 918.3,218.4 919.0,216.7 921.0,215.9 923.0,214.6 923.8,215.6 925.0,214.9 926.5,216.5 927.0,216.0 928.0,219.7 929.0,223.0 929.2,224.1 930.5,217.1 931.0,216.0 932.9,214.6 933.0,216.0 935.0,212.9 937.0,213.4 939.0,211.9 940.1,213.0 941.0,215.2 943.0,215.9 944.5,219.0 945.0,221.8 945.6,222.2 947.0,217.1 949.0,215.9 951.0,214.8 951.1,214.6 953.0,215.6 955.0,217.8 957.0,218.9 959.0,220.2 960.0,221.4 961.0,220.6 963.0,222.4 965.0,222.1 967.0,222.1 969.0,220.7 971.0,221.7 973.0,220.5 975.0,221.8 977.0,220.5 979.0,221.6 981.0,220.7 983.0,222.4 985.0,221.4"/><polyline points="719.0,243.3 721.0,242.6 723.0,243.9 725.0,244.1 727.0,243.1 729.0,242.9 731.0,242.7 733.0,242.5 735.0,242.7 737.0,242.7 737.5,243.3 739.0,243.1 740.8,241.4 741.0,240.9 743.0,242.1 744.0,243.3 745.0,244.2 747.0,244.1 749.0,242.5 751.0,242.9 753.0,244.3 755.0,243.1 757.0,243.6 759.0,243.7 761.0,243.6 763.0,242.4 765.0,243.7 767.0,243.9 769.0,243.2 771.0,243.0 773.0,243.7 775.0,244.3 777.0,244.2 779.0,243.3 781.0,238.4 781.8,236.4 783.0,236.2 784.3,237.4 785.0,239.7 785.8,244.2 787.0,239.1 787.3,236.8 789.0,235.4 791.0,234.5 793.0,233.7 795.0,234.9 796.4,233.0 797.0,235.5 798.8,236.8 799.0,237.9 800.3,245.6 801.0,243.1 801.8,237.4 803.0,234.7 805.0,235.0 806.4,233.0 807.0,232.1 809.0,234.1 809.5,234.7 811.0,239.6 811.3,238.8 812.8,245.6 813.0,243.7 814.3,237.4 815.0,234.4 816.0,230.6 817.0,229.7 818.3,227.6 819.0,227.9 820.5,230.0 821.0,232.5 822.8,237.4 823.0,237.2 824.6,244.2 825.0,242.9 826.2,237.4 827.0,236.6 828.3,234.7 829.0,232.8 831.0,234.0 832.8,232.0 833.0,233.3 834.5,235.4 835.0,238.8 835.8,241.2 837.0,235.8 837.2,236.1 839.0,233.4 839.2,233.0 841.0,230.7 842.9,230.6 843.0,231.5 845.0,232.4 846.0,232.7 847.0,234.7 849.0,233.8 849.5,235.4 851.0,238.2 851.5,240.2 853.0,245.3 854.5,238.1 855.0,236.2 857.0,236.6 857.4,234.7 859.0,234.7 861.0,232.4 862.9,233.0 863.0,234.0 865.0,236.2 866.5,238.8 867.0,238.2 869.0,238.2 870.9,236.1 871.0,236.8 873.0,236.5 874.0,236.8 875.0,236.8 877.0,238.6 878.2,239.8 879.0,238.8 881.0,237.4 883.0,235.2 885.0,234.0 885.5,234.7 887.0,235.2 889.0,235.4 891.0,239.9 891.3,238.8 892.8,244.9 893.0,244.1 894.3,236.8 895.0,235.7 896.4,234.4 897.0,232.7 899.0,235.0 901.0,233.0 902.5,237.4 903.0,239.1 903.7,242.9 905.0,236.8 907.0,233.0 909.0,231.3 909.2,230.3 911.0,233.0 913.0,233.4 915.0,234.2 917.0,236.1 918.3,238.8 919.0,237.5 921.0,238.9 923.0,236.2 923.8,235.7 925.0,234.9 926.5,236.8 927.0,238.4 928.0,240.2 929.0,244.1 929.2,244.9 930.5,237.4 931.0,235.6 932.9,234.7 933.0,233.3 935.0,233.6 937.0,233.4 939.0,234.6 940.1,233.0 941.0,233.7 943.0,236.1 944.5,239.5 945.0,242.6 945.6,242.9 947.0,237.4 949.0,235.7 951.0,234.2 951.1,234.7 953.0,235.1 955.0,238.1 957.0,240.5 959.0,241.5 960.0,243.3 961.0,244.2 963.0,243.5 965.0,242.3 967.0,243.5 969.0,243.2 971.0,243.6 973.0,243.5 975.0,242.5 977.0,243.3 979.0,243.6 981.0,242.5 983.0,244.1 985.0,243.3"/><polyline points="719.0,267.5 721.0,267.1 723.0,267.4 725.0,267.6 727.0,266.7 729.0,267.5 731.0,268.4 733.0,267.6 735.0,267.5 737.0,268.1 737.5,267.5 739.0,266.5 740.8,265.6 741.0,265.3 743.0,267.6 744.0,267.5 745.0,266.8 747.0,268.3 749.0,268.3 751.0,267.6 753.0,267.5 755.0,266.6 757.0,266.8 759.0,268.0 761.0,268.0 763.0,267.7 765.0,266.8 767.0,267.9 769.0,268.5 771.0,268.2 773.0,267.8 775.0,267.4 777.0,267.3 779.0,267.5 781.0,261.9 781.8,259.7 783.0,259.1 784.3,260.3 785.0,262.4 785.8,267.1 787.0,259.7 787.3,259.7 789.0,258.3 791.0,259.0 793.0,256.6 795.0,255.9 796.4,255.9 797.0,256.5 798.8,259.7 799.0,260.8 800.3,268.5 801.0,266.2 801.8,260.3 803.0,257.6 805.0,258.0 806.4,255.9 807.0,256.9 809.0,258.3 809.5,257.6 811.0,261.1 811.3,261.7 812.8,268.5 813.0,267.9 814.3,260.3 815.0,258.5 816.0,253.5 817.0,252.7 818.3,250.5 819.0,249.8 820.5,252.9 821.0,254.4 822.8,260.3 823.0,261.4 824.6,267.1 825.0,266.0 826.2,260.3 827.0,260.7 828.3,257.6 829.0,258.1 831.0,255.7 832.8,254.9 833.0,255.2 834.5,258.3 835.0,261.4 835.8,264.1 837.0,260.5 837.2,259.0 839.0,255.8 839.2,255.9 841.0,254.4 842.9,253.5 843.0,254.0 845.0,254.9 846.0,255.6 847.0,256.9 849.0,259.1 849.5,258.3 851.0,261.6 851.5,263.1 853.0,268.2 854.5,261.0 855.0,260.7 857.0,257.1 857.4,257.6 859.0,258.1 861.0,257.1 862.9,255.9 863.0,256.4 865.0,258.8 866.5,261.7 867.0,260.1 869.0,259.3 870.9,259.0 871.0,258.2 873.0,260.3 874.0,259.7 875.0,260.6 877.0,263.0 878.2,262.7 879.0,263.4 881.0,260.3 883.0,258.4 885.0,256.8 885.5,257.6 887.0,258.6 889.0,258.3 891.0,261.0 891.3,261.7 892.8,267.8 893.0,267.8 894.3,259.7 895.0,258.7 896.4,257.3 897.0,256.2 899.0,257.9 901.0,255.9 902.5,260.3 903.0,263.4 903.7,265.8 905.0,259.7 907.0,257.5 909.0,254.2 909.2,253.2 911.0,256.1 913.0,256.3 915.0,259.5 917.0,259.0 918.3,261.7 919.0,259.9 921.0,258.7 923.0,259.9 923.8,258.6 925.0,259.1 926.5,259.7 927.0,261.5 928.0,263.1 929.0,265.7 929.2,267.8 930.5,260.3 931.0,258.7 932.9,257.6 933.0,258.8 935.0,257.3 937.0,256.3 939.0,254.9 940.1,255.9 941.0,255.6 943.0,259.0 944.5,262.4 945.0,264.9 945.6,265.8 947.0,260.3 949.0,260.1 951.0,256.4 951.1,257.6 953.0,260.8 955.0,261.0 957.0,262.6 959.0,266.0 960.0,267.5 961.0,267.7 963.0,268.1 965.0,268.3 967.0,266.5 969.0,267.0 971.0,266.8 973.0,266.7 975.0,267.8 977.0,266.8 979.0,267.3 981.0,267.9 983.0,268.1 985.0,267.5"/><polyline points="719.0,288.6 721.0,289.5 723.0,288.4 725.0,289.2 727.0,288.1 729.0,288.6 731.0,288.1 733.0,288.7 735.0,287.7 737.0,288.4 737.5,288.6 739.0,288.0 740.8,288.2 741.0,287.3 743.0,289.1 744.0,288.6 745.0,289.4 747.0,287.9 749.0,288.9 751.0,288.7 753.0,288.5 755.0,288.8 757.0,288.9 759.0,288.2 761.0,288.3 763.0,288.6 765.0,289.6 767.0,289.5 769.0,289.2 771.0,288.5 773.0,289.4 775.0,289.6 777.0,289.4 779.0,288.6 781.0,285.5 781.8,284.2 783.0,283.0 784.3,283.3 785.0,283.3 785.8,284.9 787.0,283.3 787.3,283.1 789.0,282.8 791.0,282.0 793.0,282.4 795.0,282.2 796.4,282.2 797.0,283.3 798.8,283.1 799.0,283.4 800.3,285.2 801.0,283.9 801.8,283.3 803.0,282.6 805.0,281.6 806.4,282.2 807.0,281.5 809.0,283.3 809.5,282.6 811.0,284.5 811.3,283.6 812.8,285.2 813.0,285.8 814.3,283.3 815.0,281.5 816.0,281.7 817.0,280.8 818.3,281.0 819.0,280.3 820.5,281.5 821.0,281.8 822.8,283.3 823.0,282.8 824.6,284.9 825.0,284.5 826.2,283.3 827.0,282.9 828.3,282.6 829.0,282.8 831.0,282.3 832.8,282.0 833.0,282.1 834.5,282.8 835.0,282.3 835.8,284.2 837.0,284.1 837.2,283.0 839.0,282.1 839.2,282.2 841.0,282.8 842.9,281.7 843.0,281.3 845.0,281.1 846.0,282.2 847.0,283.5 849.0,282.7 849.5,282.8 851.0,282.9 851.5,283.9 853.0,285.1 854.5,283.4 855.0,284.4 857.0,283.7 857.4,282.6 859.0,281.6 861.0,283.4 862.9,282.2 863.0,281.4 865.0,282.2 866.5,283.6 867.0,282.7 869.0,284.1 870.9,283.0 871.0,283.2 873.0,283.2 874.0,283.1 875.0,283.7 877.0,283.2 878.2,283.8 879.0,282.7 881.0,283.3 883.0,282.0 885.0,282.1 885.5,282.6 887.0,282.9 889.0,282.8 891.0,282.5 891.3,283.6 892.8,285.0 893.0,283.7 894.3,283.1 895.0,282.2 896.4,282.6 897.0,281.4 899.0,281.4 901.0,282.2 902.5,283.3 903.0,283.0 903.7,284.6 905.0,283.1 907.0,281.5 909.0,281.3 909.2,281.6 911.0,282.7 913.0,282.3 915.0,283.2 917.0,282.2 918.3,283.6 919.0,282.5 921.0,282.9 923.0,282.9 923.8,282.9 925.0,282.9 926.5,283.1 927.0,283.5 928.0,283.9 929.0,285.4 929.2,285.0 930.5,283.3 931.0,283.5 932.9,282.6 933.0,282.1 935.0,282.0 937.0,282.3 939.0,283.4 940.1,282.2 941.0,282.5 943.0,283.0 944.5,283.8 945.0,285.1 945.6,284.6 947.0,283.3 949.0,283.9 951.0,283.4 951.1,282.6 953.0,283.3 955.0,283.4 957.0,284.0 959.0,283.1 960.0,283.6 961.0,283.0 963.0,283.4 965.0,283.0 967.0,283.0 969.0,282.8 971.0,283.0 973.0,282.6 975.0,282.9 977.0,284.1 979.0,282.7 981.0,284.0 983.0,284.0 985.0,283.6"/><polyline points="719.0,316.0 721.0,316.7 723.0,315.4 725.0,316.9 727.0,316.0 729.0,315.8 731.0,316.2 733.0,315.3 735.0,315.4 737.0,315.8 737.5,316.0 739.0,315.1 740.8,315.1 741.0,315.5 743.0,315.6 744.0,316.0 745.0,315.8 747.0,315.6 749.0,315.4 751.0,316.4 753.0,316.8 755.0,315.7 757.0,316.6 759.0,315.6 761.0,316.5 763.0,315.5 765.0,316.1 767.0,315.8 769.0,316.7 771.0,316.5 773.0,315.2 775.0,315.2 777.0,315.9 779.0,316.0 781.0,311.7 781.8,310.0 783.0,308.8 784.3,309.4 785.0,310.1 785.8,312.6 787.0,309.1 787.3,309.0 789.0,308.4 791.0,309.2 793.0,307.6 795.0,308.5 796.4,307.3 797.0,306.5 798.8,309.0 799.0,308.4 800.3,313.2 801.0,311.7 801.8,309.4 803.0,308.1 805.0,308.8 806.4,307.3 807.0,308.4 809.0,308.4 809.5,308.1 811.0,310.3 811.3,310.0 812.8,313.2 813.0,312.6 814.3,309.4 815.0,308.0 816.0,306.2 817.0,306.5 818.3,304.7 819.0,304.1 820.5,305.8 821.0,307.1 822.8,309.4 823.0,310.3 824.6,312.6 825.0,310.9 826.2,309.4 827.0,309.6 828.3,308.1 829.0,307.0 831.0,308.5 832.8,306.8 833.0,307.7 834.5,308.4 835.0,309.3 835.8,311.1 837.0,309.3 837.2,308.7 839.0,308.6 839.2,307.3 841.0,306.4 842.9,306.2 843.0,305.4 845.0,307.3 846.0,307.1 847.0,308.5 849.0,307.3 849.5,308.4 851.0,310.8 851.5,310.6 853.0,313.0 854.5,309.7 855.0,309.1 857.0,308.8 857.4,308.1 859.0,307.8 861.0,308.7 862.9,307.3 863.0,307.6 865.0,310.1 866.5,310.0 867.0,311.0 869.0,308.3 870.9,308.7 871.0,309.9 873.0,309.6 874.0,309.0 875.0,308.5 877.0,310.3 878.2,310.5 879.0,309.6 881.0,309.4 883.0,307.6 885.0,307.1 885.5,308.1 887.0,307.9 889.0,308.4 891.0,310.8 891.3,310.0 892.8,312.9 893.0,311.3 894.3,309.0 895.0,308.9 896.4,307.9 897.0,308.8 899.0,307.2 901.0,307.3 902.5,309.4 903.0,311.0 903.7,311.9 905.0,309.0 907.0,307.8 909.0,306.8 909.2,306.0 911.0,306.6 913.0,307.4 915.0,309.6 917.0,309.1 918.3,310.0 919.0,309.1 921.0,308.3 923.0,308.1 923.8,308.6 925.0,307.8 926.5,309.0 927.0,310.7 928.0,310.6 929.0,311.6 929.2,312.9 930.5,309.4 931.0,310.0 932.9,308.1 933.0,308.8 935.0,307.7 937.0,307.4 939.0,306.2 940.1,307.3 941.0,307.0 943.0,308.7 944.5,310.3 945.0,312.2 945.6,311.9 947.0,309.4 949.0,308.5 951.0,308.8 951.1,308.1 953.0,307.9 955.0,309.7 957.0,308.7 959.0,309.6 960.0,310.0 961.0,309.7 963.0,309.4 965.0,310.3 967.0,310.2 969.0,310.1 971.0,309.6 973.0,309.8 975.0,309.5 977.0,310.1 979.0,309.8 981.0,310.3 983.0,310.9 985.0,310.0"/><polyline points="719.0,338.3 721.0,338.3 723.0,338.6 725.0,338.5 727.0,338.7 729.0,339.1 731.0,338.8 733.0,337.6 735.0,337.7 737.0,338.2 737.5,338.3 739.0,337.7 740.8,337.4 741.0,338.4 743.0,338.5 744.0,338.3 745.0,338.2 747.0,338.0 749.0,337.8 751.0,338.5 753.0,339.1 755.0,337.6 757.0,338.2 759.0,338.0 761.0,338.5 763.0,337.8 765.0,337.4 767.0,338.7 769.0,337.9 771.0,338.6 773.0,339.1 775.0,338.5 777.0,339.1 779.0,338.3 781.0,336.1 781.8,335.2 783.0,335.1 784.3,335.7 785.0,338.1 785.8,339.0 787.0,335.0 787.3,335.4 789.0,334.8 791.0,333.7 793.0,333.9 795.0,334.2 796.4,333.6 797.0,334.0 798.8,335.4 799.0,334.7 800.3,339.7 801.0,338.7 801.8,335.7 803.0,334.4 805.0,334.3 806.4,333.6 807.0,333.6 809.0,334.3 809.5,334.4 811.0,335.2 811.3,336.4 812.8,339.7 813.0,339.3 814.3,335.7 815.0,333.5 816.0,332.4 817.0,332.2 818.3,331.0 819.0,332.5 820.5,332.1 821.0,332.2 822.8,335.7 823.0,335.5 824.6,339.0 825.0,338.4 826.2,335.7 827.0,336.2 828.3,334.4 829.0,333.4 831.0,333.3 832.8,333.1 833.0,333.6 834.5,334.8 835.0,335.0 835.8,337.6 837.0,334.3 837.2,335.1 839.0,334.4 839.2,333.6 841.0,333.4 842.9,332.4 843.0,332.7 845.0,333.2 846.0,333.4 847.0,332.8 849.0,334.5 849.5,334.8 851.0,336.4 851.5,337.1 853.0,339.5 854.5,336.1 855.0,335.8 857.0,333.8 857.4,334.4 859.0,333.1 861.0,333.9 862.9,333.6 863.0,334.2 865.0,335.7 866.5,336.4 867.0,337.4 869.0,335.3 870.9,335.1 871.0,334.8 873.0,334.9 874.0,335.4 875.0,335.8 877.0,336.9 878.2,336.9 879.0,337.5 881.0,335.7 883.0,334.1 885.0,334.8 885.5,334.4 887.0,335.3 889.0,334.8 891.0,336.8 891.3,336.4 892.8,339.4 893.0,338.7 894.3,335.4 895.0,333.9 896.4,334.3 897.0,333.7 899.0,334.1 901.0,333.6 902.5,335.7 903.0,337.6 903.7,338.4 905.0,335.4 907.0,333.2 909.0,332.0 909.2,332.3 911.0,332.6 913.0,333.8 915.0,333.6 917.0,337.0 918.3,336.4 919.0,335.8 921.0,335.5 923.0,336.3 923.8,334.9 925.0,335.9 926.5,335.4 927.0,335.4 928.0,337.1 929.0,340.1 929.2,339.4 930.5,335.7 931.0,336.3 932.9,334.4 933.0,334.6 935.0,333.9 937.0,333.8 939.0,334.6 940.1,333.6 941.0,335.1 943.0,335.1 944.5,336.7 945.0,337.9 945.6,338.4 947.0,335.7 949.0,334.6 951.0,335.4 951.1,334.4 953.0,335.6 955.0,336.1 957.0,338.0 959.0,338.5 960.0,338.3 961.0,338.7 963.0,339.1 965.0,338.2 967.0,338.5 969.0,338.8 971.0,338.2 973.0,337.6 975.0,339.0 977.0,338.4 979.0,338.2 981.0,338.4 983.0,337.9 985.0,338.3"/><polyline points="719.0,358.8 721.0,357.9 723.0,359.5 725.0,359.2 727.0,357.8 729.0,358.9 731.0,358.3 733.0,359.6 735.0,359.5 737.0,358.4 737.5,358.8 739.0,358.3 740.8,357.2 741.0,357.3 743.0,357.9 744.0,358.8 745.0,358.7 747.0,358.6 749.0,358.7 751.0,359.7 753.0,359.3 755.0,357.9 757.0,358.5 759.0,359.7 761.0,359.3 763.0,359.0 765.0,359.1 767.0,359.2 769.0,358.1 771.0,358.6 773.0,358.4 775.0,358.2 777.0,359.2 779.0,358.8 781.0,356.8 781.8,356.1 783.0,357.2 784.3,358.2 785.0,359.4 785.8,363.8 787.0,357.9 787.3,357.6 789.0,356.5 791.0,356.4 793.0,355.1 795.0,356.0 796.4,354.5 797.0,354.7 798.8,357.6 799.0,359.7 800.3,364.9 801.0,362.8 801.8,358.2 803.0,355.9 805.0,354.1 806.4,354.5 807.0,356.1 809.0,354.7 809.5,355.9 811.0,358.7 811.3,359.3 812.8,364.9 813.0,362.8 814.3,358.2 815.0,354.7 816.0,352.6 817.0,352.0 818.3,350.1 819.0,351.7 820.5,352.0 821.0,352.2 822.8,358.2 823.0,358.3 824.6,363.8 825.0,362.7 826.2,358.2 827.0,357.6 828.3,355.9 829.0,354.5 831.0,355.2 832.8,353.7 833.0,352.8 834.5,356.5 835.0,359.6 835.8,361.3 837.0,358.2 837.2,357.1 839.0,355.3 839.2,354.5 841.0,354.9 842.9,352.6 843.0,351.8 845.0,352.8 846.0,354.3 847.0,355.3 849.0,357.4 849.5,356.5 851.0,360.7 851.5,360.4 853.0,364.6 854.5,358.7 855.0,359.1 857.0,356.6 857.4,355.9 859.0,355.1 861.0,355.9 862.9,354.5 863.0,355.1 865.0,358.5 866.5,359.3 867.0,359.8 869.0,358.0 870.9,357.1 871.0,357.5 873.0,356.5 874.0,357.6 875.0,357.6 877.0,360.2 878.2,360.1 879.0,360.2 881.0,358.2 883.0,355.8 885.0,355.3 885.5,355.9 887.0,355.9 889.0,356.5 891.0,359.1 891.3,359.3 892.8,364.3 893.0,363.0 894.3,357.6 895.0,356.6 896.4,355.7 897.0,356.9 899.0,354.7 901.0,354.5 902.5,358.2 903.0,359.9 903.7,362.7 905.0,357.6 907.0,356.4 909.0,352.0 909.2,352.3 911.0,353.6 913.0,354.8 915.0,355.5 917.0,359.3 918.3,359.3 919.0,360.0 921.0,357.3 923.0,357.5 923.8,356.8 925.0,356.4 926.5,357.6 927.0,359.6 928.0,360.4 929.0,363.7 929.2,364.3 930.5,358.2 931.0,357.1 932.9,355.9 933.0,357.3 935.0,355.3 937.0,354.8 939.0,354.8 940.1,354.5 941.0,356.7 943.0,357.1 944.5,359.9 945.0,360.5 945.6,362.7 947.0,358.2 949.0,356.9 951.0,357.2 951.1,355.9 953.0,356.9 955.0,358.7 957.0,359.7 959.0,359.1 960.0,358.8 961.0,359.7 963.0,359.0 965.0,359.6 967.0,358.8 969.0,358.2 971.0,358.5 973.0,358.8 975.0,359.0 977.0,358.7 979.0,358.5 981.0,358.3 983.0,358.8 985.0,358.8"/><polyline points="719.0,385.2 721.0,384.7 723.0,384.4 725.0,385.5 727.0,384.7 729.0,385.4 731.0,384.5 733.0,386.2 735.0,385.5 737.0,384.8 737.5,385.2 739.0,383.4 740.8,383.2 741.0,384.0 743.0,385.4 744.0,385.2 745.0,384.9 747.0,384.4 749.0,386.2 751.0,386.0 753.0,385.1 755.0,384.4 757.0,385.7 759.0,386.1 761.0,384.8 763.0,384.9 765.0,385.9 767.0,385.7 769.0,386.0 771.0,385.4 773.0,384.7 775.0,386.1 777.0,385.8 779.0,385.2 781.0,383.3 781.8,382.6 783.0,384.4 784.3,385.7 785.0,390.4 785.8,393.0 787.0,386.1 787.3,385.0 789.0,383.6 791.0,382.0 793.0,381.7 795.0,382.9 796.4,381.0 797.0,383.4 798.8,385.0 799.0,384.9 800.3,394.5 801.0,389.0 801.8,385.7 803.0,382.8 805.0,380.5 806.4,381.0 807.0,381.9 809.0,381.7 809.5,382.8 811.0,385.4 811.3,387.2 812.8,394.5 813.0,393.4 814.3,385.7 815.0,384.3 816.0,378.4 817.0,376.9 818.3,375.2 819.0,374.6 820.5,377.7 821.0,378.3 822.8,385.7 823.0,385.9 824.6,393.0 825.0,390.7 826.2,385.7 827.0,383.7 828.3,382.8 829.0,381.0 831.0,380.5 832.8,379.9 833.0,379.4 834.5,383.6 835.0,385.0 835.8,389.8 837.0,383.7 837.2,384.3 839.0,381.5 839.2,381.0 841.0,380.6 842.9,378.4 843.0,378.0 845.0,378.6 846.0,380.6 847.0,381.2 849.0,381.7 849.5,383.6 851.0,386.2 851.5,388.7 853.0,394.1 854.5,386.5 855.0,385.1 857.0,384.7 857.4,382.8 859.0,380.8 861.0,381.6 862.9,381.0 863.0,379.6 865.0,384.1 866.5,387.2 867.0,388.5 869.0,386.7 870.9,384.3 871.0,384.2 873.0,384.0 874.0,385.0 875.0,385.0 877.0,387.5 878.2,388.3 879.0,387.4 881.0,385.7 883.0,383.7 885.0,381.6 885.5,382.8 887.0,384.1 889.0,383.6 891.0,388.4 891.3,387.2 892.8,393.8 893.0,394.1 894.3,385.0 895.0,384.2 896.4,382.5 897.0,381.9 899.0,380.4 901.0,381.0 902.5,385.7 903.0,389.8 903.7,391.6 905.0,385.0 907.0,381.5 909.0,377.0 909.2,378.1 911.0,381.2 913.0,381.4 915.0,384.1 917.0,386.6 918.3,387.2 919.0,386.9 921.0,384.6 923.0,385.4 923.8,383.9 925.0,385.2 926.5,385.0 927.0,386.3 928.0,388.7 929.0,394.4 929.2,393.8 930.5,385.7 931.0,384.1 932.9,382.8 933.0,384.3 935.0,382.3 937.0,381.4 939.0,379.8 940.1,381.0 941.0,383.1 943.0,384.3 944.5,387.9 945.0,390.8 945.6,391.6 947.0,385.7 949.0,385.4 951.0,382.7 951.1,382.8 953.0,384.9 955.0,386.5 957.0,386.3 959.0,385.9 960.0,385.2 961.0,385.0 963.0,384.4 965.0,384.9 967.0,384.9 969.0,384.3 971.0,384.6 973.0,385.5 975.0,385.2 977.0,384.6 979.0,385.9 981.0,384.3 983.0,384.2 985.0,385.2"/><polyline points="719.0,407.1 721.0,407.9 723.0,406.5 725.0,406.3 727.0,406.3 729.0,407.6 731.0,407.8 733.0,408.1 735.0,407.5 737.0,407.4 737.5,407.1 739.0,406.5 740.8,404.9 741.0,405.0 743.0,406.5 744.0,407.1 745.0,406.4 747.0,406.2 749.0,407.8 751.0,407.7 753.0,408.0 755.0,407.6 757.0,407.3 759.0,406.4 761.0,407.8 763.0,407.2 765.0,407.8 767.0,407.7 769.0,407.7 771.0,407.4 773.0,407.7 775.0,407.0 777.0,407.5 779.0,407.1 781.0,404.8 781.8,403.8 783.0,405.6 784.3,407.0 785.0,410.6 785.8,414.7 787.0,408.3 787.3,406.2 789.0,404.6 791.0,405.3 793.0,402.7 795.0,403.6 796.4,402.0 797.0,403.7 798.8,406.2 799.0,407.9 800.3,416.2 801.0,411.0 801.8,407.0 803.0,403.9 805.0,403.9 806.4,402.0 807.0,402.0 809.0,403.1 809.5,403.9 811.0,409.0 811.3,408.5 812.8,416.2 813.0,414.9 814.3,407.0 815.0,404.5 816.0,399.3 817.0,396.7 818.3,395.8 819.0,397.5 820.5,398.5 821.0,401.9 822.8,407.0 823.0,408.2 824.6,414.7 825.0,413.9 826.2,407.0 827.0,406.0 828.3,403.9 829.0,404.1 831.0,401.8 832.8,400.8 833.0,400.6 834.5,404.6 835.0,408.6 835.8,411.2 837.0,406.8 837.2,405.4 839.0,403.7 839.2,402.0 841.0,400.1 842.9,399.3 843.0,398.5 845.0,401.0 846.0,401.6 847.0,402.8 849.0,402.7 849.5,404.6 851.0,407.3 851.5,410.0 853.0,415.8 854.5,407.7 855.0,407.4 857.0,402.8 857.4,403.9 859.0,402.1 861.0,404.1 862.9,402.0 863.0,403.7 865.0,407.1 866.5,408.5 867.0,407.4 869.0,408.3 870.9,405.4 871.0,405.0 873.0,407.0 874.0,406.2 875.0,406.3 877.0,410.2 878.2,409.7 879.0,407.8 881.0,407.0 883.0,404.1 885.0,403.2 885.5,403.9 887.0,404.6 889.0,404.6 891.0,406.5 891.3,408.5 892.8,415.4 893.0,414.8 894.3,406.2 895.0,406.4 896.4,403.5 897.0,404.3 899.0,403.8 901.0,402.0 902.5,407.0 903.0,410.1 903.7,413.1 905.0,406.2 907.0,402.7 909.0,399.3 909.2,398.9 911.0,399.7 913.0,402.3 915.0,404.8 917.0,407.3 918.3,408.5 919.0,408.1 921.0,408.1 923.0,406.5 923.8,405.0 925.0,404.9 926.5,406.2 927.0,408.8 928.0,410.0 929.0,414.0 929.2,415.4 930.5,407.0 931.0,406.4 932.9,403.9 933.0,402.5 935.0,403.7 937.0,402.3 939.0,400.6 940.1,402.0 941.0,401.9 943.0,405.4 944.5,409.3 945.0,412.3 945.6,413.1 947.0,407.0 949.0,406.9 951.0,404.0 951.1,403.9 953.0,406.8 955.0,407.7 957.0,407.5 959.0,406.2 960.0,407.1 961.0,406.4 963.0,407.3 965.0,407.7 967.0,407.1 969.0,408.0 971.0,407.9 973.0,406.2 975.0,406.3 977.0,407.4 979.0,408.0 981.0,407.3 983.0,407.6 985.0,407.1"/><polyline points="719.0,427.6 721.0,428.2 723.0,427.8 725.0,428.0 727.0,426.6 729.0,427.9 731.0,428.1 733.0,427.6 735.0,427.6 737.0,427.1 737.5,427.6 739.0,427.2 740.8,427.1 741.0,427.3 743.0,428.2 744.0,427.6 745.0,427.7 747.0,427.5 749.0,427.2 751.0,428.1 753.0,427.2 755.0,426.7 757.0,427.7 759.0,427.6 761.0,428.3 763.0,427.5 765.0,428.0 767.0,427.3 769.0,427.6 771.0,426.8 773.0,427.5 775.0,427.0 777.0,427.4 779.0,427.6 781.0,426.9 781.8,426.6 783.0,426.9 784.3,427.2 785.0,427.5 785.8,429.0 787.0,427.9 787.3,427.1 789.0,426.7 791.0,426.2 793.0,426.2 795.0,425.9 796.4,426.1 797.0,426.1 798.8,427.1 799.0,427.7 800.3,429.4 801.0,428.2 801.8,427.2 803.0,426.5 805.0,426.9 806.4,426.1 807.0,426.6 809.0,426.1 809.5,426.5 811.0,427.6 811.3,427.6 812.8,429.4 813.0,429.4 814.3,427.2 815.0,425.4 816.0,425.4 817.0,424.9 818.3,424.6 819.0,424.3 820.5,425.3 821.0,425.4 822.8,427.2 823.0,427.2 824.6,429.0 825.0,429.7 826.2,427.2 827.0,427.5 828.3,426.5 829.0,425.9 831.0,425.0 832.8,425.8 833.0,426.5 834.5,426.7 835.0,427.0 835.8,428.2 837.0,426.0 837.2,426.9 839.0,425.7 839.2,426.1 841.0,425.0 842.9,425.4 843.0,426.6 845.0,425.2 846.0,426.0 847.0,426.2 849.0,425.5 849.5,426.7 851.0,428.5 851.5,428.0 853.0,429.3 854.5,427.4 855.0,427.3 857.0,425.5 857.4,426.5 859.0,426.6 861.0,427.1 862.9,426.1 863.0,426.1 865.0,427.1 866.5,427.6 867.0,428.5 869.0,427.0 870.9,426.9 871.0,427.0 873.0,427.9 874.0,427.1 875.0,427.6 877.0,427.7 878.2,427.9 879.0,427.3 881.0,427.2 883.0,427.2 885.0,427.2 885.5,426.5 887.0,427.1 889.0,426.7 891.0,426.8 891.3,427.6 892.8,429.2 893.0,428.5 894.3,427.1 895.0,426.9 896.4,426.4 897.0,425.5 899.0,426.9 901.0,426.1 902.5,427.2 903.0,427.3 903.7,428.7 905.0,427.1 907.0,425.8 909.0,424.9 909.2,425.4 911.0,425.1 913.0,426.2 915.0,427.5 917.0,427.0 918.3,427.6 919.0,426.5 921.0,427.9 923.0,427.6 923.8,426.8 925.0,425.9 926.5,427.1 927.0,426.5 928.0,428.0 929.0,427.9 929.2,429.2 930.5,427.2 931.0,427.1 932.9,426.5 933.0,426.8 935.0,425.8 937.0,426.2 939.0,426.8 940.1,426.1 941.0,425.5 943.0,426.9 944.5,427.8 945.0,427.8 945.6,428.7 947.0,427.2 949.0,426.7 951.0,426.4 951.1,426.5 953.0,427.1 955.0,427.4 957.0,427.6 959.0,426.9 960.0,427.6 961.0,426.7 963.0,427.4 965.0,427.3 967.0,427.5 969.0,426.7 971.0,428.3 973.0,426.8 975.0,426.8 977.0,427.5 979.0,427.8 981.0,426.8 983.0,428.3 985.0,427.6"/><polyline points="719.0,449.7 721.0,449.2 723.0,449.0 725.0,449.5 727.0,449.0 729.0,449.5 731.0,448.9 733.0,449.8 735.0,449.8 737.0,449.4 737.5,449.7 739.0,450.1 740.8,449.3 741.0,448.3 743.0,450.5 744.0,449.7 745.0,449.6 747.0,449.0 749.0,449.5 751.0,449.5 753.0,448.7 755.0,450.1 757.0,450.0 759.0,449.9 761.0,450.0 763.0,450.5 765.0,449.7 767.0,449.8 769.0,450.6 771.0,450.5 773.0,449.0 775.0,448.9 777.0,450.5 779.0,449.7 781.0,449.1 781.8,448.8 783.0,449.1 784.3,449.4 785.0,450.4 785.8,451.0 787.0,448.5 787.3,449.2 789.0,448.9 791.0,448.0 793.0,448.5 795.0,448.0 796.4,448.3 797.0,448.4 798.8,449.2 799.0,449.0 800.3,451.3 801.0,450.0 801.8,449.4 803.0,448.7 805.0,448.6 806.4,448.3 807.0,449.4 809.0,449.1 809.5,448.7 811.0,450.5 811.3,449.7 812.8,451.3 813.0,449.9 814.3,449.4 815.0,448.2 816.0,447.8 817.0,448.4 818.3,447.1 819.0,447.4 820.5,447.6 821.0,447.6 822.8,449.4 823.0,449.0 824.6,451.0 825.0,451.4 826.2,449.4 827.0,450.3 828.3,448.7 829.0,449.0 831.0,448.9 832.8,448.1 833.0,448.7 834.5,448.9 835.0,450.0 835.8,450.3 837.0,449.1 837.2,449.1 839.0,449.1 839.2,448.3 841.0,448.4 842.9,447.8 843.0,448.8 845.0,449.0 846.0,448.3 847.0,447.9 849.0,448.8 849.5,448.9 851.0,449.5 851.5,450.0 853.0,451.2 854.5,449.5 855.0,448.5 857.0,448.4 857.4,448.7 859.0,449.7 861.0,448.2 862.9,448.3 863.0,447.5 865.0,449.0 866.5,449.7 867.0,449.9 869.0,450.1 870.9,449.1 871.0,448.7 873.0,449.5 874.0,449.2 875.0,448.8 877.0,450.8 878.2,449.9 879.0,449.7 881.0,449.4 883.0,449.8 885.0,449.7 885.5,448.7 887.0,449.3 889.0,448.9 891.0,449.5 891.3,449.7 892.8,451.1 893.0,451.3 894.3,449.2 895.0,449.2 896.4,448.7 897.0,449.1 899.0,449.5 901.0,448.3 902.5,449.4 903.0,449.6 903.7,450.7 905.0,449.2 907.0,448.1 909.0,447.3 909.2,447.7 911.0,448.0 913.0,448.4 915.0,449.6 917.0,449.0 918.3,449.7 919.0,449.6 921.0,450.5 923.0,448.5 923.8,449.0 925.0,448.2 926.5,449.2 927.0,448.5 928.0,450.0 929.0,451.5 929.2,451.1 930.5,449.4 931.0,448.3 932.9,448.7 933.0,448.4 935.0,449.0 937.0,448.4 939.0,448.3 940.1,448.3 941.0,448.6 943.0,449.1 944.5,449.9 945.0,450.5 945.6,450.7 947.0,449.4 949.0,447.9 951.0,449.0 951.1,448.7 953.0,449.5 955.0,449.5 957.0,450.7 959.0,449.6 960.0,449.7 961.0,449.8 963.0,448.8 965.0,449.5 967.0,448.8 969.0,449.8 971.0,449.0 973.0,450.2 975.0,449.1 977.0,449.0 979.0,449.4 981.0,450.3 983.0,449.5 985.0,449.7"/><polyline points="719.0,471.6 721.0,472.0 723.0,471.0 725.0,470.8 727.0,471.3 729.0,472.1 731.0,471.2 733.0,472.4 735.0,471.8 737.0,471.6 737.5,471.6 739.0,470.8 740.8,469.4 741.0,469.7 743.0,471.0 744.0,471.6 745.0,472.2 747.0,472.0 749.0,471.6 751.0,470.6 753.0,471.0 755.0,470.9 757.0,472.4 759.0,472.5 761.0,471.4 763.0,472.1 765.0,470.7 767.0,472.3 769.0,470.7 771.0,472.2 773.0,471.9 775.0,472.4 777.0,472.1 779.0,471.6 781.0,469.0 781.8,468.0 783.0,469.6 784.3,471.0 785.0,474.5 785.8,478.8 787.0,470.6 787.3,470.3 789.0,468.7 791.0,466.7 793.0,466.8 795.0,467.5 796.4,466.0 797.0,467.6 798.8,470.3 799.0,469.9 800.3,480.4 801.0,477.0 801.8,471.0 803.0,467.9 805.0,465.3 806.4,466.0 807.0,464.7 809.0,469.0 809.5,467.9 811.0,473.2 811.3,472.6 812.8,480.4 813.0,478.7 814.3,471.0 815.0,468.8 816.0,463.2 817.0,460.8 818.3,459.7 819.0,459.5 820.5,462.5 821.0,465.3 822.8,471.0 823.0,471.1 824.6,478.8 825.0,475.5 826.2,471.0 827.0,471.1 828.3,467.9 829.0,467.5 831.0,467.0 832.8,464.8 833.0,466.5 834.5,468.7 835.0,471.8 835.8,475.3 837.0,469.0 837.2,469.5 839.0,465.2 839.2,466.0 841.0,465.9 842.9,463.2 843.0,463.4 845.0,463.8 846.0,465.6 847.0,467.3 849.0,469.5 849.5,468.7 851.0,471.6 851.5,474.2 853.0,480.0 854.5,471.8 855.0,471.4 857.0,470.0 857.4,467.9 859.0,466.1 861.0,467.5 862.9,466.0 863.0,465.9 865.0,470.7 866.5,472.6 867.0,470.9 869.0,470.9 870.9,469.5 871.0,468.6 873.0,468.7 874.0,470.3 875.0,472.2 877.0,471.3 878.2,473.8 879.0,471.7 881.0,471.0 883.0,470.9 885.0,467.1 885.5,467.9 887.0,469.8 889.0,468.7 891.0,471.9 891.3,472.6 892.8,479.6 893.0,478.9 894.3,470.3 895.0,469.8 896.4,467.5 897.0,466.6 899.0,466.1 901.0,466.0 902.5,471.0 903.0,473.1 903.7,477.3 905.0,470.3 907.0,465.7 909.0,462.8 909.2,462.9 911.0,465.2 913.0,466.4 915.0,467.2 917.0,469.4 918.3,472.6 919.0,471.4 921.0,470.8 923.0,468.4 923.8,469.1 925.0,468.1 926.5,470.3 927.0,469.9 928.0,474.2 929.0,479.6 929.2,479.6 930.5,471.0 931.0,470.9 932.9,467.9 933.0,466.3 935.0,465.8 937.0,466.4 939.0,465.0 940.1,466.0 941.0,467.8 943.0,469.5 944.5,473.4 945.0,474.9 945.6,477.3 947.0,471.0 949.0,468.0 951.0,468.0 951.1,467.9 953.0,471.4 955.0,471.8 957.0,471.9 959.0,472.7 960.0,471.6 961.0,471.4 963.0,471.9 965.0,471.8 967.0,471.8 969.0,472.3 971.0,471.3 973.0,470.8 975.0,471.7 977.0,471.6 979.0,471.4 981.0,472.4 983.0,470.6 985.0,471.6"/><polyline points="719.0,497.9 721.0,498.8 723.0,497.3 725.0,498.5 727.0,498.0 729.0,498.9 731.0,498.0 733.0,497.8 735.0,497.1 737.0,497.8 737.5,497.9 739.0,497.8 740.8,495.6 741.0,496.8 743.0,496.7 744.0,497.9 745.0,498.5 747.0,497.3 749.0,498.1 751.0,497.7 753.0,497.4 755.0,497.8 757.0,498.4 759.0,498.3 761.0,497.6 763.0,497.2 765.0,496.9 767.0,498.7 769.0,497.9 771.0,497.9 773.0,497.7 775.0,497.1 777.0,497.4 779.0,497.9 781.0,497.0 781.8,496.7 783.0,499.4 784.3,500.9 785.0,506.3 785.8,509.0 787.0,501.4 787.3,500.1 789.0,498.4 791.0,497.6 793.0,496.4 795.0,497.5 796.4,495.6 797.0,497.1 798.8,500.1 799.0,500.4 800.3,510.6 801.0,504.6 801.8,500.9 803.0,497.6 805.0,495.3 806.4,495.6 807.0,494.7 809.0,496.2 809.5,497.6 811.0,500.5 811.3,502.5 812.8,510.6 813.0,508.7 814.3,500.9 815.0,497.4 816.0,492.8 817.0,490.8 818.3,489.1 819.0,489.6 820.5,492.0 821.0,494.0 822.8,500.9 823.0,500.8 824.6,509.0 825.0,508.6 826.2,500.9 827.0,498.7 828.3,497.6 829.0,497.6 831.0,495.3 832.8,494.4 833.0,495.0 834.5,498.4 835.0,499.4 835.8,505.3 837.0,501.8 837.2,499.3 839.0,497.3 839.2,495.6 841.0,492.6 842.9,492.8 843.0,492.1 845.0,495.9 846.0,495.2 847.0,497.1 849.0,498.2 849.5,498.4 851.0,503.8 851.5,504.1 853.0,510.2 854.5,501.7 855.0,499.7 857.0,499.0 857.4,497.6 859.0,495.9 861.0,495.6 862.9,495.6 863.0,497.3 865.0,499.1 866.5,502.5 867.0,502.3 869.0,501.2 870.9,499.3 871.0,499.1 873.0,500.9 874.0,500.1 875.0,502.5 877.0,502.9 878.2,503.7 879.0,502.4 881.0,500.9 883.0,500.5 885.0,497.2 885.5,497.6 887.0,496.4 889.0,498.4 891.0,503.3 891.3,502.5 892.8,509.8 893.0,507.6 894.3,500.1 895.0,497.6 896.4,497.2 897.0,497.6 899.0,494.7 901.0,495.6 902.5,500.9 903.0,504.3 903.7,507.4 905.0,500.1 907.0,497.5 909.0,491.7 909.2,492.4 911.0,495.2 913.0,496.0 915.0,498.8 917.0,499.9 918.3,502.5 919.0,500.8 921.0,499.4 923.0,499.4 923.8,498.9 925.0,500.8 926.5,500.1 927.0,501.3 928.0,504.1 929.0,508.7 929.2,509.8 930.5,500.9 931.0,499.7 932.9,497.6 933.0,497.9 935.0,497.2 937.0,496.0 939.0,494.9 940.1,495.6 941.0,495.7 943.0,499.3 944.5,503.3 945.0,503.6 945.6,507.4 947.0,500.9 949.0,500.0 951.0,498.0 951.1,497.6 953.0,498.2 955.0,501.7 957.0,501.2 959.0,499.1 960.0,497.9 961.0,496.9 963.0,498.2 965.0,497.0 967.0,497.8 969.0,498.7 971.0,498.2 973.0,497.2 975.0,497.1 977.0,498.8 979.0,496.9 981.0,497.4 983.0,497.2 985.0,497.9"/><polyline points="719.0,524.8 721.0,524.8 723.0,524.7 725.0,524.9 727.0,524.8 729.0,524.8 731.0,524.9 733.0,524.7 735.0,524.9 737.0,524.7 737.5,524.8 739.0,524.6 740.8,524.6 741.0,524.6 743.0,524.8 744.0,524.8 745.0,524.9 747.0,524.9 749.0,524.7 751.0,524.7 753.0,524.7 755.0,524.7 757.0,524.8 759.0,524.8 761.0,524.7 763.0,524.7 765.0,524.9 767.0,524.9 769.0,524.7 771.0,524.9 773.0,524.8 775.0,524.8 777.0,524.9 779.0,524.8 781.0,524.6 781.8,524.5 783.0,524.6 784.3,524.7 785.0,525.0 785.8,525.3 787.0,524.7 787.3,524.6 789.0,524.5 791.0,524.4 793.0,524.3 795.0,524.3 796.4,524.3 797.0,524.5 798.8,524.6 799.0,524.8 800.3,525.4 801.0,524.9 801.8,524.7 803.0,524.4 805.0,524.2 806.4,524.3 807.0,524.3 809.0,524.3 809.5,524.4 811.0,524.9 811.3,524.8 812.8,525.4 813.0,525.3 814.3,524.7 815.0,524.3 816.0,524.1 817.0,523.9 818.3,523.8 819.0,523.9 820.5,524.0 821.0,524.2 822.8,524.7 823.0,524.6 824.6,525.3 825.0,525.2 826.2,524.7 827.0,524.5 828.3,524.4 829.0,524.6 831.0,524.2 832.8,524.2 833.0,524.2 834.5,524.5 835.0,524.8 835.8,525.0 837.0,524.6 837.2,524.6 839.0,524.5 839.2,524.3 841.0,524.2 842.9,524.1 843.0,524.1 845.0,524.1 846.0,524.3 847.0,524.3 849.0,524.5 849.5,524.5 851.0,524.9 851.5,524.9 853.0,525.4 854.5,524.7 855.0,524.5 857.0,524.6 857.4,524.4 859.0,524.6 861.0,524.2 862.9,524.3 863.0,524.4 865.0,524.5 866.5,524.8 867.0,524.6 869.0,524.9 870.9,524.6 871.0,524.5 873.0,524.6 874.0,524.6 875.0,524.8 877.0,524.9 878.2,524.9 879.0,525.0 881.0,524.7 883.0,524.8 885.0,524.5 885.5,524.4 887.0,524.3 889.0,524.5 891.0,524.9 891.3,524.8 892.8,525.3 893.0,525.1 894.3,524.6 895.0,524.5 896.4,524.4 897.0,524.3 899.0,524.5 901.0,524.3 902.5,524.7 903.0,524.8 903.7,525.2 905.0,524.6 907.0,524.5 909.0,524.1 909.2,524.0 911.0,524.2 913.0,524.3 915.0,524.6 917.0,524.6 918.3,524.8 919.0,524.6 921.0,524.8 923.0,524.6 923.8,524.5 925.0,524.5 926.5,524.6 927.0,524.6 928.0,524.9 929.0,525.1 929.2,525.3 930.5,524.7 931.0,524.6 932.9,524.4 933.0,524.5 935.0,524.3 937.0,524.3 939.0,524.1 940.1,524.3 941.0,524.4 943.0,524.6 944.5,524.9 945.0,524.9 945.6,525.2 947.0,524.7 949.0,524.7 951.0,524.5 951.1,524.4 953.0,524.6 955.0,524.7 957.0,524.6 959.0,524.8 960.0,524.8 961.0,524.8 963.0,524.9 965.0,524.9 967.0,524.7 969.0,524.7 971.0,524.8 973.0,524.7 975.0,524.7 977.0,524.9 979.0,524.7 981.0,524.7 983.0,524.7 985.0,524.8"/><polyline points="719.0,546.9 721.0,546.8 723.0,546.9 725.0,546.9 727.0,547.0 729.0,546.9 731.0,546.9 733.0,547.0 735.0,546.8 737.0,547.0 737.5,546.9 739.0,546.8 740.8,546.8 741.0,546.8 743.0,547.0 744.0,546.9 745.0,547.0 747.0,546.9 749.0,547.0 751.0,546.8 753.0,546.9 755.0,547.0 757.0,547.0 759.0,546.9 761.0,546.8 763.0,546.9 765.0,546.9 767.0,546.8 769.0,547.0 771.0,546.9 773.0,546.9 775.0,546.8 777.0,546.8 779.0,546.9 781.0,546.7 781.8,546.7 783.0,546.7 784.3,546.8 785.0,547.0 785.8,547.2 787.0,546.7 787.3,546.8 789.0,546.7 791.0,546.6 793.0,546.6 795.0,546.5 796.4,546.6 797.0,546.7 798.8,546.8 799.0,547.0 800.3,547.3 801.0,546.9 801.8,546.8 803.0,546.7 805.0,546.5 806.4,546.6 807.0,546.7 809.0,546.5 809.5,546.7 811.0,546.8 811.3,546.9 812.8,547.3 813.0,547.3 814.3,546.8 815.0,546.7 816.0,546.4 817.0,546.2 818.3,546.2 819.0,546.4 820.5,546.4 821.0,546.6 822.8,546.8 823.0,546.7 824.6,547.2 825.0,547.2 826.2,546.8 827.0,546.7 828.3,546.7 829.0,546.6 831.0,546.6 832.8,546.5 833.0,546.6 834.5,546.7 835.0,546.9 835.8,547.0 837.0,546.7 837.2,546.7 839.0,546.5 839.2,546.6 841.0,546.4 842.9,546.4 843.0,546.3 845.0,546.6 846.0,546.5 847.0,546.7 849.0,546.6 849.5,546.7 851.0,547.0 851.5,547.0 853.0,547.3 854.5,546.9 855.0,546.9 857.0,546.8 857.4,546.7 859.0,546.7 861.0,546.6 862.9,546.6 863.0,546.7 865.0,546.7 866.5,546.9 867.0,546.9 869.0,546.7 870.9,546.7 871.0,546.7 873.0,546.7 874.0,546.8 875.0,546.8 877.0,546.7 878.2,547.0 879.0,546.9 881.0,546.8 883.0,546.7 885.0,546.8 885.5,546.7 887.0,546.8 889.0,546.7 891.0,546.7 891.3,546.9 892.8,547.3 893.0,547.2 894.3,546.8 895.0,546.8 896.4,546.6 897.0,546.5 899.0,546.7 901.0,546.6 902.5,546.8 903.0,546.8 903.7,547.1 905.0,546.8 907.0,546.7 909.0,546.4 909.2,546.4 911.0,546.7 913.0,546.6 915.0,546.7 917.0,546.8 918.3,546.9 919.0,546.8 921.0,546.7 923.0,546.7 923.8,546.7 925.0,546.8 926.5,546.8 927.0,546.8 928.0,547.0 929.0,547.1 929.2,547.3 930.5,546.8 931.0,546.9 932.9,546.7 933.0,546.5 935.0,546.8 937.0,546.6 939.0,546.5 940.1,546.6 941.0,546.7 943.0,546.7 944.5,546.9 945.0,547.1 945.6,547.1 947.0,546.8 949.0,546.9 951.0,546.8 951.1,546.7 953.0,546.6 955.0,546.9 957.0,547.0 959.0,547.0 960.0,546.9 961.0,547.0 963.0,546.9 965.0,546.8 967.0,546.8 969.0,546.8 971.0,547.0 973.0,546.8 975.0,546.9 977.0,547.0 979.0,546.9 981.0,547.0 983.0,547.0 985.0,546.9"/><polyline points="719.0,567.7 721.0,567.7 723.0,567.9 725.0,567.3 727.0,568.6 729.0,568.2 731.0,568.2 733.0,567.6 735.0,568.4 737.0,568.2 737.5,567.7 739.0,567.2 740.8,566.2 741.0,565.5 743.0,567.1 744.0,567.7 745.0,568.6 747.0,567.8 749.0,567.5 751.0,568.0 753.0,567.0 755.0,567.4 757.0,568.3 759.0,567.6 761.0,567.5 763.0,568.6 765.0,567.7 767.0,567.6 769.0,566.9 771.0,567.9 773.0,567.7 775.0,567.3 777.0,568.6 779.0,567.7 781.0,566.0 781.8,565.4 783.0,566.6 784.3,567.6 785.0,570.5 785.8,573.1 787.0,568.4 787.3,567.1 789.0,566.0 791.0,566.3 793.0,564.6 795.0,563.9 796.4,564.0 797.0,566.2 798.8,567.1 799.0,568.6 800.3,574.2 801.0,570.8 801.8,567.6 803.0,565.4 805.0,564.5 806.4,564.0 807.0,565.7 809.0,565.5 809.5,565.4 811.0,566.7 811.3,568.7 812.8,574.2 813.0,574.4 814.3,567.6 815.0,565.1 816.0,562.1 817.0,560.4 818.3,559.6 819.0,560.2 820.5,561.6 821.0,562.0 822.8,567.6 823.0,568.7 824.6,573.1 825.0,572.1 826.2,567.6 827.0,566.6 828.3,565.4 829.0,565.0 831.0,563.6 832.8,563.2 833.0,564.1 834.5,566.0 835.0,568.7 835.8,570.6 837.0,565.7 837.2,566.5 839.0,564.7 839.2,564.0 841.0,564.0 842.9,562.1 843.0,563.6 845.0,564.0 846.0,563.8 847.0,565.7 849.0,566.0 849.5,566.0 851.0,569.9 851.5,569.8 853.0,573.9 854.5,568.2 855.0,568.4 857.0,565.0 857.4,565.4 859.0,565.6 861.0,564.9 862.9,564.0 863.0,564.3 865.0,566.0 866.5,568.7 867.0,569.8 869.0,568.4 870.9,566.5 871.0,567.4 873.0,566.1 874.0,567.1 875.0,566.7 877.0,567.9 878.2,569.5 879.0,568.6 881.0,567.6 883.0,566.1 885.0,566.4 885.5,565.4 887.0,565.3 889.0,566.0 891.0,569.8 891.3,568.7 892.8,573.7 893.0,571.4 894.3,567.1 895.0,566.1 896.4,565.1 897.0,566.1 899.0,564.5 901.0,564.0 902.5,567.6 903.0,569.9 903.7,572.0 905.0,567.1 907.0,565.6 909.0,562.5 909.2,561.8 911.0,562.0 913.0,564.3 915.0,564.6 917.0,569.1 918.3,568.7 919.0,568.1 921.0,567.5 923.0,565.4 923.8,566.2 925.0,566.6 926.5,567.1 927.0,567.5 928.0,569.8 929.0,572.0 929.2,573.7 930.5,567.6 931.0,567.7 932.9,565.4 933.0,565.9 935.0,565.2 937.0,564.3 939.0,565.1 940.1,564.0 941.0,566.2 943.0,566.5 944.5,569.2 945.0,571.5 945.6,572.0 947.0,567.6 949.0,565.2 951.0,565.5 951.1,565.4 953.0,567.2 955.0,568.2 957.0,569.0 959.0,567.9 960.0,567.7 961.0,567.6 963.0,567.3 965.0,567.2 967.0,568.4 969.0,566.7 971.0,568.2 973.0,568.6 975.0,566.8 977.0,567.1 979.0,567.3 981.0,568.3 983.0,568.3 985.0,567.7"/><polyline points="719.0,588.7 721.0,587.8 723.0,587.9 725.0,588.5 727.0,587.9 729.0,589.5 731.0,587.8 733.0,588.8 735.0,588.4 737.0,589.4 737.5,588.7 739.0,587.2 740.8,587.0 741.0,586.7 743.0,587.8 744.0,588.7 745.0,588.2 747.0,587.7 749.0,588.6 751.0,587.9 753.0,588.9 755.0,587.8 757.0,588.3 759.0,588.6 761.0,589.5 763.0,587.9 765.0,588.0 767.0,589.3 769.0,587.7 771.0,589.5 773.0,588.8 775.0,588.2 777.0,589.4 779.0,588.7 781.0,586.0 781.8,584.9 783.0,585.8 784.3,587.0 785.0,590.7 785.8,593.2 787.0,587.2 787.3,586.3 789.0,585.1 791.0,585.3 793.0,583.6 795.0,582.3 796.4,582.9 797.0,584.1 798.8,586.3 799.0,587.5 800.3,594.4 801.0,591.9 801.8,587.0 803.0,584.5 805.0,583.0 806.4,582.9 807.0,582.9 809.0,585.1 809.5,584.5 811.0,587.6 811.3,588.2 812.8,594.4 813.0,594.0 814.3,587.0 815.0,584.8 816.0,580.8 817.0,580.1 818.3,578.0 819.0,579.9 820.5,580.1 821.0,581.6 822.8,587.0 823.0,588.2 824.6,593.2 825.0,591.2 826.2,587.0 827.0,584.6 828.3,584.5 829.0,584.9 831.0,582.0 832.8,582.0 833.0,583.4 834.5,585.1 835.0,588.4 835.8,590.4 837.0,586.9 837.2,585.7 839.0,582.2 839.2,582.9 841.0,581.4 842.9,580.8 843.0,580.5 845.0,580.7 846.0,582.6 847.0,583.2 849.0,585.0 849.5,585.1 851.0,587.8 851.5,589.4 853.0,594.1 854.5,587.6 855.0,586.1 857.0,583.6 857.4,584.5 859.0,584.4 861.0,581.9 862.9,582.9 863.0,582.6 865.0,585.2 866.5,588.2 867.0,588.0 869.0,587.5 870.9,585.7 871.0,587.0 873.0,586.6 874.0,586.3 875.0,588.5 877.0,589.8 878.2,589.1 879.0,588.9 881.0,587.0 883.0,585.0 885.0,584.7 885.5,584.5 887.0,583.7 889.0,585.1 891.0,589.3 891.3,588.2 892.8,593.8 893.0,592.6 894.3,586.3 895.0,586.4 896.4,584.2 897.0,582.6 899.0,582.3 901.0,582.9 902.5,587.0 903.0,588.1 903.7,591.9 905.0,586.3 907.0,582.8 909.0,580.3 909.2,580.5 911.0,581.1 913.0,583.2 915.0,584.9 917.0,586.7 918.3,588.2 919.0,586.6 921.0,585.5 923.0,585.4 923.8,585.4 925.0,584.5 926.5,586.3 927.0,587.2 928.0,589.4 929.0,591.5 929.2,593.8 930.5,587.0 931.0,586.6 932.9,584.5 933.0,583.1 935.0,584.5 937.0,583.2 939.0,582.7 940.1,582.9 941.0,585.3 943.0,585.7 944.5,588.8 945.0,589.5 945.6,591.9 947.0,587.0 949.0,585.7 951.0,585.3 951.1,584.5 953.0,585.5 955.0,587.6 957.0,587.6 959.0,588.8 960.0,588.7 961.0,589.6 963.0,589.5 965.0,588.5 967.0,589.1 969.0,589.1 971.0,588.4 973.0,588.2 975.0,587.9 977.0,589.5 979.0,587.8 981.0,588.7 983.0,588.8 985.0,588.7"/><polyline points="719.0,611.7 721.0,612.6 723.0,611.8 725.0,611.1 727.0,612.6 729.0,611.5 731.0,612.3 733.0,610.8 735.0,611.0 737.0,612.6 737.5,611.7 739.0,612.1 740.8,611.1 741.0,610.2 743.0,611.5 744.0,611.7 745.0,611.6 747.0,611.2 749.0,610.9 751.0,611.3 753.0,611.0 755.0,611.1 757.0,612.4 759.0,611.4 761.0,611.3 763.0,611.5 765.0,610.9 767.0,612.5 769.0,611.7 771.0,612.0 773.0,612.7 775.0,610.9 777.0,611.8 779.0,611.7 781.0,610.7 781.8,610.2 783.0,610.4 784.3,610.8 785.0,611.7 785.8,612.8 787.0,611.7 787.3,610.6 789.0,610.2 791.0,610.2 793.0,609.7 795.0,609.5 796.4,609.5 797.0,608.9 798.8,610.6 799.0,611.0 800.3,613.2 801.0,612.8 801.8,610.8 803.0,610.0 805.0,610.8 806.4,609.5 807.0,609.5 809.0,609.9 809.5,610.0 811.0,611.7 811.3,611.2 812.8,613.2 813.0,612.8 814.3,610.8 815.0,609.8 816.0,608.8 817.0,609.0 818.3,607.9 819.0,609.0 820.5,608.6 821.0,609.7 822.8,610.8 823.0,612.0 824.6,612.8 825.0,611.5 826.2,610.8 827.0,610.6 828.3,610.0 829.0,608.8 831.0,610.6 832.8,609.2 833.0,608.7 834.5,610.2 835.0,610.9 835.8,611.9 837.0,611.1 837.2,610.4 839.0,609.5 839.2,609.5 841.0,609.1 842.9,608.8 843.0,608.8 845.0,609.4 846.0,609.4 847.0,610.0 849.0,610.6 849.5,610.2 851.0,611.2 851.5,611.6 853.0,613.1 854.5,611.0 855.0,610.6 857.0,609.3 857.4,610.0 859.0,608.7 861.0,609.2 862.9,609.5 863.0,610.6 865.0,610.4 866.5,611.2 867.0,610.3 869.0,610.7 870.9,610.4 871.0,611.0 873.0,611.3 874.0,610.6 875.0,610.5 877.0,611.5 878.2,611.5 879.0,610.3 881.0,610.8 883.0,611.2 885.0,609.8 885.5,610.0 887.0,609.2 889.0,610.2 891.0,610.4 891.3,611.2 892.8,613.0 893.0,613.4 894.3,610.6 895.0,611.3 896.4,609.9 897.0,609.1 899.0,610.8 901.0,609.5 902.5,610.8 903.0,610.8 903.7,612.4 905.0,610.6 907.0,608.7 909.0,607.7 909.2,608.7 911.0,608.3 913.0,609.6 915.0,610.7 917.0,611.0 918.3,611.2 919.0,612.1 921.0,610.1 923.0,609.6 923.8,610.3 925.0,611.3 926.5,610.6 927.0,610.9 928.0,611.6 929.0,612.7 929.2,613.0 930.5,610.8 931.0,611.2 932.9,610.0 933.0,608.8 935.0,608.7 937.0,609.6 939.0,608.6 940.1,609.5 941.0,609.4 943.0,610.4 944.5,611.4 945.0,610.9 945.6,612.4 947.0,610.8 949.0,610.5 951.0,609.8 951.1,610.0 953.0,610.2 955.0,611.0 957.0,610.7 959.0,611.4 960.0,611.7 961.0,612.2 963.0,612.6 965.0,612.7 967.0,610.7 969.0,612.0 971.0,612.2 973.0,612.6 975.0,611.8 977.0,611.2 979.0,611.6 981.0,612.6 983.0,611.0 985.0,611.7"/><polyline points="719.0,633.6 721.0,634.4 723.0,633.0 725.0,634.2 727.0,633.2 729.0,634.1 731.0,633.3 733.0,633.8 735.0,633.8 737.0,632.6 737.5,633.6 739.0,633.6 740.8,632.8 741.0,632.1 743.0,633.3 744.0,633.6 745.0,634.3 747.0,633.9 749.0,634.1 751.0,633.2 753.0,633.6 755.0,633.0 757.0,633.6 759.0,632.9 761.0,634.5 763.0,633.2 765.0,633.8 767.0,633.7 769.0,633.5 771.0,634.4 773.0,633.9 775.0,634.1 777.0,633.0 779.0,633.6 781.0,632.2 781.8,631.6 783.0,632.0 784.3,632.5 785.0,633.0 785.8,635.5 787.0,631.7 787.3,632.2 789.0,631.6 791.0,631.9 793.0,630.9 795.0,630.9 796.4,630.6 797.0,629.9 798.8,632.2 799.0,632.6 800.3,636.1 801.0,634.5 801.8,632.5 803.0,631.3 805.0,630.8 806.4,630.6 807.0,631.0 809.0,632.4 809.5,631.3 811.0,632.5 811.3,633.1 812.8,636.1 813.0,636.0 814.3,632.5 815.0,631.9 816.0,629.5 817.0,629.8 818.3,628.1 819.0,628.3 820.5,629.2 821.0,630.0 822.8,632.5 823.0,633.4 824.6,635.5 825.0,635.1 826.2,632.5 827.0,632.7 828.3,631.3 829.0,631.3 831.0,629.9 832.8,630.1 833.0,630.5 834.5,631.6 835.0,632.6 835.8,634.1 837.0,632.7 837.2,631.9 839.0,630.6 839.2,630.6 841.0,630.2 842.9,629.5 843.0,630.2 845.0,629.6 846.0,630.4 847.0,630.4 849.0,630.4 849.5,631.6 851.0,633.0 851.5,633.7 853.0,636.0 854.5,632.8 855.0,631.7 857.0,631.8 857.4,631.3 859.0,630.3 861.0,630.4 862.9,630.6 863.0,630.4 865.0,633.1 866.5,633.1 867.0,632.4 869.0,632.4 870.9,631.9 871.0,632.1 873.0,632.6 874.0,632.2 875.0,633.6 877.0,633.4 878.2,633.6 879.0,632.0 881.0,632.5 883.0,631.3 885.0,630.6 885.5,631.3 887.0,632.0 889.0,631.6 891.0,634.1 891.3,633.1 892.8,635.8 893.0,635.2 894.3,632.2 895.0,632.0 896.4,631.1 897.0,630.5 899.0,631.3 901.0,630.6 902.5,632.5 903.0,632.9 903.7,634.9 905.0,632.2 907.0,631.2 909.0,629.0 909.2,629.4 911.0,630.3 913.0,630.7 915.0,632.6 917.0,633.6 918.3,633.1 919.0,633.6 921.0,631.7 923.0,632.1 923.8,631.8 925.0,631.8 926.5,632.2 927.0,632.8 928.0,633.7 929.0,636.2 929.2,635.8 930.5,632.5 931.0,633.5 932.9,631.3 933.0,630.6 935.0,631.1 937.0,630.7 939.0,631.8 940.1,630.6 941.0,630.9 943.0,631.9 944.5,633.4 945.0,634.0 945.6,634.9 947.0,632.5 949.0,631.1 951.0,630.2 951.1,631.3 953.0,632.3 955.0,632.8 957.0,632.5 959.0,634.0 960.0,633.6 961.0,634.2 963.0,633.5 965.0,632.9 967.0,634.4 969.0,633.6 971.0,633.7 973.0,633.3 975.0,633.4 977.0,633.6 979.0,634.2 981.0,633.4 983.0,633.7 985.0,633.6"/><polyline points="719.0,658.1 721.0,658.2 723.0,658.3 725.0,658.0 727.0,658.4 729.0,658.0 731.0,658.0 733.0,657.4 735.0,657.4 737.0,658.4 737.5,658.1 739.0,656.5 740.8,656.4 741.0,656.9 743.0,657.7 744.0,658.1 745.0,657.8 747.0,658.6 749.0,657.9 751.0,657.9 753.0,658.7 755.0,658.1 757.0,658.1 759.0,657.1 761.0,658.4 763.0,657.7 765.0,657.5 767.0,658.4 769.0,657.9 771.0,657.6 773.0,657.9 775.0,657.6 777.0,657.9 779.0,658.1 781.0,655.8 781.8,654.9 783.0,655.8 784.3,656.9 785.0,660.4 785.8,662.8 787.0,656.2 787.3,656.3 789.0,655.1 791.0,655.6 793.0,653.7 795.0,653.8 796.4,653.1 797.0,654.3 798.8,656.3 799.0,656.3 800.3,664.0 801.0,661.1 801.8,656.9 803.0,654.6 805.0,652.2 806.4,653.1 807.0,653.6 809.0,653.9 809.5,654.6 811.0,658.8 811.3,658.1 812.8,664.0 813.0,661.8 814.3,656.9 815.0,654.5 816.0,651.0 817.0,650.1 818.3,648.4 819.0,650.4 820.5,650.4 821.0,651.7 822.8,656.9 823.0,657.3 824.6,662.8 825.0,661.4 826.2,656.9 827.0,656.9 828.3,654.6 829.0,654.8 831.0,652.7 832.8,652.2 833.0,653.2 834.5,655.1 835.0,657.0 835.8,660.2 837.0,657.0 837.2,655.7 839.0,653.3 839.2,653.1 841.0,651.0 842.9,651.0 843.0,650.1 845.0,653.6 846.0,652.8 847.0,652.0 849.0,655.1 849.5,655.1 851.0,659.1 851.5,659.3 853.0,663.7 854.5,657.5 855.0,656.7 857.0,655.9 857.4,654.6 859.0,654.2 861.0,655.0 862.9,653.1 863.0,654.3 865.0,654.8 866.5,658.1 867.0,658.5 869.0,656.2 870.9,655.7 871.0,656.4 873.0,657.2 874.0,656.3 875.0,657.5 877.0,659.3 878.2,659.0 879.0,658.2 881.0,656.9 883.0,655.5 885.0,656.0 885.5,654.6 887.0,655.5 889.0,655.1 891.0,658.0 891.3,658.1 892.8,663.4 893.0,663.9 894.3,656.3 895.0,655.9 896.4,654.3 897.0,655.2 899.0,652.8 901.0,653.1 902.5,656.9 903.0,658.4 903.7,661.6 905.0,656.3 907.0,653.6 909.0,652.5 909.2,650.7 911.0,653.5 913.0,653.4 915.0,655.3 917.0,657.5 918.3,658.1 919.0,658.5 921.0,656.9 923.0,656.5 923.8,655.4 925.0,655.6 926.5,656.3 927.0,657.5 928.0,659.3 929.0,663.8 929.2,663.4 930.5,656.9 931.0,657.4 932.9,654.6 933.0,653.6 935.0,654.0 937.0,653.4 939.0,653.4 940.1,653.1 941.0,654.6 943.0,655.7 944.5,658.7 945.0,659.5 945.6,661.6 947.0,656.9 949.0,656.1 951.0,656.1 951.1,654.6 953.0,656.9 955.0,657.5 957.0,656.7 959.0,656.9 960.0,658.1 961.0,657.4 963.0,657.2 965.0,657.3 967.0,658.5 969.0,659.1 971.0,657.6 973.0,657.3 975.0,658.9 977.0,658.5 979.0,658.3 981.0,657.7 983.0,657.7 985.0,658.1"/><polyline points="719.0,679.0 721.0,678.1 723.0,679.2 725.0,679.1 727.0,678.2 729.0,678.1 731.0,679.9 733.0,678.8 735.0,678.6 737.0,679.3 737.5,679.0 739.0,679.0 740.8,677.2 741.0,676.9 743.0,679.3 744.0,679.0 745.0,678.6 747.0,679.9 749.0,679.4 751.0,678.2 753.0,679.8 755.0,678.2 757.0,678.2 759.0,679.2 761.0,680.0 763.0,678.0 765.0,679.9 767.0,679.5 769.0,679.4 771.0,678.7 773.0,678.8 775.0,678.6 777.0,679.0 779.0,679.0 781.0,676.7 781.8,675.8 783.0,677.0 784.3,678.2 785.0,680.5 785.8,684.7 787.0,677.7 787.3,677.5 789.0,676.2 791.0,675.0 793.0,674.6 795.0,672.8 796.4,674.0 797.0,675.6 798.8,677.5 799.0,677.7 800.3,686.0 801.0,681.7 801.8,678.2 803.0,675.6 805.0,674.4 806.4,674.0 807.0,675.0 809.0,676.4 809.5,675.6 811.0,679.9 811.3,679.5 812.8,686.0 813.0,684.2 814.3,678.2 815.0,676.5 816.0,671.7 817.0,671.8 818.3,668.8 819.0,669.7 820.5,671.0 821.0,674.0 822.8,678.2 823.0,679.4 824.6,684.7 825.0,682.3 826.2,678.2 827.0,676.3 828.3,675.6 829.0,676.1 831.0,673.1 832.8,673.0 833.0,674.8 834.5,676.2 835.0,679.9 835.8,681.8 837.0,678.4 837.2,676.9 839.0,673.2 839.2,674.0 841.0,671.5 842.9,671.7 843.0,672.9 845.0,672.1 846.0,673.6 847.0,673.7 849.0,676.1 849.5,676.2 851.0,680.2 851.5,680.8 853.0,685.7 854.5,678.9 855.0,678.0 857.0,675.8 857.4,675.6 859.0,675.4 861.0,674.7 862.9,674.0 863.0,674.5 865.0,676.8 866.5,679.5 867.0,677.6 869.0,676.8 870.9,676.9 871.0,676.1 873.0,677.5 874.0,677.5 875.0,677.6 877.0,678.7 878.2,680.5 879.0,681.0 881.0,678.2 883.0,675.9 885.0,677.0 885.5,675.6 887.0,676.2 889.0,676.2 891.0,679.4 891.3,679.5 892.8,685.4 893.0,685.9 894.3,677.5 895.0,675.6 896.4,675.3 897.0,675.7 899.0,675.4 901.0,674.0 902.5,678.2 903.0,681.8 903.7,683.4 905.0,677.5 907.0,674.2 909.0,671.0 909.2,671.4 911.0,672.1 913.0,674.3 915.0,675.8 917.0,678.4 918.3,679.5 919.0,679.0 921.0,677.0 923.0,675.6 923.8,676.6 925.0,676.2 926.5,677.5 927.0,677.8 928.0,680.8 929.0,683.2 929.2,685.4 930.5,678.2 931.0,676.1 932.9,675.6 933.0,675.0 935.0,676.1 937.0,674.3 939.0,674.2 940.1,674.0 941.0,675.4 943.0,676.9 944.5,680.1 945.0,681.1 945.6,683.4 947.0,678.2 949.0,678.4 951.0,676.3 951.1,675.6 953.0,675.7 955.0,678.9 957.0,679.1 959.0,678.3 960.0,679.0 961.0,678.1 963.0,679.9 965.0,679.8 967.0,679.1 969.0,679.8 971.0,678.1 973.0,679.7 975.0,678.8 977.0,678.5 979.0,678.5 981.0,678.9 983.0,679.6 985.0,679.0"/><polyline points="719.0,707.7 721.0,708.6 723.0,707.2 725.0,707.7 727.0,707.0 729.0,706.8 731.0,707.0 733.0,708.0 735.0,707.2 737.0,708.0 737.5,707.7 739.0,707.3 740.8,705.9 741.0,706.2 743.0,706.3 744.0,707.7 745.0,706.9 747.0,707.3 749.0,707.4 751.0,708.5 753.0,708.1 755.0,707.6 757.0,707.0 759.0,707.5 761.0,708.5 763.0,708.4 765.0,707.3 767.0,707.3 769.0,707.4 771.0,708.1 773.0,708.4 775.0,707.1 777.0,707.8 779.0,707.7 781.0,704.5 781.8,703.3 783.0,703.9 784.3,705.0 785.0,706.4 785.8,711.3 787.0,706.0 787.3,704.4 789.0,703.2 791.0,701.0 793.0,701.6 795.0,701.4 796.4,700.9 797.0,701.1 798.8,704.4 799.0,706.3 800.3,712.6 801.0,708.7 801.8,705.0 803.0,702.5 805.0,702.3 806.4,700.9 807.0,701.5 809.0,701.8 809.5,702.5 811.0,706.6 811.3,706.3 812.8,712.6 813.0,711.3 814.3,705.0 815.0,701.3 816.0,698.7 817.0,696.0 818.3,695.9 819.0,696.4 820.5,698.1 821.0,698.9 822.8,705.0 823.0,705.2 824.6,711.3 825.0,710.7 826.2,705.0 827.0,704.9 828.3,702.5 829.0,703.5 831.0,700.7 832.8,700.0 833.0,701.4 834.5,703.2 835.0,705.0 835.8,708.5 837.0,705.0 837.2,703.8 839.0,701.2 839.2,700.9 841.0,700.7 842.9,698.7 843.0,700.1 845.0,699.3 846.0,700.6 847.0,701.8 849.0,704.1 849.5,703.2 851.0,706.6 851.5,707.6 853.0,712.3 854.5,705.7 855.0,704.1 857.0,703.9 857.4,702.5 859.0,702.4 861.0,702.0 862.9,700.9 863.0,700.0 865.0,702.9 866.5,706.3 867.0,704.7 869.0,705.0 870.9,703.8 871.0,705.0 873.0,705.0 874.0,704.4 875.0,704.4 877.0,706.0 878.2,707.2 879.0,705.3 881.0,705.0 883.0,702.4 885.0,704.0 885.5,702.5 887.0,703.1 889.0,703.2 891.0,705.0 891.3,706.3 892.8,712.0 893.0,710.0 894.3,704.4 895.0,704.1 896.4,702.2 897.0,703.3 899.0,702.0 901.0,700.9 902.5,705.0 903.0,707.2 903.7,710.1 905.0,704.4 907.0,701.9 909.0,700.0 909.2,698.4 911.0,700.4 913.0,701.3 915.0,702.4 917.0,703.6 918.3,706.3 919.0,707.4 921.0,703.6 923.0,704.0 923.8,703.5 925.0,704.2 926.5,704.4 927.0,706.6 928.0,707.6 929.0,712.1 929.2,712.0 930.5,705.0 931.0,704.2 932.9,702.5 933.0,703.6 935.0,700.6 937.0,701.3 939.0,701.7 940.1,700.9 941.0,703.4 943.0,703.8 944.5,706.9 945.0,709.5 945.6,710.1 947.0,705.0 949.0,704.5 951.0,702.5 951.1,702.5 953.0,704.7 955.0,705.7 957.0,707.0 959.0,708.0 960.0,707.7 961.0,708.4 963.0,708.1 965.0,707.1 967.0,707.8 969.0,707.9 971.0,706.8 973.0,708.6 975.0,707.4 977.0,708.2 979.0,707.2 981.0,708.1 983.0,707.0 985.0,707.7"/><polyline points="719.0,729.5 721.0,729.7 723.0,730.1 725.0,729.0 727.0,730.3 729.0,730.3 731.0,730.4 733.0,729.8 735.0,729.2 737.0,730.1 737.5,729.5 739.0,727.7 740.8,727.3 741.0,727.6 743.0,728.1 744.0,729.5 745.0,730.1 747.0,729.6 749.0,730.1 751.0,728.8 753.0,730.0 755.0,730.1 757.0,728.8 759.0,728.7 761.0,728.7 763.0,729.0 765.0,730.0 767.0,728.7 769.0,730.4 771.0,729.3 773.0,729.0 775.0,728.9 777.0,728.7 779.0,729.5 781.0,725.5 781.8,723.9 783.0,724.6 784.3,726.0 785.0,729.5 785.8,733.7 787.0,725.4 787.3,725.2 789.0,723.6 791.0,723.1 793.0,721.7 795.0,720.7 796.4,721.0 797.0,720.8 798.8,725.2 799.0,726.5 800.3,735.2 801.0,731.3 801.8,726.0 803.0,722.9 805.0,722.9 806.4,721.0 807.0,720.0 809.0,722.6 809.5,722.9 811.0,725.5 811.3,727.5 812.8,735.2 813.0,735.4 814.3,726.0 815.0,721.6 816.0,718.3 817.0,716.6 818.3,714.8 819.0,716.1 820.5,717.5 821.0,720.2 822.8,726.0 823.0,726.3 824.6,733.7 825.0,733.1 826.2,726.0 827.0,724.3 828.3,722.9 829.0,723.8 831.0,720.4 832.8,719.8 833.0,719.8 834.5,723.6 835.0,726.7 835.8,730.2 837.0,725.3 837.2,724.4 839.0,720.9 839.2,721.0 841.0,720.2 842.9,718.3 843.0,719.2 845.0,718.2 846.0,720.6 847.0,720.3 849.0,722.4 849.5,723.6 851.0,729.1 851.5,729.0 853.0,734.8 854.5,726.7 855.0,726.2 857.0,722.0 857.4,722.9 859.0,722.7 861.0,720.5 862.9,721.0 863.0,720.1 865.0,726.2 866.5,727.5 867.0,726.7 869.0,724.7 870.9,724.4 871.0,723.2 873.0,725.0 874.0,725.2 875.0,726.2 877.0,727.2 878.2,728.7 879.0,727.1 881.0,726.0 883.0,724.2 885.0,724.4 885.5,722.9 887.0,722.6 889.0,723.6 891.0,726.1 891.3,727.5 892.8,734.4 893.0,732.2 894.3,725.2 895.0,722.7 896.4,722.5 897.0,721.9 899.0,721.9 901.0,721.0 902.5,726.0 903.0,729.2 903.7,732.1 905.0,725.2 907.0,720.7 909.0,718.0 909.2,717.9 911.0,720.9 913.0,721.3 915.0,723.6 917.0,725.0 918.3,727.5 919.0,725.8 921.0,726.9 923.0,725.1 923.8,724.0 925.0,723.3 926.5,725.2 927.0,727.0 928.0,729.0 929.0,732.2 929.2,734.4 930.5,726.0 931.0,725.1 932.9,722.9 933.0,723.1 935.0,721.9 937.0,721.3 939.0,721.3 940.1,721.0 941.0,720.6 943.0,724.4 944.5,728.3 945.0,728.7 945.6,732.1 947.0,726.0 949.0,723.6 951.0,723.6 951.1,722.9 953.0,724.5 955.0,726.7 957.0,728.4 959.0,729.2 960.0,729.5 961.0,729.9 963.0,730.3 965.0,729.6 967.0,729.2 969.0,729.0 971.0,729.8 973.0,728.9 975.0,730.4 977.0,730.4 979.0,729.8 981.0,730.4 983.0,729.6 985.0,729.5"/></g></svg>
</body></html>
